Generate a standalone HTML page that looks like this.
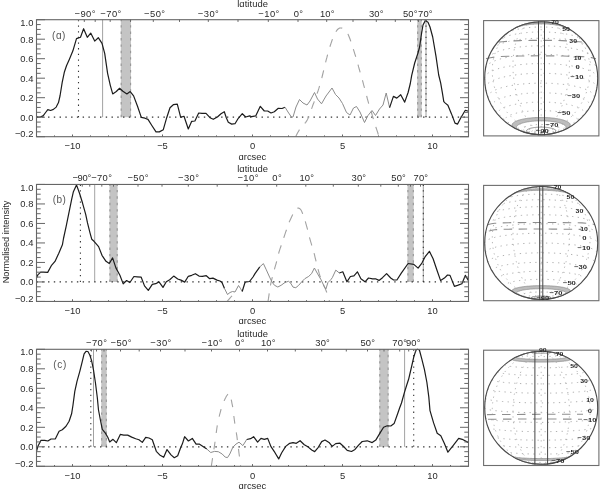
<!DOCTYPE html>
<html><head><meta charset="utf-8"><style>
html,body{margin:0;padding:0;background:#fff;width:600px;height:489px;overflow:hidden}
svg{display:block;will-change:transform}
text{font-family:"Liberation Sans", sans-serif}
</style></head><body>
<svg width="600" height="489" viewBox="0 0 600 489" font-family='"Liberation Sans", sans-serif'>
<rect width="600" height="489" fill="#fff"/>
<rect x="120.80" y="19.70" width="10.20" height="97.50" fill="#c4c4c4"/>
<line x1="121.20" y1="117.20" x2="121.20" y2="19.70" stroke="#959595" stroke-width="1.1" stroke-dasharray="2.4 4.0"/>
<line x1="130.60" y1="117.20" x2="130.60" y2="19.70" stroke="#959595" stroke-width="1.1" stroke-dasharray="2.4 4.0"/>
<rect x="417.30" y="19.70" width="4.40" height="97.50" fill="#c4c4c4"/>
<line x1="417.70" y1="117.20" x2="417.70" y2="19.70" stroke="#959595" stroke-width="1.1" stroke-dasharray="2.4 4.0"/>
<line x1="421.30" y1="117.20" x2="421.30" y2="19.70" stroke="#959595" stroke-width="1.1" stroke-dasharray="2.4 4.0"/>
<line x1="102.60" y1="19.70" x2="102.60" y2="117.20" stroke="#8a8a8a" stroke-width="0.8"/>
<line x1="426.00" y1="19.70" x2="426.00" y2="117.20" stroke="#8a8a8a" stroke-width="0.8"/>
<line x1="78.50" y1="117.20" x2="78.50" y2="20.20" stroke="#333" stroke-width="1.1" stroke-dasharray="1.3 4.35"/>
<line x1="426.00" y1="117.20" x2="426.00" y2="20.20" stroke="#333" stroke-width="1.1" stroke-dasharray="1.3 4.35"/>
<line x1="36.50" y1="117.20" x2="468.50" y2="117.20" stroke="#333" stroke-width="1.2" stroke-dasharray="1.4 4.37"/>
<polyline points="295.8,136.5 296.5,135.1 297.5,133.1 298.7,130.9 299.9,128.9 301.3,127.2 302.9,125.5 304.4,123.9 305.7,122.3 306.7,120.9 307.5,119.5 308.2,118.1 308.9,116.6 309.6,114.9 310.1,113.1 310.7,111.2 311.4,109.2 312.2,107.1 313.0,104.8 313.9,102.5 314.7,100.2 315.5,97.9 316.4,95.5 317.2,93.2 318.0,91.0 318.7,88.9 319.3,86.9 319.9,84.9 320.4,83.0 320.9,81.3 321.3,79.7 321.8,78.0 322.3,76.0 322.9,73.5 323.6,70.7 324.3,67.8 325.0,65.0 325.6,62.4 326.2,59.9 326.9,57.4 327.5,55.0 328.2,52.6 328.9,50.2 329.6,47.8 330.3,45.5 331.1,43.1 331.9,40.8 332.7,38.5 333.5,36.5 334.3,34.8 335.0,33.3 335.7,32.1 336.4,31.0 337.0,30.1 337.6,29.5 338.1,29.0 338.6,28.6 339.1,28.3 339.6,28.1 340.0,28.0 340.5,28.0 340.9,28.0 341.4,28.0 341.8,28.1 342.3,28.3 342.8,28.5 343.3,28.7 343.9,29.1 344.5,29.5 345.1,30.0 345.8,30.7 346.5,31.5 347.2,32.5 347.9,33.9 348.6,35.5 349.3,37.3 350.0,39.0 350.5,40.5 351.0,41.9 351.5,43.5 352.1,45.5 352.9,48.0 353.9,50.8 354.8,53.8 355.8,56.9 356.7,60.1 357.7,63.5 358.6,66.9 359.5,70.0 360.3,72.9 361.1,75.6 361.8,78.1 362.5,80.5 363.1,82.6 363.5,84.4 364.0,86.1 364.5,88.0 365.1,90.1 365.6,92.2 366.2,94.4 366.8,96.5 367.3,98.5 367.8,100.3 368.3,102.2 368.8,104.0 369.3,105.8 369.9,107.4 370.4,109.2 371.0,111.0 371.6,113.0 372.2,115.2 372.9,117.4 373.5,119.5 374.1,121.5 374.7,123.5 375.3,125.4 376.0,127.5 376.8,129.9 377.7,132.5 378.4,134.9 379.0,136.5" fill="none" stroke="#a2a2a2" stroke-width="1.1" stroke-dasharray="8.0 8.20" stroke-dashoffset="0.20"/>
<polyline points="36.5,117.2 40.5,117.0 43.3,115.6 45.6,112.5 47.8,109.6 50.6,110.5 53.4,109.4 56.2,107.1 58.5,102.6 60.1,95.5 62.2,82.3 64.3,72.3 66.5,65.8 69.3,59.4 72.9,50.8 76.5,38.6 78.6,37.9 80.5,37.2 83.6,28.7 87.3,37.3 90.7,33.1 94.7,41.1 98.3,37.7 102.0,43.3 104.7,53.3 107.6,73.3 110.3,85.3 112.7,93.9 116.3,91.5 119.6,88.3 122.9,91.3 126.9,93.9 130.2,91.6 133.6,95.9 137.6,106.5 141.3,117.4 145.0,118.2 148.0,119.4 152.0,125.7 156.0,131.9 159.3,131.9 163.3,129.7 166.7,117.7 170.0,107.7 173.3,104.7 177.3,104.1 180.7,117.3 184.0,116.3 188.3,129.0 191.7,121.3 194.9,121.0 198.7,113.0 202.0,113.4 206.0,113.3 210.0,117.7 213.3,119.3 217.4,117.0 221.0,113.7 224.3,111.7 226.3,117.7 228.3,122.3 231.7,124.1 235.0,123.7 238.3,118.3 242.3,113.7 245.7,117.0 249.7,115.9 251.7,116.7 255.7,115.9 260.3,106.3 264.3,111.0 267.7,111.0 271.0,113.0 274.3,111.7 278.3,108.3 282.0,108.5 285.0,107.2" fill="none" stroke="#1c1c1c" stroke-width="1.2" stroke-linejoin="round"/>
<polyline points="285.0,107.2 288.0,112.0 291.5,117.2 293.0,117.0 296.0,107.0 299.5,99.5 303.0,103.0 307.0,105.0 310.0,101.0 314.5,92.5 317.5,99.0 321.5,103.8 326.0,96.0 332.0,88.0 335.5,94.5 339.0,98.0 342.5,103.5 346.5,112.5 350.0,115.0 353.5,108.0 356.5,106.5 360.0,112.0 364.5,122.5 368.0,115.5 372.0,110.5 375.5,115.5 379.5,109.0 383.0,105.0 386.2,93.0 389.6,107.6" fill="none" stroke="#8c8c8c" stroke-width="1.0" stroke-linejoin="round"/>
<polyline points="389.6,107.6 393.4,96.4 396.8,98.1 400.7,94.7 404.7,102.1 408.1,92.5 410.3,83.5 411.7,75.3 414.7,63.0 418.0,53.0 419.6,47.0 421.3,35.0 423.0,25.0 425.3,20.6 428.0,22.3 430.0,27.0 432.7,37.0 436.0,56.3 438.7,75.0 440.7,83.2 442.3,92.4 443.8,101.6 445.3,103.1 447.9,105.2 451.5,113.9 455.0,123.1 457.6,124.1 460.7,118.0 465.3,110.3 468.5,111.3" fill="none" stroke="#1c1c1c" stroke-width="1.2" stroke-linejoin="round"/>
<rect x="36.50" y="19.70" width="432.00" height="117.00" fill="none" stroke="#666" stroke-width="1.1"/>
<line x1="36.50" y1="136.70" x2="45.00" y2="136.70" stroke="#666" stroke-width="1"/>
<line x1="460.00" y1="136.70" x2="468.50" y2="136.70" stroke="#666" stroke-width="1"/>
<line x1="36.50" y1="131.82" x2="40.70" y2="131.82" stroke="#666" stroke-width="1"/>
<line x1="464.30" y1="131.82" x2="468.50" y2="131.82" stroke="#666" stroke-width="1"/>
<line x1="36.50" y1="126.95" x2="40.70" y2="126.95" stroke="#666" stroke-width="1"/>
<line x1="464.30" y1="126.95" x2="468.50" y2="126.95" stroke="#666" stroke-width="1"/>
<line x1="36.50" y1="122.08" x2="40.70" y2="122.08" stroke="#666" stroke-width="1"/>
<line x1="464.30" y1="122.08" x2="468.50" y2="122.08" stroke="#666" stroke-width="1"/>
<line x1="36.50" y1="117.20" x2="45.00" y2="117.20" stroke="#666" stroke-width="1"/>
<line x1="460.00" y1="117.20" x2="468.50" y2="117.20" stroke="#666" stroke-width="1"/>
<line x1="36.50" y1="112.33" x2="40.70" y2="112.33" stroke="#666" stroke-width="1"/>
<line x1="464.30" y1="112.33" x2="468.50" y2="112.33" stroke="#666" stroke-width="1"/>
<line x1="36.50" y1="107.45" x2="40.70" y2="107.45" stroke="#666" stroke-width="1"/>
<line x1="464.30" y1="107.45" x2="468.50" y2="107.45" stroke="#666" stroke-width="1"/>
<line x1="36.50" y1="102.58" x2="40.70" y2="102.58" stroke="#666" stroke-width="1"/>
<line x1="464.30" y1="102.58" x2="468.50" y2="102.58" stroke="#666" stroke-width="1"/>
<line x1="36.50" y1="97.70" x2="45.00" y2="97.70" stroke="#666" stroke-width="1"/>
<line x1="460.00" y1="97.70" x2="468.50" y2="97.70" stroke="#666" stroke-width="1"/>
<line x1="36.50" y1="92.83" x2="40.70" y2="92.83" stroke="#666" stroke-width="1"/>
<line x1="464.30" y1="92.83" x2="468.50" y2="92.83" stroke="#666" stroke-width="1"/>
<line x1="36.50" y1="87.95" x2="40.70" y2="87.95" stroke="#666" stroke-width="1"/>
<line x1="464.30" y1="87.95" x2="468.50" y2="87.95" stroke="#666" stroke-width="1"/>
<line x1="36.50" y1="83.07" x2="40.70" y2="83.07" stroke="#666" stroke-width="1"/>
<line x1="464.30" y1="83.07" x2="468.50" y2="83.07" stroke="#666" stroke-width="1"/>
<line x1="36.50" y1="78.20" x2="45.00" y2="78.20" stroke="#666" stroke-width="1"/>
<line x1="460.00" y1="78.20" x2="468.50" y2="78.20" stroke="#666" stroke-width="1"/>
<line x1="36.50" y1="73.33" x2="40.70" y2="73.33" stroke="#666" stroke-width="1"/>
<line x1="464.30" y1="73.33" x2="468.50" y2="73.33" stroke="#666" stroke-width="1"/>
<line x1="36.50" y1="68.45" x2="40.70" y2="68.45" stroke="#666" stroke-width="1"/>
<line x1="464.30" y1="68.45" x2="468.50" y2="68.45" stroke="#666" stroke-width="1"/>
<line x1="36.50" y1="63.57" x2="40.70" y2="63.57" stroke="#666" stroke-width="1"/>
<line x1="464.30" y1="63.57" x2="468.50" y2="63.57" stroke="#666" stroke-width="1"/>
<line x1="36.50" y1="58.70" x2="45.00" y2="58.70" stroke="#666" stroke-width="1"/>
<line x1="460.00" y1="58.70" x2="468.50" y2="58.70" stroke="#666" stroke-width="1"/>
<line x1="36.50" y1="53.82" x2="40.70" y2="53.82" stroke="#666" stroke-width="1"/>
<line x1="464.30" y1="53.82" x2="468.50" y2="53.82" stroke="#666" stroke-width="1"/>
<line x1="36.50" y1="48.95" x2="40.70" y2="48.95" stroke="#666" stroke-width="1"/>
<line x1="464.30" y1="48.95" x2="468.50" y2="48.95" stroke="#666" stroke-width="1"/>
<line x1="36.50" y1="44.08" x2="40.70" y2="44.08" stroke="#666" stroke-width="1"/>
<line x1="464.30" y1="44.08" x2="468.50" y2="44.08" stroke="#666" stroke-width="1"/>
<line x1="36.50" y1="39.20" x2="45.00" y2="39.20" stroke="#666" stroke-width="1"/>
<line x1="460.00" y1="39.20" x2="468.50" y2="39.20" stroke="#666" stroke-width="1"/>
<line x1="36.50" y1="34.32" x2="40.70" y2="34.32" stroke="#666" stroke-width="1"/>
<line x1="464.30" y1="34.32" x2="468.50" y2="34.32" stroke="#666" stroke-width="1"/>
<line x1="36.50" y1="29.45" x2="40.70" y2="29.45" stroke="#666" stroke-width="1"/>
<line x1="464.30" y1="29.45" x2="468.50" y2="29.45" stroke="#666" stroke-width="1"/>
<line x1="36.50" y1="24.57" x2="40.70" y2="24.57" stroke="#666" stroke-width="1"/>
<line x1="464.30" y1="24.57" x2="468.50" y2="24.57" stroke="#666" stroke-width="1"/>
<line x1="36.50" y1="19.70" x2="45.00" y2="19.70" stroke="#666" stroke-width="1"/>
<line x1="460.00" y1="19.70" x2="468.50" y2="19.70" stroke="#666" stroke-width="1"/>
<text x="33.40" y="25.80" font-size="9.4" text-anchor="end" fill="#2a2a2a" >1.0</text>
<text x="33.40" y="42.60" font-size="9.4" text-anchor="end" fill="#2a2a2a" >0.8</text>
<text x="33.40" y="62.10" font-size="9.4" text-anchor="end" fill="#2a2a2a" >0.6</text>
<text x="33.40" y="81.60" font-size="9.4" text-anchor="end" fill="#2a2a2a" >0.4</text>
<text x="33.40" y="101.10" font-size="9.4" text-anchor="end" fill="#2a2a2a" >0.2</text>
<text x="33.40" y="120.60" font-size="9.4" text-anchor="end" fill="#2a2a2a" >0.0</text>
<text x="33.40" y="136.90" font-size="9.4" text-anchor="end" fill="#2a2a2a" >−0.2</text>
<line x1="36.50" y1="135.40" x2="36.50" y2="136.70" stroke="#666" stroke-width="1"/>
<line x1="54.50" y1="135.40" x2="54.50" y2="136.70" stroke="#666" stroke-width="1"/>
<line x1="72.50" y1="134.50" x2="72.50" y2="136.70" stroke="#666" stroke-width="1"/>
<line x1="90.50" y1="135.40" x2="90.50" y2="136.70" stroke="#666" stroke-width="1"/>
<line x1="108.50" y1="135.40" x2="108.50" y2="136.70" stroke="#666" stroke-width="1"/>
<line x1="126.50" y1="135.40" x2="126.50" y2="136.70" stroke="#666" stroke-width="1"/>
<line x1="144.50" y1="135.40" x2="144.50" y2="136.70" stroke="#666" stroke-width="1"/>
<line x1="162.50" y1="134.50" x2="162.50" y2="136.70" stroke="#666" stroke-width="1"/>
<line x1="180.50" y1="135.40" x2="180.50" y2="136.70" stroke="#666" stroke-width="1"/>
<line x1="198.50" y1="135.40" x2="198.50" y2="136.70" stroke="#666" stroke-width="1"/>
<line x1="216.50" y1="135.40" x2="216.50" y2="136.70" stroke="#666" stroke-width="1"/>
<line x1="234.50" y1="135.40" x2="234.50" y2="136.70" stroke="#666" stroke-width="1"/>
<line x1="252.50" y1="134.50" x2="252.50" y2="136.70" stroke="#666" stroke-width="1"/>
<line x1="270.50" y1="135.40" x2="270.50" y2="136.70" stroke="#666" stroke-width="1"/>
<line x1="288.50" y1="135.40" x2="288.50" y2="136.70" stroke="#666" stroke-width="1"/>
<line x1="306.50" y1="135.40" x2="306.50" y2="136.70" stroke="#666" stroke-width="1"/>
<line x1="324.50" y1="135.40" x2="324.50" y2="136.70" stroke="#666" stroke-width="1"/>
<line x1="342.50" y1="134.50" x2="342.50" y2="136.70" stroke="#666" stroke-width="1"/>
<line x1="360.50" y1="135.40" x2="360.50" y2="136.70" stroke="#666" stroke-width="1"/>
<line x1="378.50" y1="135.40" x2="378.50" y2="136.70" stroke="#666" stroke-width="1"/>
<line x1="396.50" y1="135.40" x2="396.50" y2="136.70" stroke="#666" stroke-width="1"/>
<line x1="414.50" y1="135.40" x2="414.50" y2="136.70" stroke="#666" stroke-width="1"/>
<line x1="432.50" y1="134.50" x2="432.50" y2="136.70" stroke="#666" stroke-width="1"/>
<line x1="450.50" y1="135.40" x2="450.50" y2="136.70" stroke="#666" stroke-width="1"/>
<line x1="468.50" y1="135.40" x2="468.50" y2="136.70" stroke="#666" stroke-width="1"/>
<text x="72.50" y="149.00" font-size="9.4" text-anchor="middle" fill="#2a2a2a" >−10</text>
<text x="162.50" y="149.00" font-size="9.4" text-anchor="middle" fill="#2a2a2a" >−5</text>
<text x="252.50" y="149.00" font-size="9.4" text-anchor="middle" fill="#2a2a2a" >0</text>
<text x="342.50" y="149.00" font-size="9.4" text-anchor="middle" fill="#2a2a2a" >5</text>
<text x="432.50" y="149.00" font-size="9.4" text-anchor="middle" fill="#2a2a2a" >10</text>
<text x="252.40" y="159.70" font-size="9.4" text-anchor="middle" fill="#2a2a2a" >ɑrcsec</text>
<line x1="84.30" y1="19.70" x2="84.30" y2="21.90" stroke="#666" stroke-width="1"/>
<line x1="95.20" y1="19.70" x2="95.20" y2="21.90" stroke="#666" stroke-width="1"/>
<line x1="110.20" y1="19.70" x2="110.20" y2="21.90" stroke="#666" stroke-width="1"/>
<line x1="130.50" y1="19.70" x2="130.50" y2="21.90" stroke="#666" stroke-width="1"/>
<line x1="153.30" y1="19.70" x2="153.30" y2="21.90" stroke="#666" stroke-width="1"/>
<line x1="179.50" y1="19.70" x2="179.50" y2="21.90" stroke="#666" stroke-width="1"/>
<line x1="208.30" y1="19.70" x2="208.30" y2="21.90" stroke="#666" stroke-width="1"/>
<line x1="238.00" y1="19.70" x2="238.00" y2="21.90" stroke="#666" stroke-width="1"/>
<line x1="268.30" y1="19.70" x2="268.30" y2="21.90" stroke="#666" stroke-width="1"/>
<line x1="298.00" y1="19.70" x2="298.00" y2="21.90" stroke="#666" stroke-width="1"/>
<line x1="326.70" y1="19.70" x2="326.70" y2="21.90" stroke="#666" stroke-width="1"/>
<line x1="353.00" y1="19.70" x2="353.00" y2="21.90" stroke="#666" stroke-width="1"/>
<line x1="376.30" y1="19.70" x2="376.30" y2="21.90" stroke="#666" stroke-width="1"/>
<line x1="395.30" y1="19.70" x2="395.30" y2="21.90" stroke="#666" stroke-width="1"/>
<line x1="410.50" y1="19.70" x2="410.50" y2="21.90" stroke="#666" stroke-width="1"/>
<line x1="418.50" y1="19.70" x2="418.50" y2="21.90" stroke="#666" stroke-width="1"/>
<line x1="425.30" y1="19.70" x2="425.30" y2="21.90" stroke="#666" stroke-width="1"/>
<text x="85.00" y="17.00" font-size="9.4" text-anchor="middle" fill="#2a2a2a"  textLength="21.00" lengthAdjust="spacing">−90°</text>
<text x="110.80" y="17.00" font-size="9.4" text-anchor="middle" fill="#2a2a2a"  textLength="21.00" lengthAdjust="spacing">−70°</text>
<text x="154.60" y="17.00" font-size="9.4" text-anchor="middle" fill="#2a2a2a"  textLength="21.00" lengthAdjust="spacing">−50°</text>
<text x="208.30" y="17.00" font-size="9.4" text-anchor="middle" fill="#2a2a2a"  textLength="21.00" lengthAdjust="spacing">−30°</text>
<text x="268.80" y="17.00" font-size="9.4" text-anchor="middle" fill="#2a2a2a"  textLength="21.00" lengthAdjust="spacing">−10°</text>
<text x="298.30" y="17.00" font-size="9.4" text-anchor="middle" fill="#2a2a2a"  textLength="9.30" lengthAdjust="spacing">0°</text>
<text x="327.20" y="17.00" font-size="9.4" text-anchor="middle" fill="#2a2a2a"  textLength="14.60" lengthAdjust="spacing">10°</text>
<text x="376.20" y="17.00" font-size="9.4" text-anchor="middle" fill="#2a2a2a"  textLength="14.60" lengthAdjust="spacing">30°</text>
<text x="410.20" y="17.00" font-size="9.4" text-anchor="middle" fill="#2a2a2a"  textLength="14.60" lengthAdjust="spacing">50°</text>
<text x="425.30" y="17.00" font-size="9.4" text-anchor="middle" fill="#2a2a2a"  textLength="14.60" lengthAdjust="spacing">70°</text>
<text x="252.60" y="7.10" font-size="9.4" text-anchor="middle" fill="#2a2a2a"  textLength="30.80" lengthAdjust="spacing">lɑtitude</text>
<text x="58.70" y="38.60" font-size="10" text-anchor="middle" fill="#555"  textLength="13.20" lengthAdjust="spacing">(ɑ)</text>
<rect x="109.50" y="184.45" width="8.10" height="97.50" fill="#c4c4c4"/>
<line x1="109.90" y1="281.95" x2="109.90" y2="184.45" stroke="#959595" stroke-width="1.1" stroke-dasharray="2.4 4.0"/>
<line x1="117.20" y1="281.95" x2="117.20" y2="184.45" stroke="#959595" stroke-width="1.1" stroke-dasharray="2.4 4.0"/>
<rect x="407.50" y="184.45" width="6.20" height="97.50" fill="#c4c4c4"/>
<line x1="407.90" y1="281.95" x2="407.90" y2="184.45" stroke="#959595" stroke-width="1.1" stroke-dasharray="2.4 4.0"/>
<line x1="413.30" y1="281.95" x2="413.30" y2="184.45" stroke="#959595" stroke-width="1.1" stroke-dasharray="2.4 4.0"/>
<line x1="94.70" y1="184.45" x2="94.70" y2="281.95" stroke="#8a8a8a" stroke-width="0.8"/>
<line x1="423.30" y1="184.45" x2="423.30" y2="281.95" stroke="#8a8a8a" stroke-width="0.8"/>
<line x1="80.40" y1="281.95" x2="80.40" y2="184.95" stroke="#333" stroke-width="1.1" stroke-dasharray="1.3 4.35"/>
<line x1="423.30" y1="281.95" x2="423.30" y2="184.95" stroke="#333" stroke-width="1.1" stroke-dasharray="1.3 4.35"/>
<line x1="36.50" y1="281.95" x2="468.50" y2="281.95" stroke="#333" stroke-width="1.2" stroke-dasharray="1.4 4.37"/>
<polyline points="268.0,301.3 268.5,298.4 269.1,294.1 269.8,289.6 270.4,286.0 270.8,283.6 271.2,281.8 271.6,280.2 272.0,278.5 272.5,276.6 273.0,274.6 273.5,272.6 274.1,270.5 274.7,268.3 275.3,266.1 276.0,263.8 276.6,261.5 277.2,259.1 277.8,256.7 278.4,254.3 279.0,252.0 279.7,249.8 280.4,247.7 281.1,245.8 281.7,244.0 282.2,242.6 282.6,241.4 283.0,240.1 283.5,238.6 284.2,236.5 285.0,234.1 285.8,231.7 286.6,229.5 287.2,227.6 287.8,225.8 288.4,224.1 289.0,222.5 289.7,220.9 290.4,219.4 291.1,217.9 291.8,216.5 292.5,215.1 293.2,213.8 293.9,212.6 294.5,211.5 295.1,210.5 295.7,209.7 296.2,209.0 296.8,208.5 297.4,208.2 297.9,208.1 298.5,208.1 299.0,208.2 299.5,208.5 300.0,208.9 300.5,209.4 301.0,210.0 301.4,210.7 301.7,211.4 302.1,212.3 302.5,213.4 303.0,214.9 303.7,216.6 304.3,218.5 305.0,220.5 305.7,222.8 306.4,225.3 307.1,227.8 307.7,230.0 308.2,231.8 308.5,233.5 308.9,235.0 309.3,236.8 309.9,238.9 310.5,241.1 311.2,243.4 311.8,245.4 312.3,247.1 312.7,248.5 313.2,249.9 313.6,251.5 314.1,253.3 314.6,255.2 315.0,257.1 315.5,259.0 315.9,260.7 316.3,262.3 316.7,264.1 317.2,266.0 317.8,268.3 318.5,270.9 319.2,273.5 320.0,276.0 320.8,278.2 321.7,280.4 322.5,282.5 323.4,284.5 324.2,286.4 325.1,288.3 325.9,290.2 326.7,292.2 327.5,294.6 328.3,297.2 329.0,299.6 329.5,301.3" fill="none" stroke="#a2a2a2" stroke-width="1.1" stroke-dasharray="8.5 8.00" stroke-dashoffset="0.50"/>
<polyline points="227.2,301.3 227.6,300.8 228.2,300.1 228.9,299.3 229.5,298.6 230.2,297.8 230.9,297.0 231.5,296.3 232.0,295.8" fill="none" stroke="#a2a2a2" stroke-width="1.1" stroke-dasharray="8 8.00" stroke-dashoffset="0.00"/>
<polyline points="36.5,277.9 37.8,274.9 40.7,272.1 43.4,272.1 47.7,272.4 51.3,265.7 55.0,261.4 58.7,253.4 62.4,244.8 63.5,238.5 66.1,226.6 69.1,211.9 71.6,199.6 73.4,191.7 76.5,184.9 79.6,193.5 82.6,203.3 85.7,214.4 87.5,222.9 90.0,232.8 91.8,239.3 94.0,241.3 96.0,243.6 98.6,246.6 102.0,255.3 106.0,261.3 109.3,263.5 112.6,257.9 115.9,267.9 119.9,275.2 123.2,283.9 126.6,280.5 129.9,282.5 133.9,276.5 137.2,276.8 141.2,277.2 144.5,285.9 148.3,290.3 152.3,284.3 155.7,283.7 159.0,281.9 163.0,287.4 166.3,281.7 169.7,279.7 173.7,276.1 177.7,279.0 181.0,280.1 184.7,282.1 188.3,276.3 191.7,275.3 195.4,273.7 199.0,276.1 202.3,276.3 206.3,275.7 209.7,278.7 213.0,278.1 217.0,280.1 220.0,281.0 222.0,282.5 224.5,288.5" fill="none" stroke="#1c1c1c" stroke-width="1.2" stroke-linejoin="round"/>
<polyline points="224.5,288.5 227.5,294.5 230.0,292.5 232.5,291.5 235.0,292.0 238.5,285.5 240.5,288.5 242.2,291.5" fill="none" stroke="#8c8c8c" stroke-width="1.0" stroke-linejoin="round"/>
<polyline points="242.2,291.5 245.0,282.5 246.5,281.8 249.5,281.5 253.0,277.0 255.0,273.6 259.8,266.9" fill="none" stroke="#1c1c1c" stroke-width="1.2" stroke-linejoin="round"/>
<polyline points="259.8,266.9 263.4,263.6 266.3,269.8 269.6,277.1 272.0,282.0 274.5,285.3 277.8,287.0 281.1,285.3 285.1,282.4 288.5,281.3 290.7,283.2 293.0,287.1 295.8,287.7 298.6,285.4 302.0,281.5 304.8,278.7 308.7,276.4 311.6,273.6 314.4,268.0 317.2,273.1 321.1,279.8 324.5,287.1 325.9,289.0 327.9,282.6 330.7,279.8 332.3,277.7 335.8,270.1 339.3,273.0" fill="none" stroke="#8c8c8c" stroke-width="1.0" stroke-linejoin="round"/>
<polyline points="339.3,273.0 342.8,271.8 346.9,281.8 350.4,276.5 353.9,275.9 357.4,271.8 360.9,278.8 365.0,281.8 368.5,278.0 372.6,278.8 375.5,278.8 379.0,280.4 382.5,277.7 386.6,273.6 390.7,278.0 393.6,280.0 396.9,280.0 401.3,273.1 408.1,263.5 413.8,264.4 418.1,268.1 421.9,263.1 425.0,256.9 429.4,251.3 433.1,258.8 436.9,270.0 440.6,280.6 444.4,278.1 447.5,275.0 450.0,275.4 454.4,286.3 457.5,285.4 461.9,283.8 465.3,275.4 468.5,280.6" fill="none" stroke="#1c1c1c" stroke-width="1.2" stroke-linejoin="round"/>
<rect x="36.50" y="184.45" width="432.00" height="117.00" fill="none" stroke="#666" stroke-width="1.1"/>
<line x1="36.50" y1="301.45" x2="45.00" y2="301.45" stroke="#666" stroke-width="1"/>
<line x1="460.00" y1="301.45" x2="468.50" y2="301.45" stroke="#666" stroke-width="1"/>
<line x1="36.50" y1="296.57" x2="40.70" y2="296.57" stroke="#666" stroke-width="1"/>
<line x1="464.30" y1="296.57" x2="468.50" y2="296.57" stroke="#666" stroke-width="1"/>
<line x1="36.50" y1="291.70" x2="40.70" y2="291.70" stroke="#666" stroke-width="1"/>
<line x1="464.30" y1="291.70" x2="468.50" y2="291.70" stroke="#666" stroke-width="1"/>
<line x1="36.50" y1="286.82" x2="40.70" y2="286.82" stroke="#666" stroke-width="1"/>
<line x1="464.30" y1="286.82" x2="468.50" y2="286.82" stroke="#666" stroke-width="1"/>
<line x1="36.50" y1="281.95" x2="45.00" y2="281.95" stroke="#666" stroke-width="1"/>
<line x1="460.00" y1="281.95" x2="468.50" y2="281.95" stroke="#666" stroke-width="1"/>
<line x1="36.50" y1="277.07" x2="40.70" y2="277.07" stroke="#666" stroke-width="1"/>
<line x1="464.30" y1="277.07" x2="468.50" y2="277.07" stroke="#666" stroke-width="1"/>
<line x1="36.50" y1="272.20" x2="40.70" y2="272.20" stroke="#666" stroke-width="1"/>
<line x1="464.30" y1="272.20" x2="468.50" y2="272.20" stroke="#666" stroke-width="1"/>
<line x1="36.50" y1="267.32" x2="40.70" y2="267.32" stroke="#666" stroke-width="1"/>
<line x1="464.30" y1="267.32" x2="468.50" y2="267.32" stroke="#666" stroke-width="1"/>
<line x1="36.50" y1="262.45" x2="45.00" y2="262.45" stroke="#666" stroke-width="1"/>
<line x1="460.00" y1="262.45" x2="468.50" y2="262.45" stroke="#666" stroke-width="1"/>
<line x1="36.50" y1="257.57" x2="40.70" y2="257.57" stroke="#666" stroke-width="1"/>
<line x1="464.30" y1="257.57" x2="468.50" y2="257.57" stroke="#666" stroke-width="1"/>
<line x1="36.50" y1="252.70" x2="40.70" y2="252.70" stroke="#666" stroke-width="1"/>
<line x1="464.30" y1="252.70" x2="468.50" y2="252.70" stroke="#666" stroke-width="1"/>
<line x1="36.50" y1="247.82" x2="40.70" y2="247.82" stroke="#666" stroke-width="1"/>
<line x1="464.30" y1="247.82" x2="468.50" y2="247.82" stroke="#666" stroke-width="1"/>
<line x1="36.50" y1="242.95" x2="45.00" y2="242.95" stroke="#666" stroke-width="1"/>
<line x1="460.00" y1="242.95" x2="468.50" y2="242.95" stroke="#666" stroke-width="1"/>
<line x1="36.50" y1="238.07" x2="40.70" y2="238.07" stroke="#666" stroke-width="1"/>
<line x1="464.30" y1="238.07" x2="468.50" y2="238.07" stroke="#666" stroke-width="1"/>
<line x1="36.50" y1="233.20" x2="40.70" y2="233.20" stroke="#666" stroke-width="1"/>
<line x1="464.30" y1="233.20" x2="468.50" y2="233.20" stroke="#666" stroke-width="1"/>
<line x1="36.50" y1="228.32" x2="40.70" y2="228.32" stroke="#666" stroke-width="1"/>
<line x1="464.30" y1="228.32" x2="468.50" y2="228.32" stroke="#666" stroke-width="1"/>
<line x1="36.50" y1="223.45" x2="45.00" y2="223.45" stroke="#666" stroke-width="1"/>
<line x1="460.00" y1="223.45" x2="468.50" y2="223.45" stroke="#666" stroke-width="1"/>
<line x1="36.50" y1="218.57" x2="40.70" y2="218.57" stroke="#666" stroke-width="1"/>
<line x1="464.30" y1="218.57" x2="468.50" y2="218.57" stroke="#666" stroke-width="1"/>
<line x1="36.50" y1="213.70" x2="40.70" y2="213.70" stroke="#666" stroke-width="1"/>
<line x1="464.30" y1="213.70" x2="468.50" y2="213.70" stroke="#666" stroke-width="1"/>
<line x1="36.50" y1="208.82" x2="40.70" y2="208.82" stroke="#666" stroke-width="1"/>
<line x1="464.30" y1="208.82" x2="468.50" y2="208.82" stroke="#666" stroke-width="1"/>
<line x1="36.50" y1="203.95" x2="45.00" y2="203.95" stroke="#666" stroke-width="1"/>
<line x1="460.00" y1="203.95" x2="468.50" y2="203.95" stroke="#666" stroke-width="1"/>
<line x1="36.50" y1="199.07" x2="40.70" y2="199.07" stroke="#666" stroke-width="1"/>
<line x1="464.30" y1="199.07" x2="468.50" y2="199.07" stroke="#666" stroke-width="1"/>
<line x1="36.50" y1="194.20" x2="40.70" y2="194.20" stroke="#666" stroke-width="1"/>
<line x1="464.30" y1="194.20" x2="468.50" y2="194.20" stroke="#666" stroke-width="1"/>
<line x1="36.50" y1="189.32" x2="40.70" y2="189.32" stroke="#666" stroke-width="1"/>
<line x1="464.30" y1="189.32" x2="468.50" y2="189.32" stroke="#666" stroke-width="1"/>
<line x1="36.50" y1="184.45" x2="45.00" y2="184.45" stroke="#666" stroke-width="1"/>
<line x1="460.00" y1="184.45" x2="468.50" y2="184.45" stroke="#666" stroke-width="1"/>
<text x="33.40" y="190.55" font-size="9.4" text-anchor="end" fill="#2a2a2a" >1.0</text>
<text x="33.40" y="207.35" font-size="9.4" text-anchor="end" fill="#2a2a2a" >0.8</text>
<text x="33.40" y="226.85" font-size="9.4" text-anchor="end" fill="#2a2a2a" >0.6</text>
<text x="33.40" y="246.35" font-size="9.4" text-anchor="end" fill="#2a2a2a" >0.4</text>
<text x="33.40" y="265.85" font-size="9.4" text-anchor="end" fill="#2a2a2a" >0.2</text>
<text x="33.40" y="285.35" font-size="9.4" text-anchor="end" fill="#2a2a2a" >0.0</text>
<text x="33.40" y="301.65" font-size="9.4" text-anchor="end" fill="#2a2a2a" >−0.2</text>
<line x1="36.50" y1="300.15" x2="36.50" y2="301.45" stroke="#666" stroke-width="1"/>
<line x1="54.50" y1="300.15" x2="54.50" y2="301.45" stroke="#666" stroke-width="1"/>
<line x1="72.50" y1="299.25" x2="72.50" y2="301.45" stroke="#666" stroke-width="1"/>
<line x1="90.50" y1="300.15" x2="90.50" y2="301.45" stroke="#666" stroke-width="1"/>
<line x1="108.50" y1="300.15" x2="108.50" y2="301.45" stroke="#666" stroke-width="1"/>
<line x1="126.50" y1="300.15" x2="126.50" y2="301.45" stroke="#666" stroke-width="1"/>
<line x1="144.50" y1="300.15" x2="144.50" y2="301.45" stroke="#666" stroke-width="1"/>
<line x1="162.50" y1="299.25" x2="162.50" y2="301.45" stroke="#666" stroke-width="1"/>
<line x1="180.50" y1="300.15" x2="180.50" y2="301.45" stroke="#666" stroke-width="1"/>
<line x1="198.50" y1="300.15" x2="198.50" y2="301.45" stroke="#666" stroke-width="1"/>
<line x1="216.50" y1="300.15" x2="216.50" y2="301.45" stroke="#666" stroke-width="1"/>
<line x1="234.50" y1="300.15" x2="234.50" y2="301.45" stroke="#666" stroke-width="1"/>
<line x1="252.50" y1="299.25" x2="252.50" y2="301.45" stroke="#666" stroke-width="1"/>
<line x1="270.50" y1="300.15" x2="270.50" y2="301.45" stroke="#666" stroke-width="1"/>
<line x1="288.50" y1="300.15" x2="288.50" y2="301.45" stroke="#666" stroke-width="1"/>
<line x1="306.50" y1="300.15" x2="306.50" y2="301.45" stroke="#666" stroke-width="1"/>
<line x1="324.50" y1="300.15" x2="324.50" y2="301.45" stroke="#666" stroke-width="1"/>
<line x1="342.50" y1="299.25" x2="342.50" y2="301.45" stroke="#666" stroke-width="1"/>
<line x1="360.50" y1="300.15" x2="360.50" y2="301.45" stroke="#666" stroke-width="1"/>
<line x1="378.50" y1="300.15" x2="378.50" y2="301.45" stroke="#666" stroke-width="1"/>
<line x1="396.50" y1="300.15" x2="396.50" y2="301.45" stroke="#666" stroke-width="1"/>
<line x1="414.50" y1="300.15" x2="414.50" y2="301.45" stroke="#666" stroke-width="1"/>
<line x1="432.50" y1="299.25" x2="432.50" y2="301.45" stroke="#666" stroke-width="1"/>
<line x1="450.50" y1="300.15" x2="450.50" y2="301.45" stroke="#666" stroke-width="1"/>
<line x1="468.50" y1="300.15" x2="468.50" y2="301.45" stroke="#666" stroke-width="1"/>
<text x="72.50" y="313.75" font-size="9.4" text-anchor="middle" fill="#2a2a2a" >−10</text>
<text x="162.50" y="313.75" font-size="9.4" text-anchor="middle" fill="#2a2a2a" >−5</text>
<text x="252.50" y="313.75" font-size="9.4" text-anchor="middle" fill="#2a2a2a" >0</text>
<text x="342.50" y="313.75" font-size="9.4" text-anchor="middle" fill="#2a2a2a" >5</text>
<text x="432.50" y="313.75" font-size="9.4" text-anchor="middle" fill="#2a2a2a" >10</text>
<text x="252.40" y="324.45" font-size="9.4" text-anchor="middle" fill="#2a2a2a" >ɑrcsec</text>
<line x1="82.25" y1="184.45" x2="82.25" y2="186.65" stroke="#666" stroke-width="1"/>
<line x1="89.75" y1="184.45" x2="89.75" y2="186.65" stroke="#666" stroke-width="1"/>
<line x1="101.80" y1="184.45" x2="101.80" y2="186.65" stroke="#666" stroke-width="1"/>
<line x1="113.50" y1="184.45" x2="113.50" y2="186.65" stroke="#666" stroke-width="1"/>
<line x1="138.00" y1="184.45" x2="138.00" y2="186.65" stroke="#666" stroke-width="1"/>
<line x1="162.00" y1="184.45" x2="162.00" y2="186.65" stroke="#666" stroke-width="1"/>
<line x1="188.30" y1="184.45" x2="188.30" y2="186.65" stroke="#666" stroke-width="1"/>
<line x1="217.20" y1="184.45" x2="217.20" y2="186.65" stroke="#666" stroke-width="1"/>
<line x1="247.20" y1="184.45" x2="247.20" y2="186.65" stroke="#666" stroke-width="1"/>
<line x1="276.70" y1="184.45" x2="276.70" y2="186.65" stroke="#666" stroke-width="1"/>
<line x1="305.80" y1="184.45" x2="305.80" y2="186.65" stroke="#666" stroke-width="1"/>
<line x1="333.30" y1="184.45" x2="333.30" y2="186.65" stroke="#666" stroke-width="1"/>
<line x1="358.30" y1="184.45" x2="358.30" y2="186.65" stroke="#666" stroke-width="1"/>
<line x1="380.80" y1="184.45" x2="380.80" y2="186.65" stroke="#666" stroke-width="1"/>
<line x1="398.30" y1="184.45" x2="398.30" y2="186.65" stroke="#666" stroke-width="1"/>
<line x1="410.50" y1="184.45" x2="410.50" y2="186.65" stroke="#666" stroke-width="1"/>
<line x1="420.50" y1="184.45" x2="420.50" y2="186.65" stroke="#666" stroke-width="1"/>
<text x="81.80" y="181.15" font-size="9.4" text-anchor="middle" fill="#2a2a2a"  textLength="18.80" lengthAdjust="spacing">−90°</text>
<text x="101.60" y="181.15" font-size="9.4" text-anchor="middle" fill="#2a2a2a"  textLength="20.60" lengthAdjust="spacing">−70°</text>
<text x="137.90" y="181.15" font-size="9.4" text-anchor="middle" fill="#2a2a2a"  textLength="21.00" lengthAdjust="spacing">−50°</text>
<text x="188.50" y="181.15" font-size="9.4" text-anchor="middle" fill="#2a2a2a"  textLength="21.00" lengthAdjust="spacing">−30°</text>
<text x="247.90" y="181.15" font-size="9.4" text-anchor="middle" fill="#2a2a2a"  textLength="21.00" lengthAdjust="spacing">−10°</text>
<text x="277.00" y="181.15" font-size="9.4" text-anchor="middle" fill="#2a2a2a"  textLength="9.30" lengthAdjust="spacing">0°</text>
<text x="306.70" y="181.15" font-size="9.4" text-anchor="middle" fill="#2a2a2a"  textLength="14.60" lengthAdjust="spacing">10°</text>
<text x="358.80" y="181.15" font-size="9.4" text-anchor="middle" fill="#2a2a2a"  textLength="14.60" lengthAdjust="spacing">30°</text>
<text x="398.50" y="181.15" font-size="9.4" text-anchor="middle" fill="#2a2a2a"  textLength="14.60" lengthAdjust="spacing">50°</text>
<text x="420.80" y="181.15" font-size="9.4" text-anchor="middle" fill="#2a2a2a"  textLength="14.60" lengthAdjust="spacing">70°</text>
<text x="252.60" y="171.85" font-size="9.4" text-anchor="middle" fill="#2a2a2a"  textLength="30.80" lengthAdjust="spacing">lɑtitude</text>
<text x="59.30" y="203.00" font-size="10" text-anchor="middle" fill="#555"  textLength="13.20" lengthAdjust="spacing">(b)</text>
<rect x="101.30" y="349.30" width="5.40" height="97.50" fill="#c4c4c4"/>
<line x1="101.70" y1="446.80" x2="101.70" y2="349.30" stroke="#959595" stroke-width="1.1" stroke-dasharray="2.4 4.0"/>
<line x1="106.30" y1="446.80" x2="106.30" y2="349.30" stroke="#959595" stroke-width="1.1" stroke-dasharray="2.4 4.0"/>
<rect x="379.40" y="349.30" width="9.10" height="97.50" fill="#c4c4c4"/>
<line x1="379.80" y1="446.80" x2="379.80" y2="349.30" stroke="#959595" stroke-width="1.1" stroke-dasharray="2.4 4.0"/>
<line x1="388.10" y1="446.80" x2="388.10" y2="349.30" stroke="#959595" stroke-width="1.1" stroke-dasharray="2.4 4.0"/>
<line x1="93.50" y1="349.30" x2="93.50" y2="446.80" stroke="#8a8a8a" stroke-width="0.8"/>
<line x1="404.60" y1="349.30" x2="404.60" y2="446.80" stroke="#8a8a8a" stroke-width="0.8"/>
<line x1="90.80" y1="446.80" x2="90.80" y2="349.80" stroke="#333" stroke-width="1.1" stroke-dasharray="1.3 4.35"/>
<line x1="413.70" y1="446.80" x2="413.70" y2="349.80" stroke="#333" stroke-width="1.1" stroke-dasharray="1.3 4.35"/>
<line x1="36.50" y1="446.80" x2="468.50" y2="446.80" stroke="#333" stroke-width="1.2" stroke-dasharray="1.4 4.37"/>
<polyline points="211.3,466.1 211.9,462.5 212.7,457.2 213.6,451.3 214.5,445.6 215.3,439.8 216.1,433.7 216.9,428.0 217.6,423.5 218.1,420.6 218.5,418.8 218.9,417.5 219.3,416.0 219.7,414.3 220.2,412.6 220.6,411.0 221.0,409.5 221.4,408.1 221.9,406.8 222.3,405.6 222.7,404.5 223.1,403.4 223.5,402.4 223.9,401.4 224.3,400.5 224.7,399.6 225.1,398.7 225.6,397.8 226.0,397.0 226.4,396.2 226.9,395.5 227.4,394.9 227.8,394.3 228.2,393.8 228.6,393.4 229.0,393.1 229.3,393.0 229.6,393.2 229.8,393.6 230.1,394.2 230.3,395.0 230.5,395.8 230.7,396.8 230.9,398.0 231.2,399.5 231.6,401.4 232.0,403.6 232.5,405.9 232.9,408.3 233.2,410.7 233.6,413.3 233.8,415.8 234.1,418.0 234.3,419.8 234.5,421.2 234.7,422.6 234.9,424.1 235.2,425.8 235.4,427.5 235.7,429.3 236.0,431.0 236.3,432.5 236.5,433.9 236.8,435.6 237.1,437.9 237.5,441.4 238.1,445.6 238.6,449.9 239.0,453.3 239.3,455.5 239.5,456.9 239.6,458.1 239.8,459.4 240.0,461.2 240.3,463.1 240.5,464.9 240.6,466.1" fill="none" stroke="#a2a2a2" stroke-width="1.1" stroke-dasharray="7.75 8.85" stroke-dashoffset="16.35"/>
<polyline points="36.5,451.3 37.9,446.3 41.0,440.3 44.8,440.3 47.9,441.0 51.0,439.0 55.4,438.8 59.1,431.3 62.3,429.8 66.0,426.3 69.1,421.3 71.6,413.8 73.0,405.0 74.8,391.3 77.0,381.3 79.8,371.3 82.3,361.3 84.1,353.8 86.0,351.3 87.9,351.5 89.8,355.0 91.6,360.6 93.5,370.0 95.4,382.5 97.3,397.5 98.5,410.0 100.4,420.0 102.3,429.4 105.4,433.1 107.9,437.5 109.7,442.0 113.0,439.3 116.3,442.7 120.3,434.4 123.7,435.1 127.7,435.1 131.7,437.1 135.7,438.7 139.0,439.7 142.3,442.4 145.7,437.3 149.0,438.0 152.3,439.7 156.3,451.3 159.7,454.9 163.7,457.3 167.0,449.6 171.0,454.9 174.3,457.7 177.7,455.7 181.0,446.7 182.3,444.1 184.6,436.7 188.4,441.0 192.3,438.4 196.1,444.1 199.2,444.1 203.0,446.4 206.8,449.0" fill="none" stroke="#1c1c1c" stroke-width="1.2" stroke-linejoin="round"/>
<polyline points="206.8,449.0 210.7,452.5 214.5,451.4 218.3,451.7 222.2,454.0 225.2,457.1 227.5,457.6 229.8,454.0 232.9,447.1 236.0,444.1 239.0,442.2 242.9,445.6 246.7,439.5" fill="none" stroke="#8c8c8c" stroke-width="1.0" stroke-linejoin="round"/>
<polyline points="246.7,439.5 250.6,438.7 253.6,436.7 257.6,442.1 261.0,438.4 264.3,439.3 267.7,438.4 271.0,446.7 275.0,452.7 278.7,458.9 281.7,452.7 285.7,446.4 289.7,443.3 293.0,442.7 296.3,443.3 300.1,440.7 304.3,444.7 308.3,447.1 311.7,450.0 314.7,451.6 318.3,447.3 321.7,441.6 325.0,440.0 329.0,442.4 332.2,446.4 335.7,443.6 340.0,443.2 343.6,446.5 347.2,450.4 351.5,451.5 355.0,449.4 358.6,445.1 362.2,441.5 367.2,440.8 372.2,442.6 375.8,440.1 380.1,432.9 383.6,427.2 387.2,425.8 390.8,426.0 394.1,423.6 397.9,413.0 399.7,407.8 401.5,403.0 404.3,392.9 406.5,385.8 408.6,379.3 410.8,370.0 413.8,356.9 416.0,350.0 417.5,349.3 419.4,350.0 421.9,359.4 424.4,369.4 426.9,382.5 428.8,396.9 430.0,410.7 433.6,422.9 437.2,433.2 440.8,435.8 444.4,443.6 447.9,452.2 452.9,445.8 458.7,438.3 462.2,439.3 468.5,442.6" fill="none" stroke="#1c1c1c" stroke-width="1.2" stroke-linejoin="round"/>
<rect x="36.50" y="349.30" width="432.00" height="117.00" fill="none" stroke="#666" stroke-width="1.1"/>
<line x1="36.50" y1="466.30" x2="45.00" y2="466.30" stroke="#666" stroke-width="1"/>
<line x1="460.00" y1="466.30" x2="468.50" y2="466.30" stroke="#666" stroke-width="1"/>
<line x1="36.50" y1="461.43" x2="40.70" y2="461.43" stroke="#666" stroke-width="1"/>
<line x1="464.30" y1="461.43" x2="468.50" y2="461.43" stroke="#666" stroke-width="1"/>
<line x1="36.50" y1="456.55" x2="40.70" y2="456.55" stroke="#666" stroke-width="1"/>
<line x1="464.30" y1="456.55" x2="468.50" y2="456.55" stroke="#666" stroke-width="1"/>
<line x1="36.50" y1="451.68" x2="40.70" y2="451.68" stroke="#666" stroke-width="1"/>
<line x1="464.30" y1="451.68" x2="468.50" y2="451.68" stroke="#666" stroke-width="1"/>
<line x1="36.50" y1="446.80" x2="45.00" y2="446.80" stroke="#666" stroke-width="1"/>
<line x1="460.00" y1="446.80" x2="468.50" y2="446.80" stroke="#666" stroke-width="1"/>
<line x1="36.50" y1="441.93" x2="40.70" y2="441.93" stroke="#666" stroke-width="1"/>
<line x1="464.30" y1="441.93" x2="468.50" y2="441.93" stroke="#666" stroke-width="1"/>
<line x1="36.50" y1="437.05" x2="40.70" y2="437.05" stroke="#666" stroke-width="1"/>
<line x1="464.30" y1="437.05" x2="468.50" y2="437.05" stroke="#666" stroke-width="1"/>
<line x1="36.50" y1="432.18" x2="40.70" y2="432.18" stroke="#666" stroke-width="1"/>
<line x1="464.30" y1="432.18" x2="468.50" y2="432.18" stroke="#666" stroke-width="1"/>
<line x1="36.50" y1="427.30" x2="45.00" y2="427.30" stroke="#666" stroke-width="1"/>
<line x1="460.00" y1="427.30" x2="468.50" y2="427.30" stroke="#666" stroke-width="1"/>
<line x1="36.50" y1="422.43" x2="40.70" y2="422.43" stroke="#666" stroke-width="1"/>
<line x1="464.30" y1="422.43" x2="468.50" y2="422.43" stroke="#666" stroke-width="1"/>
<line x1="36.50" y1="417.55" x2="40.70" y2="417.55" stroke="#666" stroke-width="1"/>
<line x1="464.30" y1="417.55" x2="468.50" y2="417.55" stroke="#666" stroke-width="1"/>
<line x1="36.50" y1="412.68" x2="40.70" y2="412.68" stroke="#666" stroke-width="1"/>
<line x1="464.30" y1="412.68" x2="468.50" y2="412.68" stroke="#666" stroke-width="1"/>
<line x1="36.50" y1="407.80" x2="45.00" y2="407.80" stroke="#666" stroke-width="1"/>
<line x1="460.00" y1="407.80" x2="468.50" y2="407.80" stroke="#666" stroke-width="1"/>
<line x1="36.50" y1="402.93" x2="40.70" y2="402.93" stroke="#666" stroke-width="1"/>
<line x1="464.30" y1="402.93" x2="468.50" y2="402.93" stroke="#666" stroke-width="1"/>
<line x1="36.50" y1="398.05" x2="40.70" y2="398.05" stroke="#666" stroke-width="1"/>
<line x1="464.30" y1="398.05" x2="468.50" y2="398.05" stroke="#666" stroke-width="1"/>
<line x1="36.50" y1="393.18" x2="40.70" y2="393.18" stroke="#666" stroke-width="1"/>
<line x1="464.30" y1="393.18" x2="468.50" y2="393.18" stroke="#666" stroke-width="1"/>
<line x1="36.50" y1="388.30" x2="45.00" y2="388.30" stroke="#666" stroke-width="1"/>
<line x1="460.00" y1="388.30" x2="468.50" y2="388.30" stroke="#666" stroke-width="1"/>
<line x1="36.50" y1="383.43" x2="40.70" y2="383.43" stroke="#666" stroke-width="1"/>
<line x1="464.30" y1="383.43" x2="468.50" y2="383.43" stroke="#666" stroke-width="1"/>
<line x1="36.50" y1="378.55" x2="40.70" y2="378.55" stroke="#666" stroke-width="1"/>
<line x1="464.30" y1="378.55" x2="468.50" y2="378.55" stroke="#666" stroke-width="1"/>
<line x1="36.50" y1="373.68" x2="40.70" y2="373.68" stroke="#666" stroke-width="1"/>
<line x1="464.30" y1="373.68" x2="468.50" y2="373.68" stroke="#666" stroke-width="1"/>
<line x1="36.50" y1="368.80" x2="45.00" y2="368.80" stroke="#666" stroke-width="1"/>
<line x1="460.00" y1="368.80" x2="468.50" y2="368.80" stroke="#666" stroke-width="1"/>
<line x1="36.50" y1="363.93" x2="40.70" y2="363.93" stroke="#666" stroke-width="1"/>
<line x1="464.30" y1="363.93" x2="468.50" y2="363.93" stroke="#666" stroke-width="1"/>
<line x1="36.50" y1="359.05" x2="40.70" y2="359.05" stroke="#666" stroke-width="1"/>
<line x1="464.30" y1="359.05" x2="468.50" y2="359.05" stroke="#666" stroke-width="1"/>
<line x1="36.50" y1="354.18" x2="40.70" y2="354.18" stroke="#666" stroke-width="1"/>
<line x1="464.30" y1="354.18" x2="468.50" y2="354.18" stroke="#666" stroke-width="1"/>
<line x1="36.50" y1="349.30" x2="45.00" y2="349.30" stroke="#666" stroke-width="1"/>
<line x1="460.00" y1="349.30" x2="468.50" y2="349.30" stroke="#666" stroke-width="1"/>
<text x="33.40" y="355.40" font-size="9.4" text-anchor="end" fill="#2a2a2a" >1.0</text>
<text x="33.40" y="372.20" font-size="9.4" text-anchor="end" fill="#2a2a2a" >0.8</text>
<text x="33.40" y="391.70" font-size="9.4" text-anchor="end" fill="#2a2a2a" >0.6</text>
<text x="33.40" y="411.20" font-size="9.4" text-anchor="end" fill="#2a2a2a" >0.4</text>
<text x="33.40" y="430.70" font-size="9.4" text-anchor="end" fill="#2a2a2a" >0.2</text>
<text x="33.40" y="450.20" font-size="9.4" text-anchor="end" fill="#2a2a2a" >0.0</text>
<text x="33.40" y="466.50" font-size="9.4" text-anchor="end" fill="#2a2a2a" >−0.2</text>
<line x1="36.50" y1="465.00" x2="36.50" y2="466.30" stroke="#666" stroke-width="1"/>
<line x1="54.50" y1="465.00" x2="54.50" y2="466.30" stroke="#666" stroke-width="1"/>
<line x1="72.50" y1="464.10" x2="72.50" y2="466.30" stroke="#666" stroke-width="1"/>
<line x1="90.50" y1="465.00" x2="90.50" y2="466.30" stroke="#666" stroke-width="1"/>
<line x1="108.50" y1="465.00" x2="108.50" y2="466.30" stroke="#666" stroke-width="1"/>
<line x1="126.50" y1="465.00" x2="126.50" y2="466.30" stroke="#666" stroke-width="1"/>
<line x1="144.50" y1="465.00" x2="144.50" y2="466.30" stroke="#666" stroke-width="1"/>
<line x1="162.50" y1="464.10" x2="162.50" y2="466.30" stroke="#666" stroke-width="1"/>
<line x1="180.50" y1="465.00" x2="180.50" y2="466.30" stroke="#666" stroke-width="1"/>
<line x1="198.50" y1="465.00" x2="198.50" y2="466.30" stroke="#666" stroke-width="1"/>
<line x1="216.50" y1="465.00" x2="216.50" y2="466.30" stroke="#666" stroke-width="1"/>
<line x1="234.50" y1="465.00" x2="234.50" y2="466.30" stroke="#666" stroke-width="1"/>
<line x1="252.50" y1="464.10" x2="252.50" y2="466.30" stroke="#666" stroke-width="1"/>
<line x1="270.50" y1="465.00" x2="270.50" y2="466.30" stroke="#666" stroke-width="1"/>
<line x1="288.50" y1="465.00" x2="288.50" y2="466.30" stroke="#666" stroke-width="1"/>
<line x1="306.50" y1="465.00" x2="306.50" y2="466.30" stroke="#666" stroke-width="1"/>
<line x1="324.50" y1="465.00" x2="324.50" y2="466.30" stroke="#666" stroke-width="1"/>
<line x1="342.50" y1="464.10" x2="342.50" y2="466.30" stroke="#666" stroke-width="1"/>
<line x1="360.50" y1="465.00" x2="360.50" y2="466.30" stroke="#666" stroke-width="1"/>
<line x1="378.50" y1="465.00" x2="378.50" y2="466.30" stroke="#666" stroke-width="1"/>
<line x1="396.50" y1="465.00" x2="396.50" y2="466.30" stroke="#666" stroke-width="1"/>
<line x1="414.50" y1="465.00" x2="414.50" y2="466.30" stroke="#666" stroke-width="1"/>
<line x1="432.50" y1="464.10" x2="432.50" y2="466.30" stroke="#666" stroke-width="1"/>
<line x1="450.50" y1="465.00" x2="450.50" y2="466.30" stroke="#666" stroke-width="1"/>
<line x1="468.50" y1="465.00" x2="468.50" y2="466.30" stroke="#666" stroke-width="1"/>
<text x="72.50" y="478.60" font-size="9.4" text-anchor="middle" fill="#2a2a2a" >−10</text>
<text x="162.50" y="478.60" font-size="9.4" text-anchor="middle" fill="#2a2a2a" >−5</text>
<text x="252.50" y="478.60" font-size="9.4" text-anchor="middle" fill="#2a2a2a" >0</text>
<text x="342.50" y="478.60" font-size="9.4" text-anchor="middle" fill="#2a2a2a" >5</text>
<text x="432.50" y="478.60" font-size="9.4" text-anchor="middle" fill="#2a2a2a" >10</text>
<text x="252.40" y="489.30" font-size="9.4" text-anchor="middle" fill="#2a2a2a" >ɑrcsec</text>
<line x1="91.50" y1="349.30" x2="91.50" y2="351.50" stroke="#666" stroke-width="1"/>
<line x1="96.50" y1="349.30" x2="96.50" y2="351.50" stroke="#666" stroke-width="1"/>
<line x1="104.00" y1="349.30" x2="104.00" y2="351.50" stroke="#666" stroke-width="1"/>
<line x1="120.50" y1="349.30" x2="120.50" y2="351.50" stroke="#666" stroke-width="1"/>
<line x1="139.20" y1="349.30" x2="139.20" y2="351.50" stroke="#666" stroke-width="1"/>
<line x1="160.50" y1="349.30" x2="160.50" y2="351.50" stroke="#666" stroke-width="1"/>
<line x1="185.00" y1="349.30" x2="185.00" y2="351.50" stroke="#666" stroke-width="1"/>
<line x1="211.50" y1="349.30" x2="211.50" y2="351.50" stroke="#666" stroke-width="1"/>
<line x1="239.50" y1="349.30" x2="239.50" y2="351.50" stroke="#666" stroke-width="1"/>
<line x1="267.50" y1="349.30" x2="267.50" y2="351.50" stroke="#666" stroke-width="1"/>
<line x1="295.30" y1="349.30" x2="295.30" y2="351.50" stroke="#666" stroke-width="1"/>
<line x1="321.70" y1="349.30" x2="321.70" y2="351.50" stroke="#666" stroke-width="1"/>
<line x1="346.30" y1="349.30" x2="346.30" y2="351.50" stroke="#666" stroke-width="1"/>
<line x1="367.50" y1="349.30" x2="367.50" y2="351.50" stroke="#666" stroke-width="1"/>
<line x1="384.00" y1="349.30" x2="384.00" y2="351.50" stroke="#666" stroke-width="1"/>
<line x1="399.70" y1="349.30" x2="399.70" y2="351.50" stroke="#666" stroke-width="1"/>
<line x1="408.70" y1="349.30" x2="408.70" y2="351.50" stroke="#666" stroke-width="1"/>
<line x1="415.80" y1="349.30" x2="415.80" y2="351.50" stroke="#666" stroke-width="1"/>
<text x="96.50" y="346.00" font-size="9.4" text-anchor="middle" fill="#2a2a2a"  textLength="21.00" lengthAdjust="spacing">−70°</text>
<text x="121.00" y="346.00" font-size="9.4" text-anchor="middle" fill="#2a2a2a"  textLength="21.00" lengthAdjust="spacing">−50°</text>
<text x="160.80" y="346.00" font-size="9.4" text-anchor="middle" fill="#2a2a2a"  textLength="21.00" lengthAdjust="spacing">−30°</text>
<text x="212.00" y="346.00" font-size="9.4" text-anchor="middle" fill="#2a2a2a"  textLength="21.00" lengthAdjust="spacing">−10°</text>
<text x="239.75" y="346.00" font-size="9.4" text-anchor="middle" fill="#2a2a2a"  textLength="9.30" lengthAdjust="spacing">0°</text>
<text x="268.20" y="346.00" font-size="9.4" text-anchor="middle" fill="#2a2a2a"  textLength="14.60" lengthAdjust="spacing">10°</text>
<text x="322.50" y="346.00" font-size="9.4" text-anchor="middle" fill="#2a2a2a"  textLength="14.60" lengthAdjust="spacing">30°</text>
<text x="367.70" y="346.00" font-size="9.4" text-anchor="middle" fill="#2a2a2a"  textLength="14.60" lengthAdjust="spacing">50°</text>
<text x="399.60" y="346.00" font-size="9.4" text-anchor="middle" fill="#2a2a2a"  textLength="14.60" lengthAdjust="spacing">70°</text>
<text x="413.20" y="346.00" font-size="9.4" text-anchor="middle" fill="#2a2a2a"  textLength="14.60" lengthAdjust="spacing">90°</text>
<text x="252.60" y="336.70" font-size="9.4" text-anchor="middle" fill="#2a2a2a"  textLength="30.80" lengthAdjust="spacing">lɑtitude</text>
<text x="59.80" y="367.80" font-size="10" text-anchor="middle" fill="#555"  textLength="13.20" lengthAdjust="spacing">(c)</text>
<rect x="483.60" y="20.60" width="115.30" height="115.30" fill="none" stroke="#6e6e6e" stroke-width="1.1"/>
<polyline points="541.2,134.5 540.9,134.5 540.5,134.5 540.2,134.5 539.8,134.5 539.5,134.4 539.2,134.4 538.8,134.4 538.5,134.4 538.2,134.4 537.8,134.3 537.5,134.3 537.2,134.3 536.9,134.2 536.6,134.2 536.3,134.1 536.0,134.1 535.7,134.1 535.4,134.0 535.2,133.9 534.9,133.9 534.6,133.8 534.4,133.8 534.1,133.7 533.9,133.6 533.7,133.6 533.5,133.5 533.3,133.4 533.1,133.4 532.9,133.3 532.7,133.2 532.5,133.1 532.4,133.1 532.2,133.0 532.1,132.9 532.0,132.8 531.9,132.7 531.8,132.6 531.7,132.6 531.6,132.5 531.5,132.4 531.5,132.3 531.4,132.2 531.4,132.1 531.4,132.0 531.4,131.9 531.4,131.9 531.4,131.8 531.4,131.7 531.5,131.6 531.5,131.5 531.6,131.4 531.7,131.3 531.8,131.2 531.9,131.2 532.0,131.1 532.1,131.0 532.2,130.9 532.4,130.8 532.5,130.8 532.7,130.7 532.9,130.6 533.1,130.5 533.3,130.5 533.5,130.4 533.7,130.3 533.9,130.2 534.1,130.2 534.4,130.1 534.6,130.1 534.9,130.0 535.2,129.9 535.4,129.9 535.7,129.8 536.0,129.8 536.3,129.7 536.6,129.7 536.9,129.7 537.2,129.6 537.5,129.6 537.8,129.6 538.2,129.5 538.5,129.5 538.8,129.5 539.2,129.5 539.5,129.4 539.8,129.4 540.2,129.4 540.5,129.4 540.9,129.4 541.2,129.4 541.5,129.4 541.9,129.4 542.2,129.4 542.6,129.4 542.9,129.4 543.2,129.5 543.6,129.5 543.9,129.5 544.2,129.5 544.6,129.6 544.9,129.6 545.2,129.6 545.5,129.7 545.8,129.7 546.1,129.7 546.4,129.8 546.7,129.8 547.0,129.9 547.2,129.9 547.5,130.0 547.8,130.1 548.0,130.1 548.3,130.2 548.5,130.2 548.7,130.3 548.9,130.4 549.1,130.5 549.3,130.5 549.5,130.6 549.7,130.7 549.9,130.8 550.0,130.8 550.2,130.9 550.3,131.0 550.4,131.1 550.5,131.2 550.6,131.2 550.7,131.3 550.8,131.4 550.9,131.5 550.9,131.6 551.0,131.7 551.0,131.8 551.0,131.9 551.0,131.9 551.0,132.0 551.0,132.1 551.0,132.2 550.9,132.3 550.9,132.4 550.8,132.5 550.7,132.6 550.6,132.6 550.5,132.7 550.4,132.8 550.3,132.9 550.2,133.0 550.0,133.1 549.9,133.1 549.7,133.2 549.5,133.3 549.3,133.4 549.1,133.4 548.9,133.5 548.7,133.6 548.5,133.6 548.3,133.7 548.0,133.8 547.8,133.8 547.5,133.9 547.2,133.9 547.0,134.0 546.7,134.1 546.4,134.1 546.1,134.1 545.8,134.2 545.5,134.2 545.2,134.3 544.9,134.3 544.6,134.3 544.2,134.4 543.9,134.4 543.6,134.4 543.2,134.4 542.9,134.4 542.6,134.5 542.2,134.5 541.9,134.5 541.5,134.5 541.2,134.5" fill="none" stroke="#a8a8a8" stroke-width="0.9" stroke-dasharray="1.3 4.4"/>
<polyline points="527.8,133.1 527.3,133.0 526.8,132.8 526.4,132.7 526.0,132.6 525.6,132.4 525.2,132.3 524.8,132.1 524.5,132.0 524.1,131.8 523.8,131.7 523.5,131.5 523.3,131.4 523.0,131.2 522.8,131.0 522.6,130.9 522.4,130.7 522.3,130.5 522.2,130.4 522.1,130.2 522.0,130.0 521.9,129.8 521.9,129.7 521.9,129.5 521.9,129.3 521.9,129.1 522.0,129.0 522.1,128.8 522.2,128.6 522.3,128.4 522.4,128.3 522.6,128.1 522.8,127.9 523.0,127.8 523.3,127.6 523.5,127.4 523.8,127.3 524.1,127.1 524.5,127.0 524.8,126.8 525.2,126.7 525.6,126.5 526.0,126.4 526.4,126.3 526.8,126.1 527.3,126.0 527.8,125.9 528.3,125.8 528.8,125.7 529.3,125.5 529.8,125.4 530.4,125.3 531.0,125.2 531.5,125.2 532.1,125.1 532.7,125.0 533.3,124.9 534.0,124.8 534.6,124.8 535.2,124.7 535.9,124.7 536.5,124.6 537.2,124.6 537.8,124.6 538.5,124.5 539.2,124.5 539.9,124.5 540.5,124.5 541.2,124.5 541.9,124.5 542.5,124.5 543.2,124.5 543.9,124.5 544.6,124.6 545.2,124.6 545.9,124.6 546.5,124.7 547.2,124.7 547.8,124.8 548.4,124.8 549.1,124.9 549.7,125.0 550.3,125.1 550.9,125.2 551.4,125.2 552.0,125.3 552.6,125.4 553.1,125.5 553.6,125.7 554.1,125.8 554.6,125.9 555.1,126.0 555.6,126.1 556.0,126.3 556.4,126.4 556.8,126.5 557.2,126.7 557.6,126.8 557.9,127.0 558.3,127.1 558.6,127.3 558.9,127.4 559.1,127.6 559.4,127.8 559.6,127.9 559.8,128.1 560.0,128.3 560.1,128.4 560.2,128.6 560.3,128.8 560.4,129.0 560.5,129.1 560.5,129.3 560.5,129.5 560.5,129.7 560.5,129.8 560.4,130.0 560.3,130.2 560.2,130.4 560.1,130.5 560.0,130.7 559.8,130.9 559.6,131.0 559.4,131.2 559.1,131.4 558.9,131.5 558.6,131.7 558.3,131.8 557.9,132.0 557.6,132.1 557.2,132.3 556.8,132.4 556.4,132.6 556.0,132.7 555.6,132.8 555.1,133.0 554.6,133.1" fill="none" stroke="#a8a8a8" stroke-width="0.9" stroke-dasharray="1.3 4.4"/>
<polyline points="515.8,128.7 515.4,128.4 515.0,128.2 514.7,128.0 514.3,127.7 514.0,127.5 513.8,127.2 513.6,127.0 513.4,126.7 513.2,126.5 513.1,126.2 513.0,126.0 513.0,125.7 513.0,125.5 513.0,125.2 513.0,125.0 513.1,124.7 513.2,124.4 513.4,124.2 513.6,123.9 513.8,123.7 514.0,123.4 514.3,123.2 514.7,123.0 515.0,122.7 515.4,122.5 515.8,122.3 516.3,122.0 516.7,121.8 517.2,121.6 517.8,121.4 518.3,121.2 518.9,121.0 519.6,120.8 520.2,120.6 520.9,120.4 521.6,120.2 522.3,120.0 523.0,119.9 523.8,119.7 524.6,119.5 525.4,119.4 526.2,119.3 527.1,119.1 527.9,119.0 528.8,118.9 529.7,118.8 530.6,118.7 531.5,118.6 532.5,118.5 533.4,118.4 534.4,118.4 535.3,118.3 536.3,118.3 537.3,118.2 538.2,118.2 539.2,118.2 540.2,118.2 541.2,118.2 542.2,118.2 543.2,118.2 544.2,118.2 545.1,118.2 546.1,118.3 547.1,118.3 548.0,118.4 549.0,118.4 549.9,118.5 550.9,118.6 551.8,118.7 552.7,118.8 553.6,118.9 554.5,119.0 555.3,119.1 556.2,119.3 557.0,119.4 557.8,119.5 558.6,119.7 559.4,119.9 560.1,120.0 560.8,120.2 561.5,120.4 562.2,120.6 562.8,120.8 563.5,121.0 564.1,121.2 564.6,121.4 565.2,121.6 565.7,121.8 566.1,122.0 566.6,122.3 567.0,122.5 567.4,122.7 567.7,123.0 568.1,123.2 568.4,123.4 568.6,123.7 568.8,123.9 569.0,124.2 569.2,124.4 569.3,124.7 569.4,125.0 569.4,125.2 569.5,125.5 569.4,125.7 569.4,126.0 569.3,126.2 569.2,126.5 569.0,126.7 568.8,127.0 568.6,127.2 568.4,127.5 568.1,127.7 567.7,128.0 567.4,128.2 567.0,128.4 566.6,128.7" fill="none" stroke="#a8a8a8" stroke-width="0.9" stroke-dasharray="1.3 4.4"/>
<polyline points="506.7,122.9 506.3,122.6 506.0,122.3 505.7,122.0 505.4,121.6 505.2,121.3 505.1,121.0 505.0,120.7 504.9,120.3 504.9,120.0 504.9,119.7 505.0,119.4 505.1,119.0 505.2,118.7 505.4,118.4 505.7,118.1 506.0,117.7 506.3,117.4 506.7,117.1 507.1,116.8 507.5,116.5 508.0,116.2 508.6,115.9 509.1,115.6 509.7,115.3 510.4,115.0 511.1,114.8 511.8,114.5 512.6,114.2 513.4,114.0 514.2,113.7 515.1,113.5 516.0,113.2 516.9,113.0 517.9,112.8 518.8,112.6 519.9,112.4 520.9,112.2 522.0,112.0 523.0,111.9 524.1,111.7 525.3,111.6 526.4,111.4 527.6,111.3 528.8,111.2 530.0,111.1 531.2,111.0 532.4,110.9 533.6,110.8 534.9,110.7 536.1,110.7 537.4,110.7 538.7,110.6 539.9,110.6 541.2,110.6 542.5,110.6 543.7,110.6 545.0,110.7 546.3,110.7 547.5,110.7 548.8,110.8 550.0,110.9 551.2,111.0 552.4,111.1 553.6,111.2 554.8,111.3 556.0,111.4 557.1,111.6 558.3,111.7 559.4,111.9 560.4,112.0 561.5,112.2 562.5,112.4 563.6,112.6 564.5,112.8 565.5,113.0 566.4,113.2 567.3,113.5 568.2,113.7 569.0,114.0 569.8,114.2 570.6,114.5 571.3,114.8 572.0,115.0 572.7,115.3 573.3,115.6 573.8,115.9 574.4,116.2 574.9,116.5 575.3,116.8 575.7,117.1 576.1,117.4 576.4,117.7 576.7,118.1 577.0,118.4 577.2,118.7 577.3,119.0 577.4,119.4 577.5,119.7 577.5,120.0 577.5,120.3 577.4,120.7 577.3,121.0 577.2,121.3 577.0,121.6 576.7,122.0 576.4,122.3 576.1,122.6 575.7,122.9" fill="none" stroke="#a8a8a8" stroke-width="0.9" stroke-dasharray="1.3 4.4"/>
<polyline points="498.9,115.6 498.6,115.2 498.3,114.8 498.2,114.5 498.0,114.1 497.9,113.7 497.9,113.3 497.9,112.9 498.0,112.5 498.2,112.1 498.3,111.7 498.6,111.3 498.9,111.0 499.2,110.6 499.6,110.2 500.0,109.8 500.5,109.4 501.1,109.1 501.7,108.7 502.3,108.4 503.0,108.0 503.7,107.7 504.5,107.3 505.3,107.0 506.2,106.7 507.1,106.4 508.0,106.1 509.0,105.8 510.1,105.5 511.1,105.2 512.2,105.0 513.4,104.7 514.6,104.5 515.8,104.2 517.0,104.0 518.3,103.8 519.6,103.6 520.9,103.4 522.2,103.2 523.6,103.0 525.0,102.9 526.4,102.8 527.8,102.6 529.3,102.5 530.7,102.4 532.2,102.3 533.7,102.2 535.2,102.2 536.7,102.1 538.2,102.1 539.7,102.1 541.2,102.1 542.7,102.1 544.2,102.1 545.7,102.1 547.2,102.2 548.7,102.2 550.2,102.3 551.7,102.4 553.1,102.5 554.6,102.6 556.0,102.8 557.4,102.9 558.8,103.0 560.2,103.2 561.5,103.4 562.8,103.6 564.1,103.8 565.4,104.0 566.6,104.2 567.8,104.5 569.0,104.7 570.2,105.0 571.3,105.2 572.3,105.5 573.4,105.8 574.4,106.1 575.3,106.4 576.2,106.7 577.1,107.0 577.9,107.3 578.7,107.7 579.4,108.0 580.1,108.4 580.7,108.7 581.3,109.1 581.9,109.4 582.4,109.8 582.8,110.2 583.2,110.6 583.5,111.0 583.8,111.3 584.1,111.7 584.2,112.1 584.4,112.5 584.5,112.9 584.5,113.3 584.5,113.7 584.4,114.1 584.2,114.5 584.1,114.8 583.8,115.2 583.5,115.6" fill="none" stroke="#a8a8a8" stroke-width="0.9" stroke-dasharray="1.3 4.4"/>
<polyline points="492.7,107.2 492.5,106.8 492.4,106.4 492.3,105.9 492.3,105.5 492.3,105.0 492.4,104.6 492.5,104.2 492.7,103.7 493.0,103.3 493.3,102.9 493.7,102.4 494.2,102.0 494.7,101.6 495.2,101.2 495.8,100.7 496.5,100.3 497.2,99.9 498.0,99.5 498.8,99.2 499.7,98.8 500.6,98.4 501.6,98.0 502.6,97.7 503.7,97.3 504.8,97.0 506.0,96.7 507.2,96.4 508.5,96.1 509.7,95.8 511.1,95.5 512.4,95.2 513.8,95.0 515.3,94.7 516.7,94.5 518.2,94.3 519.8,94.1 521.3,93.9 522.9,93.7 524.5,93.6 526.1,93.4 527.7,93.3 529.4,93.2 531.0,93.1 532.7,93.0 534.4,92.9 536.1,92.9 537.8,92.9 539.5,92.8 541.2,92.8 542.9,92.8 544.6,92.9 546.3,92.9 548.0,92.9 549.7,93.0 551.4,93.1 553.0,93.2 554.7,93.3 556.3,93.4 557.9,93.6 559.5,93.7 561.1,93.9 562.6,94.1 564.2,94.3 565.7,94.5 567.1,94.7 568.6,95.0 570.0,95.2 571.3,95.5 572.7,95.8 573.9,96.1 575.2,96.4 576.4,96.7 577.6,97.0 578.7,97.3 579.8,97.7 580.8,98.0 581.8,98.4 582.7,98.8 583.6,99.2 584.4,99.5 585.2,99.9 585.9,100.3 586.6,100.7 587.2,101.2 587.7,101.6 588.2,102.0 588.7,102.4 589.1,102.9 589.4,103.3 589.7,103.7 589.9,104.2 590.0,104.6 590.1,105.0 590.1,105.5 590.1,105.9 590.0,106.4 589.9,106.8 589.7,107.2" fill="none" stroke="#a8a8a8" stroke-width="0.9" stroke-dasharray="1.3 4.4"/>
<polyline points="488.2,97.8 488.1,97.3 488.1,96.9 488.1,96.4 488.2,95.9 488.4,95.4 488.6,95.0 488.9,94.5 489.3,94.0 489.7,93.5 490.2,93.1 490.7,92.6 491.3,92.2 492.0,91.7 492.7,91.3 493.5,90.8 494.3,90.4 495.2,90.0 496.2,89.6 497.2,89.2 498.2,88.8 499.4,88.4 500.5,88.0 501.7,87.7 503.0,87.3 504.3,87.0 505.7,86.7 507.1,86.3 508.5,86.0 510.0,85.7 511.5,85.5 513.1,85.2 514.7,85.0 516.3,84.7 517.9,84.5 519.6,84.3 521.3,84.1 523.0,84.0 524.8,83.8 526.6,83.7 528.4,83.5 530.2,83.4 532.0,83.3 533.8,83.3 535.7,83.2 537.5,83.2 539.3,83.1 541.2,83.1 543.1,83.1 544.9,83.2 546.7,83.2 548.6,83.3 550.4,83.3 552.2,83.4 554.0,83.5 555.8,83.7 557.6,83.8 559.4,84.0 561.1,84.1 562.8,84.3 564.5,84.5 566.1,84.7 567.7,85.0 569.3,85.2 570.9,85.5 572.4,85.7 573.9,86.0 575.3,86.3 576.7,86.7 578.1,87.0 579.4,87.3 580.7,87.7 581.9,88.0 583.0,88.4 584.2,88.8 585.2,89.2 586.2,89.6 587.2,90.0 588.1,90.4 588.9,90.8 589.7,91.3 590.4,91.7 591.1,92.2 591.7,92.6 592.2,93.1 592.7,93.5 593.1,94.0 593.5,94.5 593.8,95.0 594.0,95.4 594.2,95.9 594.3,96.4 594.3,96.9 594.3,97.3 594.2,97.8" fill="none" stroke="#a8a8a8" stroke-width="0.9" stroke-dasharray="1.3 4.4"/>
<polyline points="485.6,88.2 485.6,87.7 485.6,87.2 485.7,86.7 485.9,86.2 486.1,85.7 486.4,85.2 486.8,84.7 487.2,84.2 487.7,83.7 488.3,83.2 488.9,82.8 489.6,82.3 490.4,81.8 491.2,81.4 492.1,80.9 493.0,80.5 494.0,80.0 495.1,79.6 496.2,79.2 497.4,78.8 498.6,78.4 499.9,78.0 501.2,77.7 502.5,77.3 504.0,77.0 505.4,76.6 506.9,76.3 508.5,76.0 510.1,75.7 511.7,75.5 513.4,75.2 515.1,75.0 516.8,74.7 518.6,74.5 520.4,74.3 522.2,74.1 524.0,74.0 525.9,73.8 527.7,73.7 529.6,73.6 531.5,73.5 533.5,73.4 535.4,73.4 537.3,73.3 539.3,73.3 541.2,73.3 543.1,73.3 545.1,73.3 547.0,73.4 548.9,73.4 550.9,73.5 552.8,73.6 554.7,73.7 556.5,73.8 558.4,74.0 560.2,74.1 562.0,74.3 563.8,74.5 565.6,74.7 567.3,75.0 569.0,75.2 570.7,75.5 572.3,75.7 573.9,76.0 575.5,76.3 577.0,76.6 578.4,77.0 579.9,77.3 581.2,77.7 582.5,78.0 583.8,78.4 585.0,78.8 586.2,79.2 587.3,79.6 588.4,80.0 589.4,80.5 590.3,80.9 591.2,81.4 592.0,81.8 592.8,82.3 593.5,82.8 594.1,83.2 594.7,83.7 595.2,84.2 595.6,84.7 596.0,85.2 596.3,85.7 596.5,86.2 596.7,86.7 596.8,87.2 596.8,87.7 596.8,88.2" fill="none" stroke="#a8a8a8" stroke-width="0.9" stroke-dasharray="1.3 4.4"/>
<polyline points="484.7,78.2 484.7,77.7 484.8,77.2 485.0,76.7 485.2,76.2 485.6,75.7 485.9,75.2 486.4,74.7 486.9,74.2 487.5,73.7 488.1,73.2 488.8,72.7 489.6,72.3 490.4,71.8 491.3,71.3 492.3,70.9 493.3,70.5 494.4,70.0 495.5,69.6 496.7,69.2 497.9,68.8 499.2,68.4 500.6,68.0 502.0,67.7 503.4,67.3 504.9,67.0 506.4,66.7 508.0,66.4 509.6,66.1 511.3,65.8 513.0,65.5 514.7,65.3 516.4,65.1 518.2,64.8 520.0,64.6 521.9,64.5 523.7,64.3 525.6,64.1 527.5,64.0 529.5,63.9 531.4,63.8 533.3,63.7 535.3,63.7 537.3,63.6 539.2,63.6 541.2,63.6 543.2,63.6 545.1,63.6 547.1,63.7 549.1,63.7 551.0,63.8 552.9,63.9 554.9,64.0 556.8,64.1 558.7,64.3 560.5,64.5 562.4,64.6 564.2,64.8 566.0,65.1 567.7,65.3 569.5,65.5 571.1,65.8 572.8,66.1 574.4,66.4 576.0,66.7 577.5,67.0 579.0,67.3 580.4,67.7 581.8,68.0 583.2,68.4 584.5,68.8 585.7,69.2 586.9,69.6 588.0,70.0 589.1,70.5 590.1,70.9 591.1,71.3 592.0,71.8 592.8,72.3 593.6,72.7 594.3,73.2 594.9,73.7 595.5,74.2 596.0,74.7 596.5,75.2 596.8,75.7 597.2,76.2 597.4,76.7 597.6,77.2 597.7,77.7 597.7,78.2" fill="none" stroke="#a8a8a8" stroke-width="0.9" stroke-dasharray="1.3 4.4"/>
<polyline points="485.7,67.7 485.9,67.2 486.1,66.7 486.4,66.2 486.8,65.7 487.2,65.2 487.7,64.8 488.3,64.3 488.9,63.8 489.6,63.3 490.4,62.9 491.2,62.4 492.1,62.0 493.0,61.5 494.0,61.1 495.1,60.7 496.2,60.3 497.4,59.9 498.6,59.5 499.9,59.1 501.2,58.7 502.5,58.4 504.0,58.0 505.4,57.7 506.9,57.4 508.5,57.1 510.1,56.8 511.7,56.5 513.4,56.3 515.1,56.0 516.8,55.8 518.6,55.6 520.4,55.4 522.2,55.2 524.0,55.0 525.9,54.9 527.7,54.7 529.6,54.6 531.5,54.5 533.5,54.5 535.4,54.4 537.3,54.4 539.3,54.3 541.2,54.3 543.1,54.3 545.1,54.4 547.0,54.4 548.9,54.5 550.9,54.5 552.8,54.6 554.7,54.7 556.5,54.9 558.4,55.0 560.2,55.2 562.0,55.4 563.8,55.6 565.6,55.8 567.3,56.0 569.0,56.3 570.7,56.5 572.3,56.8 573.9,57.1 575.5,57.4 577.0,57.7 578.4,58.0 579.9,58.4 581.2,58.7 582.5,59.1 583.8,59.5 585.0,59.9 586.2,60.3 587.3,60.7 588.4,61.1 589.4,61.5 590.3,62.0 591.2,62.4 592.0,62.9 592.8,63.3 593.5,63.8 594.1,64.3 594.7,64.8 595.2,65.2 595.6,65.7 596.0,66.2 596.3,66.7 596.5,67.2 596.7,67.7" fill="none" stroke="#a8a8a8" stroke-width="0.9" stroke-dasharray="1.3 4.4"/>
<polyline points="488.4,58.1 488.6,57.6 488.9,57.1 489.3,56.7 489.7,56.2 490.2,55.7 490.7,55.3 491.3,54.8 492.0,54.4 492.7,53.9 493.5,53.5 494.3,53.1 495.2,52.7 496.2,52.3 497.2,51.9 498.2,51.5 499.4,51.1 500.5,50.7 501.7,50.3 503.0,50.0 504.3,49.6 505.7,49.3 507.1,49.0 508.5,48.7 510.0,48.4 511.5,48.1 513.1,47.9 514.7,47.6 516.3,47.4 517.9,47.2 519.6,47.0 521.3,46.8 523.0,46.6 524.8,46.5 526.6,46.3 528.4,46.2 530.2,46.1 532.0,46.0 533.8,45.9 535.7,45.9 537.5,45.8 539.3,45.8 541.2,45.8 543.1,45.8 544.9,45.8 546.7,45.9 548.6,45.9 550.4,46.0 552.2,46.1 554.0,46.2 555.8,46.3 557.6,46.5 559.4,46.6 561.1,46.8 562.8,47.0 564.5,47.2 566.1,47.4 567.7,47.6 569.3,47.9 570.9,48.1 572.4,48.4 573.9,48.7 575.3,49.0 576.7,49.3 578.1,49.6 579.4,50.0 580.7,50.3 581.9,50.7 583.0,51.1 584.2,51.5 585.2,51.9 586.2,52.3 587.2,52.7 588.1,53.1 588.9,53.5 589.7,53.9 590.4,54.4 591.1,54.8 591.7,55.3 592.2,55.7 592.7,56.2 593.1,56.7 593.5,57.1 593.8,57.6 594.0,58.1" fill="none" stroke="#a8a8a8" stroke-width="0.9" stroke-dasharray="1.3 4.4"/>
<polyline points="493.0,48.7 493.3,48.3 493.7,47.8 494.2,47.4 494.7,47.0 495.2,46.6 495.8,46.2 496.5,45.8 497.2,45.4 498.0,45.0 498.8,44.6 499.7,44.2 500.6,43.8 501.6,43.5 502.6,43.1 503.7,42.8 504.8,42.4 506.0,42.1 507.2,41.8 508.5,41.5 509.7,41.2 511.1,40.9 512.4,40.7 513.8,40.4 515.3,40.2 516.7,39.9 518.2,39.7 519.8,39.5 521.3,39.3 522.9,39.2 524.5,39.0 526.1,38.9 527.7,38.7 529.4,38.6 531.0,38.5 532.7,38.4 534.4,38.4 536.1,38.3 537.8,38.3 539.5,38.3 541.2,38.2 542.9,38.3 544.6,38.3 546.3,38.3 548.0,38.4 549.7,38.4 551.4,38.5 553.0,38.6 554.7,38.7 556.3,38.9 557.9,39.0 559.5,39.2 561.1,39.3 562.6,39.5 564.2,39.7 565.7,39.9 567.1,40.2 568.6,40.4 570.0,40.7 571.3,40.9 572.7,41.2 573.9,41.5 575.2,41.8 576.4,42.1 577.6,42.4 578.7,42.8 579.8,43.1 580.8,43.5 581.8,43.8 582.7,44.2 583.6,44.6 584.4,45.0 585.2,45.4 585.9,45.8 586.6,46.2 587.2,46.6 587.7,47.0 588.2,47.4 588.7,47.8 589.1,48.3 589.4,48.7" fill="none" stroke="#a8a8a8" stroke-width="0.9" stroke-dasharray="1.3 4.4"/>
<polyline points="499.2,40.4 499.6,40.0 500.0,39.7 500.5,39.3 501.1,38.9 501.7,38.6 502.3,38.2 503.0,37.9 503.7,37.5 504.5,37.2 505.3,36.9 506.2,36.5 507.1,36.2 508.0,35.9 509.0,35.6 510.1,35.3 511.1,35.1 512.2,34.8 513.4,34.5 514.6,34.3 515.8,34.1 517.0,33.8 518.3,33.6 519.6,33.4 520.9,33.2 522.2,33.1 523.6,32.9 525.0,32.7 526.4,32.6 527.8,32.5 529.3,32.4 530.7,32.3 532.2,32.2 533.7,32.1 535.2,32.0 536.7,32.0 538.2,31.9 539.7,31.9 541.2,31.9 542.7,31.9 544.2,31.9 545.7,32.0 547.2,32.0 548.7,32.1 550.2,32.2 551.7,32.3 553.1,32.4 554.6,32.5 556.0,32.6 557.4,32.7 558.8,32.9 560.2,33.1 561.5,33.2 562.8,33.4 564.1,33.6 565.4,33.8 566.6,34.1 567.8,34.3 569.0,34.5 570.2,34.8 571.3,35.1 572.3,35.3 573.4,35.6 574.4,35.9 575.3,36.2 576.2,36.5 577.1,36.9 577.9,37.2 578.7,37.5 579.4,37.9 580.1,38.2 580.7,38.6 581.3,38.9 581.9,39.3 582.4,39.7 582.8,40.0 583.2,40.4" fill="none" stroke="#a8a8a8" stroke-width="0.9" stroke-dasharray="1.3 4.4"/>
<polyline points="507.1,33.2 507.5,32.9 508.0,32.6 508.6,32.3 509.1,32.0 509.7,31.7 510.4,31.4 511.1,31.1 511.8,30.9 512.6,30.6 513.4,30.4 514.2,30.1 515.1,29.9 516.0,29.6 516.9,29.4 517.9,29.2 518.8,29.0 519.9,28.8 520.9,28.6 522.0,28.4 523.0,28.3 524.1,28.1 525.3,27.9 526.4,27.8 527.6,27.7 528.8,27.6 530.0,27.5 531.2,27.4 532.4,27.3 533.6,27.2 534.9,27.1 536.1,27.1 537.4,27.0 538.7,27.0 539.9,27.0 541.2,27.0 542.5,27.0 543.7,27.0 545.0,27.0 546.3,27.1 547.5,27.1 548.8,27.2 550.0,27.3 551.2,27.4 552.4,27.5 553.6,27.6 554.8,27.7 556.0,27.8 557.1,27.9 558.3,28.1 559.4,28.3 560.4,28.4 561.5,28.6 562.5,28.8 563.6,29.0 564.5,29.2 565.5,29.4 566.4,29.6 567.3,29.9 568.2,30.1 569.0,30.4 569.8,30.6 570.6,30.9 571.3,31.1 572.0,31.4 572.7,31.7 573.3,32.0 573.8,32.3 574.4,32.6 574.9,32.9 575.3,33.2" fill="none" stroke="#a8a8a8" stroke-width="0.9" stroke-dasharray="1.3 4.4"/>
<polyline points="516.3,27.5 516.7,27.3 517.2,27.1 517.8,26.8 518.3,26.6 518.9,26.4 519.6,26.2 520.2,26.0 520.9,25.9 521.6,25.7 522.3,25.5 523.0,25.3 523.8,25.2 524.6,25.0 525.4,24.9 526.2,24.7 527.1,24.6 527.9,24.5 528.8,24.4 529.7,24.3 530.6,24.2 531.5,24.1 532.5,24.0 533.4,23.9 534.4,23.8 535.3,23.8 536.3,23.7 537.3,23.7 538.2,23.7 539.2,23.6 540.2,23.6 541.2,23.6 542.2,23.6 543.2,23.6 544.2,23.7 545.1,23.7 546.1,23.7 547.1,23.8 548.0,23.8 549.0,23.9 549.9,24.0 550.9,24.1 551.8,24.2 552.7,24.3 553.6,24.4 554.5,24.5 555.3,24.6 556.2,24.7 557.0,24.9 557.8,25.0 558.6,25.2 559.4,25.3 560.1,25.5 560.8,25.7 561.5,25.9 562.2,26.0 562.8,26.2 563.5,26.4 564.1,26.6 564.6,26.8 565.2,27.1 565.7,27.3 566.1,27.5" fill="none" stroke="#a8a8a8" stroke-width="0.9" stroke-dasharray="1.3 4.4"/>
<polyline points="528.3,23.2 528.8,23.1 529.3,23.0 529.8,22.9 530.4,22.8 531.0,22.7 531.5,22.6 532.1,22.5 532.7,22.4 533.3,22.3 534.0,22.3 534.6,22.2 535.2,22.2 535.9,22.1 536.5,22.1 537.2,22.0 537.8,22.0 538.5,22.0 539.2,21.9 539.9,21.9 540.5,21.9 541.2,21.9 541.9,21.9 542.5,21.9 543.2,21.9 543.9,22.0 544.6,22.0 545.2,22.0 545.9,22.1 546.5,22.1 547.2,22.2 547.8,22.2 548.4,22.3 549.1,22.3 549.7,22.4 550.3,22.5 550.9,22.6 551.4,22.7 552.0,22.8 552.6,22.9 553.1,23.0 553.6,23.1 554.1,23.2" fill="none" stroke="#a8a8a8" stroke-width="0.9" stroke-dasharray="1.3 4.4"/>
<polyline points="541.2,132.8 541.2,133.3 541.2,133.7 541.2,134.0 541.2,134.3 541.2,134.5 541.2,134.6 541.2,134.7" fill="none" stroke="#b0b0b0" stroke-width="0.9" stroke-dasharray="1.3 4.4"/>
<polyline points="541.2,132.8 540.2,133.2 539.2,133.5 538.2,133.8 537.3,134.0 536.3,134.1 535.3,134.2 534.4,134.2 533.4,134.2" fill="none" stroke="#b0b0b0" stroke-width="0.9" stroke-dasharray="1.3 4.4"/>
<polyline points="541.2,132.8 539.5,133.0 537.8,133.2 536.1,133.2 534.4,133.3 532.7,133.2 531.0,133.1 529.4,132.9 527.7,132.7 526.1,132.4 524.5,132.0 522.9,131.5 521.3,131.0 519.8,130.5 518.2,129.8" fill="none" stroke="#b0b0b0" stroke-width="0.9" stroke-dasharray="1.3 4.4"/>
<polyline points="541.2,132.8 539.2,132.7 537.3,132.6 535.3,132.5 533.3,132.2 531.4,131.9 529.5,131.6 527.5,131.2 525.6,130.7 523.7,130.1 521.9,129.5 520.0,128.8 518.2,128.1 516.4,127.3 514.7,126.4 513.0,125.5 511.3,124.5 509.6,123.4 508.0,122.4 506.4,121.2 504.9,120.0 503.4,118.8 502.0,117.5 500.6,116.1 499.2,114.7 497.9,113.3 496.7,111.8 495.5,110.3 494.4,108.7 493.3,107.1 492.3,105.5 491.3,103.8 490.4,102.1 489.6,100.4 488.8,98.6 488.1,96.9 487.5,95.1 486.9,93.2 486.4,91.4 485.9,89.5 485.6,87.7 485.2,85.8 485.0,83.9 484.8,82.0 484.7,80.1 484.7,78.2" fill="none" stroke="#b0b0b0" stroke-width="0.9" stroke-dasharray="1.3 4.4"/>
<polyline points="541.2,132.8 539.5,132.5 537.8,132.1 536.1,131.7 534.4,131.2 532.7,130.7 531.0,130.1 529.4,129.4 527.7,128.6 526.1,127.8 524.5,127.0 522.9,126.1 521.3,125.1 519.8,124.0 518.2,123.0 516.7,121.8 515.3,120.6 513.8,119.4 512.4,118.1 511.1,116.7 509.7,115.3 508.5,113.9 507.2,112.4 506.0,110.9 504.8,109.3 503.7,107.7 502.6,106.0 501.6,104.4 500.6,102.7 499.7,100.9 498.8,99.2 498.0,97.4 497.2,95.6 496.5,93.7 495.8,91.9 495.2,90.0 494.7,88.1 494.2,86.2 493.7,84.3 493.3,82.4 493.0,80.5 492.7,78.6 492.5,76.6 492.4,74.7 492.3,72.8 492.3,70.9 492.3,69.0 492.4,67.1 492.5,65.2 492.7,63.4 493.0,61.5 493.3,59.7 493.7,57.9 494.2,56.1 494.7,54.4 495.2,52.7 495.8,51.0 496.5,49.3 497.2,47.7 498.0,46.1 498.8,44.6 499.7,43.1 500.6,41.6 501.6,40.2 502.6,38.8 503.7,37.5 504.8,36.2 506.0,35.0 507.2,33.9 508.5,32.8 509.7,31.7 511.1,30.7 512.4,29.8 513.8,28.9 515.3,28.0 516.7,27.3" fill="none" stroke="#b0b0b0" stroke-width="0.9" stroke-dasharray="1.3 4.4"/>
<polyline points="541.2,132.8 540.2,132.3 539.2,131.8 538.2,131.2 537.3,130.5 536.3,129.7 535.3,128.9 534.4,128.1 533.4,127.2 532.5,126.2 531.5,125.2 530.6,124.1 529.7,122.9 528.8,121.7 527.9,120.4 527.1,119.1 526.2,117.8 525.4,116.4 524.6,114.9 523.8,113.4 523.0,111.9 522.3,110.3 521.6,108.7 520.9,107.0 520.2,105.3 519.6,103.6 518.9,101.8 518.3,100.0 517.8,98.2 517.2,96.4 516.7,94.5 516.3,92.6 515.8,90.7 515.4,88.8 515.0,86.9 514.7,85.0 514.3,83.0 514.0,81.1 513.8,79.1 513.6,77.2 513.4,75.2 513.2,73.3 513.1,71.3 513.0,69.4 513.0,67.4 513.0,65.5 513.0,63.6 513.0,61.8 513.1,59.9 513.2,58.1 513.4,56.3 513.6,54.5 513.8,52.7 514.0,51.0 514.3,49.3 514.7,47.6 515.0,46.0 515.4,44.4 515.8,42.9 516.3,41.4 516.7,39.9 517.2,38.5 517.8,37.2 518.3,35.9 518.9,34.6 519.6,33.4 520.2,32.3 520.9,31.2 521.6,30.1 522.3,29.2 523.0,28.3 523.8,27.4 524.6,26.6 525.4,25.9 526.2,25.2 527.1,24.6 527.9,24.1 528.8,23.6 529.7,23.2 530.6,22.9 531.5,22.6 532.5,22.4" fill="none" stroke="#b0b0b0" stroke-width="0.9" stroke-dasharray="1.3 4.4"/>
<polyline points="541.2,132.8 541.2,132.2 541.2,131.6 541.2,130.9 541.2,130.2 541.2,129.4 541.2,128.5 541.2,127.6 541.2,126.6 541.2,125.6 541.2,124.5 541.2,123.3 541.2,122.1 541.2,120.8 541.2,119.5 541.2,118.2 541.2,116.7 541.2,115.3 541.2,113.8 541.2,112.2 541.2,110.6 541.2,109.0 541.2,107.3 541.2,105.6 541.2,103.9 541.2,102.1 541.2,100.3 541.2,98.4 541.2,96.6 541.2,94.7 541.2,92.8 541.2,90.9 541.2,89.0 541.2,87.0 541.2,85.1 541.2,83.1 541.2,81.2 541.2,79.2 541.2,77.2 541.2,75.2 541.2,73.3 541.2,71.3 541.2,69.4 541.2,67.4 541.2,65.5 541.2,63.6 541.2,61.7 541.2,59.8 541.2,58.0 541.2,56.1 541.2,54.3 541.2,52.5 541.2,50.8 541.2,49.1 541.2,47.4 541.2,45.8 541.2,44.2 541.2,42.6 541.2,41.1 541.2,39.7 541.2,38.2 541.2,36.9 541.2,35.6 541.2,34.3 541.2,33.1 541.2,31.9 541.2,30.8 541.2,29.8 541.2,28.8 541.2,27.9 541.2,27.0 541.2,26.2 541.2,25.5 541.2,24.8 541.2,24.2 541.2,23.6 541.2,23.1 541.2,22.7 541.2,22.4 541.2,22.1 541.2,21.9 541.2,21.8 541.2,21.7" fill="none" stroke="#b0b0b0" stroke-width="0.9" stroke-dasharray="1.3 4.4"/>
<polyline points="541.2,132.8 542.2,132.3 543.2,131.8 544.2,131.2 545.1,130.5 546.1,129.7 547.1,128.9 548.0,128.1 549.0,127.2 549.9,126.2 550.9,125.2 551.8,124.1 552.7,122.9 553.6,121.7 554.5,120.4 555.3,119.1 556.2,117.8 557.0,116.4 557.8,114.9 558.6,113.4 559.4,111.9 560.1,110.3 560.8,108.7 561.5,107.0 562.2,105.3 562.8,103.6 563.5,101.8 564.1,100.0 564.6,98.2 565.2,96.4 565.7,94.5 566.1,92.6 566.6,90.7 567.0,88.8 567.4,86.9 567.7,85.0 568.1,83.0 568.4,81.1 568.6,79.1 568.8,77.2 569.0,75.2 569.2,73.3 569.3,71.3 569.4,69.4 569.4,67.4 569.5,65.5 569.4,63.6 569.4,61.8 569.3,59.9 569.2,58.1 569.0,56.3 568.8,54.5 568.6,52.7 568.4,51.0 568.1,49.3 567.7,47.6 567.4,46.0 567.0,44.4 566.6,42.9 566.1,41.4 565.7,39.9 565.2,38.5 564.6,37.2 564.1,35.9 563.5,34.6 562.8,33.4 562.2,32.3 561.5,31.2 560.8,30.1 560.1,29.2 559.4,28.3 558.6,27.4 557.8,26.6 557.0,25.9 556.2,25.2 555.3,24.6 554.5,24.1 553.6,23.6 552.7,23.2 551.8,22.9 550.9,22.6 549.9,22.4" fill="none" stroke="#b0b0b0" stroke-width="0.9" stroke-dasharray="1.3 4.4"/>
<polyline points="541.2,132.8 542.9,132.5 544.6,132.1 546.3,131.7 548.0,131.2 549.7,130.7 551.4,130.1 553.0,129.4 554.7,128.6 556.3,127.8 557.9,127.0 559.5,126.1 561.1,125.1 562.6,124.0 564.2,123.0 565.7,121.8 567.1,120.6 568.6,119.4 570.0,118.1 571.3,116.7 572.7,115.3 573.9,113.9 575.2,112.4 576.4,110.9 577.6,109.3 578.7,107.7 579.8,106.0 580.8,104.4 581.8,102.7 582.7,100.9 583.6,99.2 584.4,97.4 585.2,95.6 585.9,93.7 586.6,91.9 587.2,90.0 587.7,88.1 588.2,86.2 588.7,84.3 589.1,82.4 589.4,80.5 589.7,78.6 589.9,76.6 590.0,74.7 590.1,72.8 590.1,70.9 590.1,69.0 590.0,67.1 589.9,65.2 589.7,63.4 589.4,61.5 589.1,59.7 588.7,57.9 588.2,56.1 587.7,54.4 587.2,52.7 586.6,51.0 585.9,49.3 585.2,47.7 584.4,46.1 583.6,44.6 582.7,43.1 581.8,41.6 580.8,40.2 579.8,38.8 578.7,37.5 577.6,36.2 576.4,35.0 575.2,33.9 573.9,32.8 572.7,31.7 571.3,30.7 570.0,29.8 568.6,28.9 567.1,28.0 565.7,27.3" fill="none" stroke="#b0b0b0" stroke-width="0.9" stroke-dasharray="1.3 4.4"/>
<polyline points="541.2,132.8 543.2,132.7 545.1,132.6 547.1,132.5 549.1,132.2 551.0,131.9 552.9,131.6 554.9,131.2 556.8,130.7 558.7,130.1 560.5,129.5 562.4,128.8 564.2,128.1 566.0,127.3 567.7,126.4 569.5,125.5 571.1,124.5 572.8,123.4 574.4,122.4 576.0,121.2 577.5,120.0 579.0,118.8 580.4,117.5 581.8,116.1 583.2,114.7 584.5,113.3 585.7,111.8 586.9,110.3 588.0,108.7 589.1,107.1 590.1,105.5 591.1,103.8 592.0,102.1 592.8,100.4 593.6,98.6 594.3,96.9 594.9,95.1 595.5,93.2 596.0,91.4 596.5,89.5 596.8,87.7 597.2,85.8 597.4,83.9 597.6,82.0 597.7,80.1 597.7,78.2" fill="none" stroke="#b0b0b0" stroke-width="0.9" stroke-dasharray="1.3 4.4"/>
<polyline points="541.2,132.8 542.9,133.0 544.6,133.2 546.3,133.2 548.0,133.3 549.7,133.2 551.4,133.1 553.0,132.9 554.7,132.7 556.3,132.4 557.9,132.0 559.5,131.5 561.1,131.0 562.6,130.5 564.2,129.8" fill="none" stroke="#b0b0b0" stroke-width="0.9" stroke-dasharray="1.3 4.4"/>
<polyline points="541.2,132.8 542.2,133.2 543.2,133.5 544.2,133.8 545.1,134.0 546.1,134.1 547.1,134.2 548.0,134.2 549.0,134.2" fill="none" stroke="#b0b0b0" stroke-width="0.9" stroke-dasharray="1.3 4.4"/>
<polyline points="498.5,42.0 502.4,41.7 507.9,41.3 514.2,40.9 520.0,40.6 525.3,40.5 530.5,40.4 535.8,40.4 541.0,40.4 546.3,40.4 551.5,40.4 556.8,40.5 562.0,40.6 567.7,40.9 573.6,41.3 578.9,41.7 582.6,42.0" fill="none" stroke="#8f8f8f" stroke-width="1.1" stroke-dasharray="8.5 6.5"/>
<polyline points="486.0,58.6 487.9,58.2 490.4,57.7 494.3,57.1 500.0,56.6 508.4,56.3 518.8,56.0 530.1,55.9 541.0,55.8 551.9,55.9 563.2,56.0 573.6,56.3 582.0,56.6 587.7,57.1 591.6,57.6 594.1,58.2 596.0,58.6" fill="none" stroke="#8f8f8f" stroke-width="1.1" stroke-dasharray="8.5 6.5"/>
<polygon points="541.2,21.7 539.7,21.7 538.3,21.8 536.8,21.9 535.4,22.0 534.0,22.2 532.6,22.4 531.3,22.6 530.0,22.8 528.7,23.1 527.5,23.4 526.3,23.7 525.1,24.0 524.0,24.4 523.0,24.7 522.0,25.1 521.0,25.4 520.2,25.8 519.3,26.1 518.5,26.5 517.8,26.8 517.0,27.1 516.4,27.4 515.8,27.7 515.2,28.0 514.7,28.3 514.2,28.6 513.7,28.8 513.3,29.0 513.0,29.3 512.6,29.5 512.3,29.6 512.1,29.8 511.8,29.9 511.6,30.0 511.5,30.2 511.3,30.2 511.2,30.3 511.2,30.4 511.1,30.4 511.1,30.4 511.1,30.4 511.1,30.4 511.2,30.3 511.2,30.3 511.4,30.2 511.5,30.1 511.6,30.0 511.8,29.9 512.0,29.8 512.3,29.7 512.5,29.5 512.8,29.3 513.1,29.2 513.5,29.0 513.8,28.8 514.2,28.6 514.6,28.3 515.0,28.1 515.5,27.9 516.0,27.7 516.5,27.4 517.1,27.2 517.7,27.0 518.3,26.8 518.9,26.6 519.6,26.4 520.3,26.2 521.0,26.0 521.7,25.8 522.5,25.7 523.3,25.5 524.1,25.3 524.9,25.2 525.8,25.0 526.7,24.9 527.5,24.8 528.4,24.7 529.4,24.5 530.3,24.4 531.2,24.3 532.2,24.3 533.2,24.2 534.2,24.1 535.1,24.1 536.1,24.0 537.2,24.0 538.2,23.9 539.2,23.9 540.2,23.9 541.2,23.9 542.2,23.9 543.2,23.9 544.2,23.9 545.2,24.0 546.3,24.0 547.3,24.1 548.2,24.1 549.2,24.2 550.2,24.3 551.2,24.3 552.1,24.4 553.0,24.5 554.0,24.7 554.9,24.8 555.7,24.9 556.6,25.0 557.5,25.2 558.3,25.3 559.1,25.5 559.9,25.7 560.7,25.8 561.4,26.0 562.1,26.2 562.8,26.4 563.5,26.6 564.1,26.8 564.7,27.0 565.3,27.2 565.9,27.4 566.4,27.7 566.9,27.9 567.4,28.1 567.8,28.3 568.2,28.6 568.6,28.8 568.9,29.0 569.3,29.2 569.6,29.3 569.9,29.5 570.1,29.7 570.4,29.8 570.6,29.9 570.8,30.0 570.9,30.1 571.0,30.2 571.2,30.3 571.2,30.3 571.3,30.4 571.3,30.4 571.3,30.4 571.3,30.4 571.2,30.4 571.2,30.3 571.1,30.2 570.9,30.2 570.8,30.0 570.6,29.9 570.3,29.8 570.1,29.6 569.8,29.5 569.4,29.3 569.1,29.0 568.7,28.8 568.2,28.6 567.7,28.3 567.2,28.0 566.6,27.7 566.0,27.4 565.4,27.1 564.6,26.8 563.9,26.5 563.1,26.1 562.2,25.8 561.4,25.4 560.4,25.1 559.4,24.7 558.4,24.4 557.3,24.0 556.1,23.7 554.9,23.4 553.7,23.1 552.4,22.8 551.1,22.6 549.8,22.4 548.4,22.2 547.0,22.0 545.6,21.9 544.1,21.8 542.7,21.7 541.2,21.7 541.2,21.7 542.3,21.7 543.5,21.7 544.6,21.8 545.7,21.9 546.9,22.0 548.0,22.1 549.0,22.2 550.1,22.4 551.1,22.6 552.1,22.8 553.1,23.0 554.0,23.2 554.9,23.4 555.8,23.6 556.7,23.9 557.5,24.1 558.3,24.3 559.0,24.6 559.7,24.8 560.4,25.1 561.0,25.3 561.6,25.5 562.2,25.7 562.7,25.9 563.2,26.2 563.6,26.3 564.1,26.5 564.5,26.7 564.8,26.9 565.1,27.0 565.4,27.2 565.7,27.3 565.9,27.4 566.2,27.5 566.3,27.6 566.5,27.7 566.6,27.7 566.7,27.8 566.8,27.8 566.8,27.8 566.8,27.9 566.8,27.9 566.8,27.8 566.7,27.8 566.7,27.8 566.6,27.7 566.4,27.6 566.3,27.6 566.1,27.5 565.9,27.4 565.7,27.3 565.4,27.2 565.2,27.0 564.9,26.9 564.6,26.8 564.2,26.6 563.9,26.4 563.5,26.3 563.1,26.1 562.7,25.9 562.2,25.7 561.7,25.6 561.2,25.4 560.7,25.2 560.2,25.0 559.6,24.9 559.0,24.7 558.4,24.5 557.8,24.4 557.1,24.2 556.4,24.1 555.8,24.0 555.1,23.8 554.3,23.7 553.6,23.6 552.8,23.5 552.1,23.4 551.3,23.3 550.5,23.2 549.7,23.1 548.9,23.1 548.0,23.0 547.2,22.9 546.3,22.9 545.5,22.8 544.6,22.8 543.8,22.8 542.9,22.8 542.1,22.7 541.2,22.7 540.3,22.7 539.5,22.8 538.6,22.8 537.8,22.8 536.9,22.8 536.1,22.9 535.2,22.9 534.4,23.0 533.5,23.1 532.7,23.1 531.9,23.2 531.1,23.3 530.3,23.4 529.6,23.5 528.8,23.6 528.1,23.7 527.3,23.8 526.6,24.0 526.0,24.1 525.3,24.2 524.6,24.4 524.0,24.5 523.4,24.7 522.8,24.9 522.2,25.0 521.7,25.2 521.2,25.4 520.7,25.6 520.2,25.7 519.7,25.9 519.3,26.1 518.9,26.3 518.5,26.4 518.2,26.6 517.8,26.8 517.5,26.9 517.2,27.0 517.0,27.2 516.7,27.3 516.5,27.4 516.3,27.5 516.1,27.6 516.0,27.6 515.8,27.7 515.7,27.8 515.7,27.8 515.6,27.8 515.6,27.9 515.6,27.9 515.6,27.8 515.6,27.8 515.7,27.8 515.8,27.7 515.9,27.7 516.1,27.6 516.2,27.5 516.5,27.4 516.7,27.3 517.0,27.2 517.3,27.0 517.6,26.9 517.9,26.7 518.3,26.5 518.8,26.3 519.2,26.2 519.7,25.9 520.2,25.7 520.8,25.5 521.4,25.3 522.0,25.1 522.7,24.8 523.4,24.6 524.1,24.3 524.9,24.1 525.7,23.9 526.6,23.6 527.5,23.4 528.4,23.2 529.3,23.0 530.3,22.8 531.3,22.6 532.3,22.4 533.4,22.2 534.4,22.1 535.5,22.0 536.7,21.9 537.8,21.8 538.9,21.7 540.1,21.7 541.2,21.7" fill="#bdbdbd" stroke="#888" stroke-width="0.7"/>
<polygon points="541.2,134.7 540.3,134.7 539.4,134.7 538.6,134.6 537.7,134.6 536.8,134.5 536.0,134.5 535.1,134.4 534.3,134.3 533.4,134.2 532.6,134.0 531.8,133.9 531.0,133.8 530.2,133.6 529.5,133.5 528.7,133.3 528.0,133.1 527.3,133.0 526.6,132.8 525.9,132.6 525.2,132.4 524.6,132.2 523.9,132.0 523.3,131.8 522.8,131.6 522.2,131.4 521.7,131.2 521.2,131.0 520.7,130.8 520.2,130.6 519.8,130.5 519.3,130.3 518.9,130.1 518.6,129.9 518.2,129.7 517.9,129.4 517.6,129.2 517.4,129.0 517.2,128.8 517.0,128.6 516.8,128.4 516.7,128.1 516.6,127.9 516.5,127.7 516.4,127.5 516.4,127.3 516.4,127.0 516.5,126.8 516.6,126.6 516.7,126.4 516.8,126.1 517.0,125.9 517.2,125.7 517.4,125.5 517.6,125.3 517.9,125.1 518.2,124.9 518.6,124.6 518.9,124.4 519.3,124.2 519.8,124.0 520.2,123.9 520.7,123.7 521.2,123.5 521.7,123.3 522.2,123.1 522.8,123.0 523.4,122.8 524.0,122.6 524.6,122.5 525.3,122.3 526.0,122.2 526.6,122.1 527.3,121.9 528.1,121.8 528.8,121.7 529.6,121.6 530.3,121.5 531.1,121.4 531.9,121.3 532.7,121.2 533.5,121.2 534.4,121.1 535.2,121.0 536.1,121.0 536.9,120.9 537.8,120.9 538.6,120.9 539.5,120.9 540.3,120.8 541.2,120.8 542.1,120.8 542.9,120.9 543.8,120.9 544.6,120.9 545.5,120.9 546.3,121.0 547.2,121.0 548.0,121.1 548.9,121.2 549.7,121.2 550.5,121.3 551.3,121.4 552.1,121.5 552.8,121.6 553.6,121.7 554.3,121.8 555.1,121.9 555.8,122.1 556.4,122.2 557.1,122.3 557.8,122.5 558.4,122.6 559.0,122.8 559.6,123.0 560.2,123.1 560.7,123.3 561.2,123.5 561.7,123.7 562.2,123.9 562.6,124.0 563.1,124.2 563.5,124.4 563.8,124.6 564.2,124.9 564.5,125.1 564.8,125.3 565.0,125.5 565.2,125.7 565.4,125.9 565.6,126.1 565.7,126.4 565.8,126.6 565.9,126.8 566.0,127.0 566.0,127.3 566.0,127.5 565.9,127.7 565.8,127.9 565.7,128.1 565.6,128.4 565.4,128.6 565.2,128.8 565.0,129.0 564.8,129.2 564.5,129.4 564.2,129.7 563.8,129.9 563.5,130.1 563.1,130.3 562.6,130.5 562.2,130.6 561.7,130.8 561.2,131.0 560.7,131.2 560.2,131.4 559.6,131.6 559.1,131.8 558.5,132.0 557.8,132.2 557.2,132.4 556.5,132.6 555.8,132.8 555.1,133.0 554.4,133.1 553.7,133.3 552.9,133.5 552.2,133.6 551.4,133.8 550.6,133.9 549.8,134.0 549.0,134.2 548.1,134.3 547.3,134.4 546.4,134.5 545.6,134.5 544.7,134.6 543.8,134.6 543.0,134.7 542.1,134.7 541.2,134.7 541.2,134.7 542.3,134.7 543.3,134.7 544.4,134.6 545.4,134.5 546.4,134.5 547.5,134.4 548.5,134.2 549.5,134.1 550.5,133.9 551.5,133.8 552.4,133.6 553.4,133.4 554.3,133.2 555.2,132.9 556.1,132.7 556.9,132.5 557.8,132.2 558.6,132.0 559.4,131.7 560.1,131.4 560.9,131.2 561.6,130.9 562.3,130.6 563.0,130.3 563.6,130.1 564.2,129.8 564.8,129.5 565.4,129.3 565.9,129.0 566.4,128.8 566.9,128.5 567.4,128.3 567.8,128.0 568.2,127.8 568.5,127.6 568.9,127.3 569.2,127.1 569.4,126.8 569.7,126.5 569.9,126.3 570.0,126.0 570.1,125.8 570.2,125.5 570.3,125.2 570.3,125.0 570.3,124.7 570.2,124.5 570.1,124.2 570.0,123.9 569.9,123.7 569.7,123.4 569.4,123.2 569.2,122.9 568.9,122.7 568.5,122.4 568.2,122.2 567.8,121.9 567.4,121.7 566.9,121.4 566.4,121.2 565.9,121.0 565.3,120.8 564.7,120.6 564.1,120.3 563.5,120.1 562.8,119.9 562.1,119.7 561.4,119.6 560.7,119.4 559.9,119.2 559.1,119.0 558.3,118.9 557.5,118.7 556.6,118.6 555.7,118.5 554.9,118.3 554.0,118.2 553.0,118.1 552.1,118.0 551.2,117.9 550.2,117.8 549.2,117.7 548.2,117.7 547.3,117.6 546.3,117.6 545.2,117.5 544.2,117.5 543.2,117.5 542.2,117.5 541.2,117.4 540.2,117.5 539.2,117.5 538.2,117.5 537.2,117.5 536.1,117.6 535.1,117.6 534.2,117.7 533.2,117.7 532.2,117.8 531.2,117.9 530.3,118.0 529.4,118.1 528.4,118.2 527.5,118.3 526.7,118.5 525.8,118.6 524.9,118.7 524.1,118.9 523.3,119.0 522.5,119.2 521.7,119.4 521.0,119.6 520.3,119.7 519.6,119.9 518.9,120.1 518.3,120.3 517.7,120.6 517.1,120.8 516.5,121.0 516.0,121.2 515.5,121.4 515.0,121.7 514.6,121.9 514.2,122.2 513.9,122.4 513.5,122.7 513.2,122.9 513.0,123.2 512.7,123.4 512.5,123.7 512.4,123.9 512.3,124.2 512.2,124.5 512.1,124.7 512.1,125.0 512.1,125.2 512.2,125.5 512.3,125.8 512.4,126.0 512.5,126.3 512.7,126.5 513.0,126.8 513.2,127.1 513.5,127.3 513.9,127.6 514.2,127.8 514.6,128.0 515.0,128.3 515.5,128.5 516.0,128.8 516.5,129.0 517.0,129.3 517.6,129.5 518.2,129.8 518.8,130.1 519.4,130.3 520.1,130.6 520.8,130.9 521.5,131.2 522.3,131.4 523.0,131.7 523.8,132.0 524.6,132.2 525.5,132.5 526.3,132.7 527.2,132.9 528.1,133.2 529.0,133.4 530.0,133.6 530.9,133.8 531.9,133.9 532.9,134.1 533.9,134.2 534.9,134.4 536.0,134.5 537.0,134.5 538.0,134.6 539.1,134.7 540.1,134.7 541.2,134.7" fill="#bdbdbd" stroke="#888" stroke-width="0.7"/>
<polyline points="540.9,134.7 540.7,134.7 540.4,134.7 540.2,134.7 539.9,134.7 539.7,134.7 539.4,134.7 539.2,134.7 538.9,134.7 538.7,134.6 538.4,134.6 538.2,134.6 537.9,134.6 537.7,134.6 537.4,134.6 537.2,134.6 536.9,134.5 536.7,134.5 536.4,134.5 536.2,134.5 536.0,134.4 535.7,134.4 535.5,134.4 535.3,134.4 535.0,134.3 534.8,134.3 534.6,134.3 534.3,134.3 534.1,134.2 533.9,134.2 533.7,134.2 533.5,134.1 533.2,134.1 533.0,134.1 532.8,134.0 532.6,134.0 532.4,133.9 532.2,133.9 532.0,133.9 531.8,133.8 531.6,133.8 531.4,133.7 531.2,133.7 531.0,133.6 530.9,133.6 530.7,133.5 530.5,133.5 530.3,133.4 530.2,133.4 530.0,133.3 529.8,133.3 529.7,133.2 529.5,133.2 529.4,133.1 529.2,133.1 529.1,133.0 528.9,133.0 528.8,132.9 528.7,132.9 528.5,132.8 528.4,132.8 528.3,132.7 528.2,132.6 528.1,132.6 527.9,132.5 527.8,132.5 527.7,132.4 527.6,132.3 527.5,132.3 527.5,132.2 527.4,132.1 527.3,132.1 527.2,132.0 527.1,132.0 527.1,131.9 527.0,131.8 527.0,131.8 526.9,131.7 526.8,131.6 526.8,131.6 526.8,131.5 526.7,131.4 526.7,131.4 526.7,131.3 526.6,131.2 526.6,131.2 526.6,131.1 526.6,131.0 526.6,131.0 526.6,130.9 526.6,130.8 526.6,130.8 526.6,130.7 526.6,130.7 526.6,130.6 526.7,130.5 526.7,130.5 526.7,130.4 526.8,130.3 526.8,130.3 526.8,130.2 526.9,130.1 527.0,130.1 527.0,130.0 527.1,129.9 527.1,129.9 527.2,129.8 527.3,129.7 527.4,129.7 527.5,129.6 527.5,129.6 527.6,129.5 527.7,129.4 527.8,129.4 527.9,129.3 528.1,129.3 528.2,129.2 528.3,129.1 528.4,129.1 528.5,129.0 528.7,129.0 528.8,128.9 528.9,128.9 529.1,128.8 529.2,128.7 529.4,128.7 529.5,128.6 529.7,128.6 529.8,128.5 530.0,128.5 530.2,128.4 530.3,128.4 530.5,128.3 530.7,128.3 530.9,128.2 531.0,128.2 531.2,128.1 531.4,128.1 531.6,128.1 531.8,128.0 532.0,128.0 532.2,127.9 532.4,127.9 532.6,127.9 532.8,127.8 533.0,127.8 533.2,127.7 533.5,127.7 533.7,127.7 533.9,127.6 534.1,127.6 534.3,127.6 534.6,127.5 534.8,127.5 535.0,127.5 535.3,127.5 535.5,127.4 535.7,127.4 536.0,127.4 536.2,127.4 536.4,127.3 536.7,127.3 536.9,127.3 537.2,127.3 537.4,127.3 537.7,127.2 537.9,127.2 538.2,127.2 538.4,127.2 538.7,127.2 538.9,127.2 539.2,127.2 539.4,127.2 539.7,127.2 539.9,127.1 540.2,127.1 540.4,127.1 540.7,127.1 540.9,127.1 541.2,127.1 541.5,127.1 541.7,127.1 542.0,127.1 542.2,127.1 542.5,127.1 542.7,127.2 543.0,127.2 543.2,127.2 543.5,127.2 543.7,127.2 544.0,127.2 544.2,127.2 544.5,127.2 544.7,127.2 545.0,127.3 545.2,127.3 545.5,127.3 545.7,127.3 546.0,127.3 546.2,127.4 546.4,127.4 546.7,127.4 546.9,127.4 547.1,127.5 547.4,127.5 547.6,127.5 547.8,127.5 548.1,127.6 548.3,127.6 548.5,127.6 548.7,127.7 548.9,127.7 549.2,127.7 549.4,127.8 549.6,127.8 549.8,127.9 550.0,127.9 550.2,127.9 550.4,128.0 550.6,128.0 550.8,128.1 551.0,128.1 551.2,128.1 551.4,128.2 551.5,128.2 551.7,128.3 551.9,128.3 552.1,128.4 552.2,128.4 552.4,128.5 552.6,128.5 552.7,128.6 552.9,128.6 553.0,128.7 553.2,128.7 553.3,128.8 553.5,128.9 553.6,128.9 553.7,129.0 553.9,129.0 554.0,129.1 554.1,129.1 554.2,129.2 554.3,129.3 554.5,129.3 554.6,129.4 554.7,129.4 554.8,129.5 554.9,129.6 554.9,129.6 555.0,129.7 555.1,129.7 555.2,129.8 555.3,129.9 555.3,129.9 555.4,130.0 555.4,130.1 555.5,130.1 555.6,130.2 555.6,130.3 555.6,130.3 555.7,130.4 555.7,130.5 555.7,130.5 555.8,130.6 555.8,130.7 555.8,130.7 555.8,130.8 555.8,130.8 555.8,130.9 555.8,131.0 555.8,131.0 555.8,131.1 555.8,131.2 555.8,131.2 555.7,131.3 555.7,131.4 555.7,131.4 555.6,131.5 555.6,131.6 555.6,131.6 555.5,131.7 555.4,131.8 555.4,131.8 555.3,131.9 555.3,132.0 555.2,132.0 555.1,132.1 555.0,132.1 554.9,132.2 554.9,132.3 554.8,132.3 554.7,132.4 554.6,132.5 554.5,132.5 554.3,132.6 554.2,132.6 554.1,132.7 554.0,132.8 553.9,132.8 553.7,132.9 553.6,132.9 553.5,133.0 553.3,133.0 553.2,133.1 553.0,133.1 552.9,133.2 552.7,133.2 552.6,133.3 552.4,133.3 552.2,133.4 552.1,133.4 551.9,133.5 551.7,133.5 551.5,133.6 551.4,133.6 551.2,133.7 551.0,133.7 550.8,133.8 550.6,133.8 550.4,133.9 550.2,133.9 550.0,133.9 549.8,134.0 549.6,134.0 549.4,134.1 549.2,134.1 548.9,134.1 548.7,134.2 548.5,134.2 548.3,134.2 548.1,134.3 547.8,134.3 547.6,134.3 547.4,134.3 547.1,134.4 546.9,134.4 546.7,134.4 546.4,134.4 546.2,134.5 546.0,134.5 545.7,134.5 545.5,134.5 545.2,134.6 545.0,134.6 544.7,134.6 544.5,134.6 544.2,134.6 544.0,134.6 543.7,134.6 543.5,134.7 543.2,134.7 543.0,134.7 542.7,134.7 542.5,134.7 542.2,134.7 542.0,134.7 541.7,134.7 541.5,134.7" fill="none" stroke="#707070" stroke-width="0.8"/>
<circle cx="541.20" cy="78.20" r="56.50" fill="none" stroke="#4a4a4a" stroke-width="1.1"/>
<line x1="538.50" y1="21.16" x2="538.50" y2="135.24" stroke="#444" stroke-width="1"/>
<line x1="544.50" y1="21.20" x2="544.50" y2="135.20" stroke="#444" stroke-width="1"/>
<text x="555.00" y="23.70" font-size="6.2" font-weight="bold" text-anchor="middle" fill="#2a2a2a" textLength="7.7" lengthAdjust="spacingAndGlyphs">70</text>
<text x="566.00" y="30.50" font-size="6.2" font-weight="bold" text-anchor="middle" fill="#2a2a2a" textLength="7.7" lengthAdjust="spacingAndGlyphs">50</text>
<text x="573.20" y="42.80" font-size="6.2" font-weight="bold" text-anchor="middle" fill="#2a2a2a" textLength="7.7" lengthAdjust="spacingAndGlyphs">30</text>
<text x="577.50" y="59.75" font-size="6.2" font-weight="bold" text-anchor="middle" fill="#2a2a2a" textLength="7.7" lengthAdjust="spacingAndGlyphs">10</text>
<text x="577.70" y="68.95" font-size="6.2" font-weight="bold" text-anchor="middle" fill="#2a2a2a" textLength="4.3" lengthAdjust="spacingAndGlyphs">0</text>
<text x="577.00" y="78.75" font-size="6.2" font-weight="bold" text-anchor="middle" fill="#2a2a2a" textLength="12.8" lengthAdjust="spacingAndGlyphs">−10</text>
<text x="573.80" y="97.70" font-size="6.2" font-weight="bold" text-anchor="middle" fill="#2a2a2a" textLength="12.8" lengthAdjust="spacingAndGlyphs">−30</text>
<text x="564.00" y="114.60" font-size="6.2" font-weight="bold" text-anchor="middle" fill="#2a2a2a" textLength="12.8" lengthAdjust="spacingAndGlyphs">−50</text>
<text x="552.00" y="126.80" font-size="6.2" font-weight="bold" text-anchor="middle" fill="#2a2a2a" textLength="12.8" lengthAdjust="spacingAndGlyphs">−70</text>
<text x="542.20" y="133.20" font-size="6.2" font-weight="bold" text-anchor="middle" fill="#2a2a2a" textLength="12.8" lengthAdjust="spacingAndGlyphs">−90</text>
<rect x="483.60" y="185.40" width="115.30" height="115.30" fill="none" stroke="#6e6e6e" stroke-width="1.1"/>
<polyline points="540.9,299.5 540.5,299.5 540.2,299.5 539.8,299.5 539.5,299.5 539.2,299.5 538.8,299.4 538.5,299.4 538.2,299.4 537.8,299.4 537.5,299.4 537.2,299.4 536.9,299.3 536.6,299.3 536.3,299.3 536.0,299.2 535.7,299.2 535.4,299.2 535.2,299.1 534.9,299.1 534.6,299.1 534.4,299.0 534.1,299.0 533.9,298.9 533.7,298.9 533.5,298.8 533.3,298.8 533.1,298.7 532.9,298.7 532.7,298.6 532.5,298.6 532.4,298.5 532.2,298.5 532.1,298.4 532.0,298.4 531.9,298.3 531.8,298.3 531.7,298.2 531.6,298.2 531.5,298.1 531.5,298.0 531.4,298.0 531.4,297.9 531.4,297.9 531.4,297.8 531.4,297.7 531.4,297.7 531.4,297.6 531.5,297.6 531.5,297.5 531.6,297.4 531.7,297.4 531.8,297.3 531.9,297.3 532.0,297.2 532.1,297.2 532.2,297.1 532.4,297.0 532.5,297.0 532.7,296.9 532.9,296.9 533.1,296.8 533.3,296.8 533.5,296.7 533.7,296.7 533.9,296.7 534.1,296.6 534.4,296.6 534.6,296.5 534.9,296.5 535.2,296.5 535.4,296.4 535.7,296.4 536.0,296.4 536.3,296.3 536.6,296.3 536.9,296.3 537.2,296.2 537.5,296.2 537.8,296.2 538.2,296.2 538.5,296.2 538.8,296.1 539.2,296.1 539.5,296.1 539.8,296.1 540.2,296.1 540.5,296.1 540.9,296.1 541.2,296.1 541.5,296.1 541.9,296.1 542.2,296.1 542.6,296.1 542.9,296.1 543.2,296.1 543.6,296.1 543.9,296.2 544.2,296.2 544.6,296.2 544.9,296.2 545.2,296.2 545.5,296.3 545.8,296.3 546.1,296.3 546.4,296.4 546.7,296.4 547.0,296.4 547.2,296.5 547.5,296.5 547.8,296.5 548.0,296.6 548.3,296.6 548.5,296.7 548.7,296.7 548.9,296.7 549.1,296.8 549.3,296.8 549.5,296.9 549.7,296.9 549.9,297.0 550.0,297.0 550.2,297.1 550.3,297.2 550.4,297.2 550.5,297.3 550.6,297.3 550.7,297.4 550.8,297.4 550.9,297.5 550.9,297.6 551.0,297.6 551.0,297.7 551.0,297.7 551.0,297.8 551.0,297.9 551.0,297.9 551.0,298.0 550.9,298.0 550.9,298.1 550.8,298.2 550.7,298.2 550.6,298.3 550.5,298.3 550.4,298.4 550.3,298.4 550.2,298.5 550.0,298.5 549.9,298.6 549.7,298.6 549.5,298.7 549.3,298.7 549.1,298.8 548.9,298.8 548.7,298.9 548.5,298.9 548.3,299.0 548.0,299.0 547.8,299.1 547.5,299.1 547.2,299.1 547.0,299.2 546.7,299.2 546.4,299.2 546.1,299.3 545.8,299.3 545.5,299.3 545.2,299.4 544.9,299.4 544.6,299.4 544.2,299.4 543.9,299.4 543.6,299.4 543.2,299.5 542.9,299.5 542.6,299.5 542.2,299.5 541.9,299.5 541.5,299.5" fill="none" stroke="#a8a8a8" stroke-width="0.9" stroke-dasharray="1.3 4.4"/>
<polyline points="524.1,296.9 523.8,296.8 523.5,296.7 523.3,296.5 523.0,296.4 522.8,296.3 522.6,296.2 522.4,296.1 522.3,296.0 522.2,295.9 522.1,295.8 522.0,295.6 521.9,295.5 521.9,295.4 521.9,295.3 521.9,295.2 521.9,295.1 522.0,294.9 522.1,294.8 522.2,294.7 522.3,294.6 522.4,294.5 522.6,294.4 522.8,294.2 523.0,294.1 523.3,294.0 523.5,293.9 523.8,293.8 524.1,293.7 524.5,293.6 524.8,293.5 525.2,293.4 525.6,293.3 526.0,293.2 526.4,293.1 526.8,293.0 527.3,293.0 527.8,292.9 528.3,292.8 528.8,292.7 529.3,292.6 529.8,292.6 530.4,292.5 531.0,292.4 531.5,292.4 532.1,292.3 532.7,292.3 533.3,292.2 534.0,292.2 534.6,292.1 535.2,292.1 535.9,292.1 536.5,292.0 537.2,292.0 537.8,292.0 538.5,292.0 539.2,291.9 539.9,291.9 540.5,291.9 541.2,291.9 541.9,291.9 542.5,291.9 543.2,291.9 543.9,292.0 544.6,292.0 545.2,292.0 545.9,292.0 546.5,292.1 547.2,292.1 547.8,292.1 548.4,292.2 549.1,292.2 549.7,292.3 550.3,292.3 550.9,292.4 551.4,292.4 552.0,292.5 552.6,292.6 553.1,292.6 553.6,292.7 554.1,292.8 554.6,292.9 555.1,293.0 555.6,293.0 556.0,293.1 556.4,293.2 556.8,293.3 557.2,293.4 557.6,293.5 557.9,293.6 558.3,293.7 558.6,293.8 558.9,293.9 559.1,294.0 559.4,294.1 559.6,294.2 559.8,294.4 560.0,294.5 560.1,294.6 560.2,294.7 560.3,294.8 560.4,294.9 560.5,295.1 560.5,295.2 560.5,295.3 560.5,295.4 560.5,295.5 560.4,295.6 560.3,295.8 560.2,295.9 560.1,296.0 560.0,296.1 559.8,296.2 559.6,296.3 559.4,296.4 559.1,296.5 558.9,296.7 558.6,296.8 558.3,296.9" fill="none" stroke="#a8a8a8" stroke-width="0.9" stroke-dasharray="1.3 4.4"/>
<polyline points="514.0,292.5 513.8,292.4 513.6,292.2 513.4,292.0 513.2,291.9 513.1,291.7 513.0,291.5 513.0,291.4 513.0,291.2 513.0,291.0 513.0,290.8 513.1,290.7 513.2,290.5 513.4,290.3 513.6,290.2 513.8,290.0 514.0,289.8 514.3,289.7 514.7,289.5 515.0,289.3 515.4,289.2 515.8,289.0 516.3,288.9 516.7,288.7 517.2,288.6 517.8,288.4 518.3,288.3 518.9,288.2 519.6,288.0 520.2,287.9 520.9,287.8 521.6,287.7 522.3,287.5 523.0,287.4 523.8,287.3 524.6,287.2 525.4,287.1 526.2,287.0 527.1,286.9 527.9,286.9 528.8,286.8 529.7,286.7 530.6,286.6 531.5,286.6 532.5,286.5 533.4,286.5 534.4,286.4 535.3,286.4 536.3,286.4 537.3,286.3 538.2,286.3 539.2,286.3 540.2,286.3 541.2,286.3 542.2,286.3 543.2,286.3 544.2,286.3 545.1,286.3 546.1,286.4 547.1,286.4 548.0,286.4 549.0,286.5 549.9,286.5 550.9,286.6 551.8,286.6 552.7,286.7 553.6,286.8 554.5,286.9 555.3,286.9 556.2,287.0 557.0,287.1 557.8,287.2 558.6,287.3 559.4,287.4 560.1,287.5 560.8,287.7 561.5,287.8 562.2,287.9 562.8,288.0 563.5,288.2 564.1,288.3 564.6,288.4 565.2,288.6 565.7,288.7 566.1,288.9 566.6,289.0 567.0,289.2 567.4,289.3 567.7,289.5 568.1,289.7 568.4,289.8 568.6,290.0 568.8,290.2 569.0,290.3 569.2,290.5 569.3,290.7 569.4,290.8 569.4,291.0 569.5,291.2 569.4,291.4 569.4,291.5 569.3,291.7 569.2,291.9 569.0,292.0 568.8,292.2 568.6,292.4 568.4,292.5" fill="none" stroke="#a8a8a8" stroke-width="0.9" stroke-dasharray="1.3 4.4"/>
<polyline points="505.7,286.9 505.4,286.7 505.2,286.5 505.1,286.3 505.0,286.1 504.9,285.8 504.9,285.6 504.9,285.4 505.0,285.2 505.1,285.0 505.2,284.7 505.4,284.5 505.7,284.3 506.0,284.1 506.3,283.9 506.7,283.7 507.1,283.5 507.5,283.3 508.0,283.1 508.6,282.9 509.1,282.7 509.7,282.5 510.4,282.3 511.1,282.1 511.8,281.9 512.6,281.7 513.4,281.6 514.2,281.4 515.1,281.2 516.0,281.1 516.9,280.9 517.9,280.8 518.8,280.7 519.9,280.5 520.9,280.4 522.0,280.3 523.0,280.2 524.1,280.1 525.3,280.0 526.4,279.9 527.6,279.8 528.8,279.7 530.0,279.6 531.2,279.6 532.4,279.5 533.6,279.5 534.9,279.4 536.1,279.4 537.4,279.4 538.7,279.3 539.9,279.3 541.2,279.3 542.5,279.3 543.7,279.3 545.0,279.4 546.3,279.4 547.5,279.4 548.8,279.5 550.0,279.5 551.2,279.6 552.4,279.6 553.6,279.7 554.8,279.8 556.0,279.9 557.1,280.0 558.3,280.1 559.4,280.2 560.4,280.3 561.5,280.4 562.5,280.5 563.6,280.7 564.5,280.8 565.5,280.9 566.4,281.1 567.3,281.2 568.2,281.4 569.0,281.6 569.8,281.7 570.6,281.9 571.3,282.1 572.0,282.3 572.7,282.5 573.3,282.7 573.8,282.9 574.4,283.1 574.9,283.3 575.3,283.5 575.7,283.7 576.1,283.9 576.4,284.1 576.7,284.3 577.0,284.5 577.2,284.7 577.3,285.0 577.4,285.2 577.5,285.4 577.5,285.6 577.5,285.8 577.4,286.1 577.3,286.3 577.2,286.5 577.0,286.7 576.7,286.9" fill="none" stroke="#a8a8a8" stroke-width="0.9" stroke-dasharray="1.3 4.4"/>
<polyline points="498.3,279.8 498.2,279.6 498.0,279.3 497.9,279.0 497.9,278.8 497.9,278.5 498.0,278.2 498.2,278.0 498.3,277.7 498.6,277.5 498.9,277.2 499.2,276.9 499.6,276.7 500.0,276.4 500.5,276.2 501.1,276.0 501.7,275.7 502.3,275.5 503.0,275.2 503.7,275.0 504.5,274.8 505.3,274.6 506.2,274.3 507.1,274.1 508.0,273.9 509.0,273.7 510.1,273.5 511.1,273.4 512.2,273.2 513.4,273.0 514.6,272.8 515.8,272.7 517.0,272.5 518.3,272.4 519.6,272.3 520.9,272.1 522.2,272.0 523.6,271.9 525.0,271.8 526.4,271.7 527.8,271.6 529.3,271.5 530.7,271.5 532.2,271.4 533.7,271.4 535.2,271.3 536.7,271.3 538.2,271.3 539.7,271.3 541.2,271.2 542.7,271.3 544.2,271.3 545.7,271.3 547.2,271.3 548.7,271.4 550.2,271.4 551.7,271.5 553.1,271.5 554.6,271.6 556.0,271.7 557.4,271.8 558.8,271.9 560.2,272.0 561.5,272.1 562.8,272.3 564.1,272.4 565.4,272.5 566.6,272.7 567.8,272.8 569.0,273.0 570.2,273.2 571.3,273.4 572.3,273.5 573.4,273.7 574.4,273.9 575.3,274.1 576.2,274.3 577.1,274.6 577.9,274.8 578.7,275.0 579.4,275.2 580.1,275.5 580.7,275.7 581.3,276.0 581.9,276.2 582.4,276.4 582.8,276.7 583.2,276.9 583.5,277.2 583.8,277.5 584.1,277.7 584.2,278.0 584.4,278.2 584.5,278.5 584.5,278.8 584.5,279.0 584.4,279.3 584.2,279.6 584.1,279.8" fill="none" stroke="#a8a8a8" stroke-width="0.9" stroke-dasharray="1.3 4.4"/>
<polyline points="492.4,271.4 492.3,271.1 492.3,270.8 492.3,270.5 492.4,270.2 492.5,269.9 492.7,269.6 493.0,269.3 493.3,269.1 493.7,268.8 494.2,268.5 494.7,268.2 495.2,267.9 495.8,267.6 496.5,267.4 497.2,267.1 498.0,266.8 498.8,266.6 499.7,266.3 500.6,266.1 501.6,265.8 502.6,265.6 503.7,265.4 504.8,265.1 506.0,264.9 507.2,264.7 508.5,264.5 509.7,264.3 511.1,264.1 512.4,263.9 513.8,263.8 515.3,263.6 516.7,263.5 518.2,263.3 519.8,263.2 521.3,263.1 522.9,262.9 524.5,262.8 526.1,262.7 527.7,262.7 529.4,262.6 531.0,262.5 532.7,262.5 534.4,262.4 536.1,262.4 537.8,262.3 539.5,262.3 541.2,262.3 542.9,262.3 544.6,262.3 546.3,262.4 548.0,262.4 549.7,262.5 551.4,262.5 553.0,262.6 554.7,262.7 556.3,262.7 557.9,262.8 559.5,262.9 561.1,263.1 562.6,263.2 564.2,263.3 565.7,263.5 567.1,263.6 568.6,263.8 570.0,263.9 571.3,264.1 572.7,264.3 573.9,264.5 575.2,264.7 576.4,264.9 577.6,265.1 578.7,265.4 579.8,265.6 580.8,265.8 581.8,266.1 582.7,266.3 583.6,266.6 584.4,266.8 585.2,267.1 585.9,267.4 586.6,267.6 587.2,267.9 587.7,268.2 588.2,268.5 588.7,268.8 589.1,269.1 589.4,269.3 589.7,269.6 589.9,269.9 590.0,270.2 590.1,270.5 590.1,270.8 590.1,271.1 590.0,271.4" fill="none" stroke="#a8a8a8" stroke-width="0.9" stroke-dasharray="1.3 4.4"/>
<polyline points="488.1,262.4 488.1,262.0 488.1,261.7 488.2,261.4 488.4,261.1 488.6,260.7 488.9,260.4 489.3,260.1 489.7,259.8 490.2,259.5 490.7,259.2 491.3,258.9 492.0,258.6 492.7,258.3 493.5,258.0 494.3,257.7 495.2,257.4 496.2,257.1 497.2,256.9 498.2,256.6 499.4,256.4 500.5,256.1 501.7,255.9 503.0,255.6 504.3,255.4 505.7,255.2 507.1,255.0 508.5,254.8 510.0,254.6 511.5,254.4 513.1,254.2 514.7,254.0 516.3,253.9 517.9,253.7 519.6,253.6 521.3,253.5 523.0,253.4 524.8,253.3 526.6,253.2 528.4,253.1 530.2,253.0 532.0,253.0 533.8,252.9 535.7,252.9 537.5,252.8 539.3,252.8 541.2,252.8 543.1,252.8 544.9,252.8 546.7,252.9 548.6,252.9 550.4,253.0 552.2,253.0 554.0,253.1 555.8,253.2 557.6,253.3 559.4,253.4 561.1,253.5 562.8,253.6 564.5,253.7 566.1,253.9 567.7,254.0 569.3,254.2 570.9,254.4 572.4,254.6 573.9,254.8 575.3,255.0 576.7,255.2 578.1,255.4 579.4,255.6 580.7,255.9 581.9,256.1 583.0,256.4 584.2,256.6 585.2,256.9 586.2,257.1 587.2,257.4 588.1,257.7 588.9,258.0 589.7,258.3 590.4,258.6 591.1,258.9 591.7,259.2 592.2,259.5 592.7,259.8 593.1,260.1 593.5,260.4 593.8,260.7 594.0,261.1 594.2,261.4 594.3,261.7 594.3,262.0 594.3,262.4" fill="none" stroke="#a8a8a8" stroke-width="0.9" stroke-dasharray="1.3 4.4"/>
<polyline points="485.6,252.7 485.6,252.3 485.7,252.0 485.9,251.7 486.1,251.3 486.4,251.0 486.8,250.7 487.2,250.3 487.7,250.0 488.3,249.7 488.9,249.4 489.6,249.0 490.4,248.7 491.2,248.4 492.1,248.1 493.0,247.8 494.0,247.5 495.1,247.3 496.2,247.0 497.4,246.7 498.6,246.5 499.9,246.2 501.2,246.0 502.5,245.7 504.0,245.5 505.4,245.3 506.9,245.0 508.5,244.8 510.1,244.7 511.7,244.5 513.4,244.3 515.1,244.1 516.8,244.0 518.6,243.8 520.4,243.7 522.2,243.6 524.0,243.5 525.9,243.4 527.7,243.3 529.6,243.2 531.5,243.1 533.5,243.1 535.4,243.1 537.3,243.0 539.3,243.0 541.2,243.0 543.1,243.0 545.1,243.0 547.0,243.1 548.9,243.1 550.9,243.1 552.8,243.2 554.7,243.3 556.5,243.4 558.4,243.5 560.2,243.6 562.0,243.7 563.8,243.8 565.6,244.0 567.3,244.1 569.0,244.3 570.7,244.5 572.3,244.7 573.9,244.8 575.5,245.0 577.0,245.3 578.4,245.5 579.9,245.7 581.2,246.0 582.5,246.2 583.8,246.5 585.0,246.7 586.2,247.0 587.3,247.3 588.4,247.5 589.4,247.8 590.3,248.1 591.2,248.4 592.0,248.7 592.8,249.0 593.5,249.4 594.1,249.7 594.7,250.0 595.2,250.3 595.6,250.7 596.0,251.0 596.3,251.3 596.5,251.7 596.7,252.0 596.8,252.3 596.8,252.7" fill="none" stroke="#a8a8a8" stroke-width="0.9" stroke-dasharray="1.3 4.4"/>
<polyline points="484.7,243.0 484.7,242.7 484.8,242.3 485.0,242.0 485.2,241.6 485.6,241.3 485.9,241.0 486.4,240.6 486.9,240.3 487.5,240.0 488.1,239.6 488.8,239.3 489.6,239.0 490.4,238.7 491.3,238.4 492.3,238.1 493.3,237.8 494.4,237.5 495.5,237.2 496.7,237.0 497.9,236.7 499.2,236.4 500.6,236.2 502.0,235.9 503.4,235.7 504.9,235.5 506.4,235.3 508.0,235.1 509.6,234.9 511.3,234.7 513.0,234.5 514.7,234.3 516.4,234.2 518.2,234.0 520.0,233.9 521.9,233.8 523.7,233.7 525.6,233.6 527.5,233.5 529.5,233.4 531.4,233.3 533.3,233.3 535.3,233.2 537.3,233.2 539.2,233.2 541.2,233.2 543.2,233.2 545.1,233.2 547.1,233.2 549.1,233.3 551.0,233.3 552.9,233.4 554.9,233.5 556.8,233.6 558.7,233.7 560.5,233.8 562.4,233.9 564.2,234.0 566.0,234.2 567.7,234.3 569.5,234.5 571.1,234.7 572.8,234.9 574.4,235.1 576.0,235.3 577.5,235.5 579.0,235.7 580.4,235.9 581.8,236.2 583.2,236.4 584.5,236.7 585.7,237.0 586.9,237.2 588.0,237.5 589.1,237.8 590.1,238.1 591.1,238.4 592.0,238.7 592.8,239.0 593.6,239.3 594.3,239.6 594.9,240.0 595.5,240.3 596.0,240.6 596.5,241.0 596.8,241.3 597.2,241.6 597.4,242.0 597.6,242.3 597.7,242.7 597.7,243.0" fill="none" stroke="#a8a8a8" stroke-width="0.9" stroke-dasharray="1.3 4.4"/>
<polyline points="485.6,233.0 485.7,232.7 485.9,232.3 486.1,232.0 486.4,231.7 486.8,231.3 487.2,231.0 487.7,230.7 488.3,230.4 488.9,230.0 489.6,229.7 490.4,229.4 491.2,229.1 492.1,228.8 493.0,228.5 494.0,228.2 495.1,227.9 496.2,227.7 497.4,227.4 498.6,227.1 499.9,226.9 501.2,226.6 502.5,226.4 504.0,226.2 505.4,225.9 506.9,225.7 508.5,225.5 510.1,225.3 511.7,225.1 513.4,225.0 515.1,224.8 516.8,224.7 518.6,224.5 520.4,224.4 522.2,224.3 524.0,224.1 525.9,224.1 527.7,224.0 529.6,223.9 531.5,223.8 533.5,223.8 535.4,223.7 537.3,223.7 539.3,223.7 541.2,223.7 543.1,223.7 545.1,223.7 547.0,223.7 548.9,223.8 550.9,223.8 552.8,223.9 554.7,224.0 556.5,224.1 558.4,224.1 560.2,224.3 562.0,224.4 563.8,224.5 565.6,224.7 567.3,224.8 569.0,225.0 570.7,225.1 572.3,225.3 573.9,225.5 575.5,225.7 577.0,225.9 578.4,226.2 579.9,226.4 581.2,226.6 582.5,226.9 583.8,227.1 585.0,227.4 586.2,227.7 587.3,227.9 588.4,228.2 589.4,228.5 590.3,228.8 591.2,229.1 592.0,229.4 592.8,229.7 593.5,230.0 594.1,230.4 594.7,230.7 595.2,231.0 595.6,231.3 596.0,231.7 596.3,232.0 596.5,232.3 596.7,232.7 596.8,233.0" fill="none" stroke="#a8a8a8" stroke-width="0.9" stroke-dasharray="1.3 4.4"/>
<polyline points="488.2,223.3 488.4,223.0 488.6,222.7 488.9,222.4 489.3,222.1 489.7,221.7 490.2,221.4 490.7,221.1 491.3,220.8 492.0,220.5 492.7,220.2 493.5,219.9 494.3,219.6 495.2,219.4 496.2,219.1 497.2,218.8 498.2,218.6 499.4,218.3 500.5,218.0 501.7,217.8 503.0,217.6 504.3,217.3 505.7,217.1 507.1,216.9 508.5,216.7 510.0,216.5 511.5,216.3 513.1,216.2 514.7,216.0 516.3,215.8 517.9,215.7 519.6,215.5 521.3,215.4 523.0,215.3 524.8,215.2 526.6,215.1 528.4,215.0 530.2,215.0 532.0,214.9 533.8,214.8 535.7,214.8 537.5,214.8 539.3,214.8 541.2,214.8 543.1,214.8 544.9,214.8 546.7,214.8 548.6,214.8 550.4,214.9 552.2,215.0 554.0,215.0 555.8,215.1 557.6,215.2 559.4,215.3 561.1,215.4 562.8,215.5 564.5,215.7 566.1,215.8 567.7,216.0 569.3,216.2 570.9,216.3 572.4,216.5 573.9,216.7 575.3,216.9 576.7,217.1 578.1,217.3 579.4,217.6 580.7,217.8 581.9,218.0 583.0,218.3 584.2,218.6 585.2,218.8 586.2,219.1 587.2,219.4 588.1,219.6 588.9,219.9 589.7,220.2 590.4,220.5 591.1,220.8 591.7,221.1 592.2,221.4 592.7,221.7 593.1,222.1 593.5,222.4 593.8,222.7 594.0,223.0 594.2,223.3" fill="none" stroke="#a8a8a8" stroke-width="0.9" stroke-dasharray="1.3 4.4"/>
<polyline points="492.5,214.3 492.7,214.0 493.0,213.7 493.3,213.4 493.7,213.1 494.2,212.8 494.7,212.6 495.2,212.3 495.8,212.0 496.5,211.7 497.2,211.5 498.0,211.2 498.8,210.9 499.7,210.7 500.6,210.4 501.6,210.2 502.6,209.9 503.7,209.7 504.8,209.5 506.0,209.3 507.2,209.1 508.5,208.9 509.7,208.7 511.1,208.5 512.4,208.3 513.8,208.1 515.3,208.0 516.7,207.8 518.2,207.7 519.8,207.5 521.3,207.4 522.9,207.3 524.5,207.2 526.1,207.1 527.7,207.0 529.4,206.9 531.0,206.9 532.7,206.8 534.4,206.8 536.1,206.7 537.8,206.7 539.5,206.7 541.2,206.7 542.9,206.7 544.6,206.7 546.3,206.7 548.0,206.8 549.7,206.8 551.4,206.9 553.0,206.9 554.7,207.0 556.3,207.1 557.9,207.2 559.5,207.3 561.1,207.4 562.6,207.5 564.2,207.7 565.7,207.8 567.1,208.0 568.6,208.1 570.0,208.3 571.3,208.5 572.7,208.7 573.9,208.9 575.2,209.1 576.4,209.3 577.6,209.5 578.7,209.7 579.8,209.9 580.8,210.2 581.8,210.4 582.7,210.7 583.6,210.9 584.4,211.2 585.2,211.5 585.9,211.7 586.6,212.0 587.2,212.3 587.7,212.6 588.2,212.8 588.7,213.1 589.1,213.4 589.4,213.7 589.7,214.0 589.9,214.3" fill="none" stroke="#a8a8a8" stroke-width="0.9" stroke-dasharray="1.3 4.4"/>
<polyline points="498.6,205.9 498.9,205.7 499.2,205.4 499.6,205.2 500.0,204.9 500.5,204.7 501.1,204.4 501.7,204.2 502.3,203.9 503.0,203.7 503.7,203.5 504.5,203.3 505.3,203.0 506.2,202.8 507.1,202.6 508.0,202.4 509.0,202.2 510.1,202.0 511.1,201.8 512.2,201.6 513.4,201.5 514.6,201.3 515.8,201.2 517.0,201.0 518.3,200.9 519.6,200.7 520.9,200.6 522.2,200.5 523.6,200.4 525.0,200.3 526.4,200.2 527.8,200.1 529.3,200.0 530.7,199.9 532.2,199.9 533.7,199.8 535.2,199.8 536.7,199.8 538.2,199.7 539.7,199.7 541.2,199.7 542.7,199.7 544.2,199.7 545.7,199.8 547.2,199.8 548.7,199.8 550.2,199.9 551.7,199.9 553.1,200.0 554.6,200.1 556.0,200.2 557.4,200.3 558.8,200.4 560.2,200.5 561.5,200.6 562.8,200.7 564.1,200.9 565.4,201.0 566.6,201.2 567.8,201.3 569.0,201.5 570.2,201.6 571.3,201.8 572.3,202.0 573.4,202.2 574.4,202.4 575.3,202.6 576.2,202.8 577.1,203.0 577.9,203.3 578.7,203.5 579.4,203.7 580.1,203.9 580.7,204.2 581.3,204.4 581.9,204.7 582.4,204.9 582.8,205.2 583.2,205.4 583.5,205.7 583.8,205.9" fill="none" stroke="#a8a8a8" stroke-width="0.9" stroke-dasharray="1.3 4.4"/>
<polyline points="506.0,198.9 506.3,198.6 506.7,198.4 507.1,198.2 507.5,198.0 508.0,197.8 508.6,197.6 509.1,197.4 509.7,197.2 510.4,197.0 511.1,196.8 511.8,196.7 512.6,196.5 513.4,196.3 514.2,196.2 515.1,196.0 516.0,195.8 516.9,195.7 517.9,195.5 518.8,195.4 519.9,195.3 520.9,195.1 522.0,195.0 523.0,194.9 524.1,194.8 525.3,194.7 526.4,194.6 527.6,194.5 528.8,194.4 530.0,194.4 531.2,194.3 532.4,194.3 533.6,194.2 534.9,194.2 536.1,194.1 537.4,194.1 538.7,194.1 539.9,194.1 541.2,194.1 542.5,194.1 543.7,194.1 545.0,194.1 546.3,194.1 547.5,194.2 548.8,194.2 550.0,194.3 551.2,194.3 552.4,194.4 553.6,194.4 554.8,194.5 556.0,194.6 557.1,194.7 558.3,194.8 559.4,194.9 560.4,195.0 561.5,195.1 562.5,195.3 563.6,195.4 564.5,195.5 565.5,195.7 566.4,195.8 567.3,196.0 568.2,196.2 569.0,196.3 569.8,196.5 570.6,196.7 571.3,196.8 572.0,197.0 572.7,197.2 573.3,197.4 573.8,197.6 574.4,197.8 574.9,198.0 575.3,198.2 575.7,198.4 576.1,198.6 576.4,198.9" fill="none" stroke="#a8a8a8" stroke-width="0.9" stroke-dasharray="1.3 4.4"/>
<polyline points="514.3,193.3 514.7,193.1 515.0,193.0 515.4,192.8 515.8,192.7 516.3,192.5 516.7,192.4 517.2,192.2 517.8,192.1 518.3,191.9 518.9,191.8 519.6,191.7 520.2,191.5 520.9,191.4 521.6,191.3 522.3,191.2 523.0,191.1 523.8,190.9 524.6,190.8 525.4,190.7 526.2,190.7 527.1,190.6 527.9,190.5 528.8,190.4 529.7,190.3 530.6,190.3 531.5,190.2 532.5,190.1 533.4,190.1 534.4,190.1 535.3,190.0 536.3,190.0 537.3,190.0 538.2,189.9 539.2,189.9 540.2,189.9 541.2,189.9 542.2,189.9 543.2,189.9 544.2,189.9 545.1,190.0 546.1,190.0 547.1,190.0 548.0,190.1 549.0,190.1 549.9,190.1 550.9,190.2 551.8,190.3 552.7,190.3 553.6,190.4 554.5,190.5 555.3,190.6 556.2,190.7 557.0,190.7 557.8,190.8 558.6,190.9 559.4,191.1 560.1,191.2 560.8,191.3 561.5,191.4 562.2,191.5 562.8,191.7 563.5,191.8 564.1,191.9 564.6,192.1 565.2,192.2 565.7,192.4 566.1,192.5 566.6,192.7 567.0,192.8 567.4,193.0 567.7,193.1 568.1,193.3" fill="none" stroke="#a8a8a8" stroke-width="0.9" stroke-dasharray="1.3 4.4"/>
<polyline points="524.5,189.0 524.8,188.9 525.2,188.8 525.6,188.7 526.0,188.6 526.4,188.6 526.8,188.5 527.3,188.4 527.8,188.3 528.3,188.2 528.8,188.1 529.3,188.1 529.8,188.0 530.4,187.9 531.0,187.9 531.5,187.8 532.1,187.8 532.7,187.7 533.3,187.6 534.0,187.6 534.6,187.6 535.2,187.5 535.9,187.5 536.5,187.5 537.2,187.4 537.8,187.4 538.5,187.4 539.2,187.4 539.9,187.4 540.5,187.4 541.2,187.4 541.9,187.4 542.5,187.4 543.2,187.4 543.9,187.4 544.6,187.4 545.2,187.4 545.9,187.5 546.5,187.5 547.2,187.5 547.8,187.6 548.4,187.6 549.1,187.6 549.7,187.7 550.3,187.8 550.9,187.8 551.4,187.9 552.0,187.9 552.6,188.0 553.1,188.1 553.6,188.1 554.1,188.2 554.6,188.3 555.1,188.4 555.6,188.5 556.0,188.6 556.4,188.6 556.8,188.7 557.2,188.8 557.6,188.9 557.9,189.0" fill="none" stroke="#a8a8a8" stroke-width="0.9" stroke-dasharray="1.3 4.4"/>
<polyline points="541.2,298.6 541.2,299.0 541.2,299.2 541.2,299.4 541.2,299.5" fill="none" stroke="#b0b0b0" stroke-width="0.9" stroke-dasharray="1.3 4.4"/>
<polyline points="541.2,298.6 540.2,298.9 539.2,299.1 538.2,299.2 537.3,299.3 536.3,299.3" fill="none" stroke="#b0b0b0" stroke-width="0.9" stroke-dasharray="1.3 4.4"/>
<polyline points="541.2,298.6 539.5,298.8 537.8,298.8 536.1,298.8 534.4,298.8 532.7,298.6 531.0,298.4 529.4,298.2 527.7,297.8 526.1,297.4" fill="none" stroke="#b0b0b0" stroke-width="0.9" stroke-dasharray="1.3 4.4"/>
<polyline points="541.2,298.6 539.2,298.6 537.3,298.5 535.3,298.3 533.3,298.1 531.4,297.8 529.5,297.4 527.5,297.0 525.6,296.5 523.7,295.9 521.9,295.3 520.0,294.6 518.2,293.8 516.4,293.0 514.7,292.1 513.0,291.2 511.3,290.2 509.6,289.1 508.0,288.0 506.4,286.8 504.9,285.6 503.4,284.3 502.0,283.0 500.6,281.7 499.2,280.2 497.9,278.8 496.7,277.3 495.5,275.7 494.4,274.1 493.3,272.5 492.3,270.8 491.3,269.1 490.4,267.4 489.6,265.6 488.8,263.8 488.1,262.0 487.5,260.2 486.9,258.3 486.4,256.5 485.9,254.6 485.6,252.7 485.2,250.7 485.0,248.8 484.8,246.9 484.7,244.9 484.7,243.0" fill="none" stroke="#b0b0b0" stroke-width="0.9" stroke-dasharray="1.3 4.4"/>
<polyline points="541.2,298.6 539.5,298.4 537.8,298.2 536.1,297.8 534.4,297.4 532.7,296.9 531.0,296.4 529.4,295.8 527.7,295.1 526.1,294.4 524.5,293.6 522.9,292.8 521.3,291.8 519.8,290.9 518.2,289.8 516.7,288.7 515.3,287.6 513.8,286.4 512.4,285.1 511.1,283.8 509.7,282.5 508.5,281.1 507.2,279.6 506.0,278.1 504.8,276.6 503.7,275.0 502.6,273.4 501.6,271.7 500.6,270.0 499.7,268.3 498.8,266.6 498.0,264.8 497.2,263.0 496.5,261.2 495.8,259.3 495.2,257.4 494.7,255.5 494.2,253.6 493.7,251.7 493.3,249.8 493.0,247.8 492.7,245.9 492.5,243.9 492.4,242.0 492.3,240.0 492.3,238.1 492.3,236.2 492.4,234.2 492.5,232.3 492.7,230.4 493.0,228.5 493.3,226.6 493.7,224.8 494.2,222.9 494.7,221.1 495.2,219.4 495.8,217.6 496.5,215.9 497.2,214.2 498.0,212.5 498.8,210.9 499.7,209.4 500.6,207.8 501.6,206.3 502.6,204.9 503.7,203.5 504.8,202.1 506.0,200.8 507.2,199.6 508.5,198.4 509.7,197.2 511.1,196.1 512.4,195.1 513.8,194.1 515.3,193.2 516.7,192.4 518.2,191.6 519.8,190.8 521.3,190.2 522.9,189.6 524.5,189.0" fill="none" stroke="#b0b0b0" stroke-width="0.9" stroke-dasharray="1.3 4.4"/>
<polyline points="541.2,298.6 540.2,298.3 539.2,297.9 538.2,297.4 537.3,296.9 536.3,296.3 535.3,295.7 534.4,294.9 533.4,294.1 532.5,293.3 531.5,292.4 530.6,291.4 529.7,290.4 528.8,289.3 527.9,288.1 527.1,286.9 526.2,285.7 525.4,284.4 524.6,283.0 523.8,281.6 523.0,280.2 522.3,278.7 521.6,277.1 520.9,275.5 520.2,273.9 519.6,272.3 518.9,270.6 518.3,268.8 517.8,267.1 517.2,265.3 516.7,263.5 516.3,261.6 515.8,259.8 515.4,257.9 515.0,256.0 514.7,254.0 514.3,252.1 514.0,250.2 513.8,248.2 513.6,246.3 513.4,244.3 513.2,242.3 513.1,240.4 513.0,238.4 513.0,236.5 513.0,234.5 513.0,232.6 513.0,230.6 513.1,228.7 513.2,226.8 513.4,225.0 513.6,223.1 513.8,221.3 514.0,219.5 514.3,217.7 514.7,216.0 515.0,214.3 515.4,212.6 515.8,211.0 516.3,209.4 516.7,207.8 517.2,206.3 517.8,204.8 518.3,203.4 518.9,202.0 519.6,200.7 520.2,199.5 520.9,198.2 521.6,197.1 522.3,196.0 523.0,194.9 523.8,193.9 524.6,193.0 525.4,192.1 526.2,191.3 527.1,190.6 527.9,189.9 528.8,189.3 529.7,188.7 530.6,188.2 531.5,187.8 532.5,187.5 533.4,187.2 534.4,187.0 535.3,186.8" fill="none" stroke="#b0b0b0" stroke-width="0.9" stroke-dasharray="1.3 4.4"/>
<polyline points="541.2,298.6 541.2,298.3 541.2,297.8 541.2,297.3 541.2,296.7 541.2,296.1 541.2,295.4 541.2,294.6 541.2,293.8 541.2,292.9 541.2,291.9 541.2,290.9 541.2,289.8 541.2,288.7 541.2,287.5 541.2,286.3 541.2,285.0 541.2,283.6 541.2,282.2 541.2,280.8 541.2,279.3 541.2,277.8 541.2,276.2 541.2,274.6 541.2,272.9 541.2,271.2 541.2,269.5 541.2,267.8 541.2,266.0 541.2,264.2 541.2,262.3 541.2,260.5 541.2,258.6 541.2,256.7 541.2,254.7 541.2,252.8 541.2,250.9 541.2,248.9 541.2,246.9 541.2,245.0 541.2,243.0 541.2,241.0 541.2,239.1 541.2,237.1 541.2,235.1 541.2,233.2 541.2,231.3 541.2,229.3 541.2,227.4 541.2,225.5 541.2,223.7 541.2,221.8 541.2,220.0 541.2,218.2 541.2,216.5 541.2,214.8 541.2,213.1 541.2,211.4 541.2,209.8 541.2,208.2 541.2,206.7 541.2,205.2 541.2,203.8 541.2,202.4 541.2,201.0 541.2,199.7 541.2,198.5 541.2,197.3 541.2,196.2 541.2,195.1 541.2,194.1 541.2,193.1 541.2,192.2 541.2,191.4 541.2,190.6 541.2,189.9 541.2,189.3 541.2,188.7 541.2,188.2 541.2,187.7 541.2,187.4 541.2,187.0 541.2,186.8 541.2,186.6 541.2,186.5 541.2,186.5" fill="none" stroke="#b0b0b0" stroke-width="0.9" stroke-dasharray="1.3 4.4"/>
<polyline points="541.2,298.6 542.2,298.3 543.2,297.9 544.2,297.4 545.1,296.9 546.1,296.3 547.1,295.7 548.0,294.9 549.0,294.1 549.9,293.3 550.9,292.4 551.8,291.4 552.7,290.4 553.6,289.3 554.5,288.1 555.3,286.9 556.2,285.7 557.0,284.4 557.8,283.0 558.6,281.6 559.4,280.2 560.1,278.7 560.8,277.1 561.5,275.5 562.2,273.9 562.8,272.3 563.5,270.6 564.1,268.8 564.6,267.1 565.2,265.3 565.7,263.5 566.1,261.6 566.6,259.8 567.0,257.9 567.4,256.0 567.7,254.0 568.1,252.1 568.4,250.2 568.6,248.2 568.8,246.3 569.0,244.3 569.2,242.3 569.3,240.4 569.4,238.4 569.4,236.5 569.5,234.5 569.4,232.6 569.4,230.6 569.3,228.7 569.2,226.8 569.0,225.0 568.8,223.1 568.6,221.3 568.4,219.5 568.1,217.7 567.7,216.0 567.4,214.3 567.0,212.6 566.6,211.0 566.1,209.4 565.7,207.8 565.2,206.3 564.6,204.8 564.1,203.4 563.5,202.0 562.8,200.7 562.2,199.5 561.5,198.2 560.8,197.1 560.1,196.0 559.4,194.9 558.6,193.9 557.8,193.0 557.0,192.1 556.2,191.3 555.3,190.6 554.5,189.9 553.6,189.3 552.7,188.7 551.8,188.2 550.9,187.8 549.9,187.5 549.0,187.2 548.0,187.0 547.1,186.8" fill="none" stroke="#b0b0b0" stroke-width="0.9" stroke-dasharray="1.3 4.4"/>
<polyline points="541.2,298.6 542.9,298.4 544.6,298.2 546.3,297.8 548.0,297.4 549.7,296.9 551.4,296.4 553.0,295.8 554.7,295.1 556.3,294.4 557.9,293.6 559.5,292.8 561.1,291.8 562.6,290.9 564.2,289.8 565.7,288.7 567.1,287.6 568.6,286.4 570.0,285.1 571.3,283.8 572.7,282.5 573.9,281.1 575.2,279.6 576.4,278.1 577.6,276.6 578.7,275.0 579.8,273.4 580.8,271.7 581.8,270.0 582.7,268.3 583.6,266.6 584.4,264.8 585.2,263.0 585.9,261.2 586.6,259.3 587.2,257.4 587.7,255.5 588.2,253.6 588.7,251.7 589.1,249.8 589.4,247.8 589.7,245.9 589.9,243.9 590.0,242.0 590.1,240.0 590.1,238.1 590.1,236.2 590.0,234.2 589.9,232.3 589.7,230.4 589.4,228.5 589.1,226.6 588.7,224.8 588.2,222.9 587.7,221.1 587.2,219.4 586.6,217.6 585.9,215.9 585.2,214.2 584.4,212.5 583.6,210.9 582.7,209.4 581.8,207.8 580.8,206.3 579.8,204.9 578.7,203.5 577.6,202.1 576.4,200.8 575.2,199.6 573.9,198.4 572.7,197.2 571.3,196.1 570.0,195.1 568.6,194.1 567.1,193.2 565.7,192.4 564.2,191.6 562.6,190.8 561.1,190.2 559.5,189.6 557.9,189.0" fill="none" stroke="#b0b0b0" stroke-width="0.9" stroke-dasharray="1.3 4.4"/>
<polyline points="541.2,298.6 543.2,298.6 545.1,298.5 547.1,298.3 549.1,298.1 551.0,297.8 552.9,297.4 554.9,297.0 556.8,296.5 558.7,295.9 560.5,295.3 562.4,294.6 564.2,293.8 566.0,293.0 567.7,292.1 569.5,291.2 571.1,290.2 572.8,289.1 574.4,288.0 576.0,286.8 577.5,285.6 579.0,284.3 580.4,283.0 581.8,281.7 583.2,280.2 584.5,278.8 585.7,277.3 586.9,275.7 588.0,274.1 589.1,272.5 590.1,270.8 591.1,269.1 592.0,267.4 592.8,265.6 593.6,263.8 594.3,262.0 594.9,260.2 595.5,258.3 596.0,256.5 596.5,254.6 596.8,252.7 597.2,250.7 597.4,248.8 597.6,246.9 597.7,244.9 597.7,243.0" fill="none" stroke="#b0b0b0" stroke-width="0.9" stroke-dasharray="1.3 4.4"/>
<polyline points="541.2,298.6 542.9,298.8 544.6,298.8 546.3,298.8 548.0,298.8 549.7,298.6 551.4,298.4 553.0,298.2 554.7,297.8 556.3,297.4" fill="none" stroke="#b0b0b0" stroke-width="0.9" stroke-dasharray="1.3 4.4"/>
<polyline points="541.2,298.6 542.2,298.9 543.2,299.1 544.2,299.2 545.1,299.3 546.1,299.3" fill="none" stroke="#b0b0b0" stroke-width="0.9" stroke-dasharray="1.3 4.4"/>
<polyline points="487.9,224.7 489.4,224.3 491.4,223.8 494.7,223.3 500.0,222.9 508.2,222.7 518.7,222.6 530.1,222.5 541.0,222.5 551.9,222.5 563.2,222.6 573.7,222.7 582.0,222.9 587.5,223.3 591.1,223.7 593.3,224.2 595.0,224.5" fill="none" stroke="#8f8f8f" stroke-width="1.1" stroke-dasharray="8.5 6.5"/>
<polyline points="488.8,231.0 490.1,230.7 491.8,230.2 494.8,229.8 500.0,229.4 508.2,229.2 518.7,229.1 530.1,229.0 541.0,229.0 552.1,229.1 563.8,229.2 574.2,229.3 581.4,229.4" fill="none" stroke="#8f8f8f" stroke-width="1.1" stroke-dasharray="8.5 6.5"/>
<polygon points="541.2,186.5 539.9,186.5 538.5,186.6 537.2,186.6 535.9,186.8 534.6,186.9 533.3,187.1 532.0,187.2 530.8,187.5 529.6,187.7 528.4,188.0 527.3,188.2 526.2,188.5 525.2,188.8 524.2,189.1 523.2,189.4 522.3,189.8 521.4,190.1 520.6,190.4 519.8,190.7 519.0,191.0 518.3,191.3 517.6,191.6 517.0,191.9 516.4,192.2 515.9,192.5 515.4,192.8 514.9,193.0 514.4,193.2 514.0,193.5 513.7,193.7 513.3,193.8 513.0,194.0 512.8,194.2 512.5,194.3 512.3,194.4 512.1,194.5 512.0,194.6 511.9,194.7 511.8,194.8 511.7,194.8 511.7,194.8 511.7,194.8 511.7,194.8 511.7,194.8 511.8,194.8 511.9,194.7 512.0,194.6 512.1,194.6 512.3,194.5 512.5,194.3 512.7,194.2 513.0,194.1 513.2,193.9 513.5,193.7 513.9,193.6 514.2,193.4 514.6,193.3 515.0,193.1 515.5,192.9 516.0,192.8 516.5,192.6 517.1,192.5 517.7,192.3 518.3,192.2 518.9,192.1 519.6,191.9 520.3,191.8 521.0,191.7 521.7,191.6 522.5,191.4 523.3,191.3 524.1,191.2 524.9,191.1 525.8,191.0 526.7,190.9 527.5,190.8 528.4,190.8 529.4,190.7 530.3,190.6 531.2,190.6 532.2,190.5 533.2,190.4 534.2,190.4 535.1,190.4 536.1,190.3 537.2,190.3 538.2,190.3 539.2,190.3 540.2,190.3 541.2,190.3 542.2,190.3 543.2,190.3 544.2,190.3 545.2,190.3 546.3,190.3 547.3,190.4 548.2,190.4 549.2,190.4 550.2,190.5 551.2,190.6 552.1,190.6 553.0,190.7 554.0,190.8 554.9,190.8 555.7,190.9 556.6,191.0 557.5,191.1 558.3,191.2 559.1,191.3 559.9,191.4 560.7,191.6 561.4,191.7 562.1,191.8 562.8,191.9 563.5,192.1 564.1,192.2 564.7,192.3 565.3,192.5 565.9,192.6 566.4,192.8 566.9,192.9 567.4,193.1 567.8,193.3 568.2,193.4 568.5,193.6 568.9,193.7 569.2,193.9 569.4,194.1 569.7,194.2 569.9,194.3 570.1,194.5 570.3,194.6 570.4,194.6 570.5,194.7 570.6,194.8 570.7,194.8 570.7,194.8 570.7,194.8 570.7,194.8 570.7,194.8 570.6,194.8 570.5,194.7 570.4,194.6 570.3,194.5 570.1,194.4 569.9,194.3 569.6,194.2 569.4,194.0 569.1,193.8 568.7,193.7 568.4,193.5 568.0,193.2 567.5,193.0 567.0,192.8 566.5,192.5 566.0,192.2 565.4,191.9 564.8,191.6 564.1,191.3 563.4,191.0 562.6,190.7 561.8,190.4 561.0,190.1 560.1,189.8 559.2,189.4 558.2,189.1 557.2,188.8 556.2,188.5 555.1,188.2 554.0,188.0 552.8,187.7 551.6,187.5 550.4,187.2 549.1,187.1 547.8,186.9 546.5,186.8 545.2,186.6 543.9,186.6 542.5,186.5 541.2,186.5 541.2,186.5 542.3,186.5 543.3,186.5 544.4,186.6 545.4,186.7 546.5,186.7 547.5,186.9 548.5,187.0 549.5,187.1 550.5,187.3 551.4,187.4 552.4,187.6 553.3,187.8 554.1,188.0 555.0,188.2 555.8,188.4 556.6,188.6 557.3,188.9 558.1,189.1 558.8,189.3 559.4,189.5 560.1,189.7 560.7,190.0 561.2,190.2 561.8,190.4 562.3,190.6 562.7,190.8 563.2,190.9 563.6,191.1 564.0,191.3 564.3,191.4 564.6,191.6 564.9,191.7 565.2,191.8 565.4,192.0 565.6,192.1 565.8,192.1 566.0,192.2 566.1,192.3 566.2,192.3 566.3,192.4 566.3,192.4 566.3,192.4 566.3,192.4 566.3,192.4 566.3,192.4 566.2,192.3 566.1,192.3 566.0,192.2 565.8,192.2 565.7,192.1 565.5,192.0 565.3,191.9 565.0,191.8 564.8,191.6 564.5,191.5 564.2,191.4 563.8,191.2 563.5,191.1 563.1,191.0 562.6,190.8 562.2,190.7 561.7,190.6 561.2,190.5 560.7,190.3 560.2,190.2 559.6,190.1 559.0,190.0 558.4,189.9 557.8,189.8 557.1,189.7 556.4,189.6 555.8,189.5 555.1,189.4 554.3,189.3 553.6,189.3 552.8,189.2 552.1,189.1 551.3,189.1 550.5,189.0 549.7,188.9 548.9,188.9 548.0,188.9 547.2,188.8 546.3,188.8 545.5,188.8 544.6,188.7 543.8,188.7 542.9,188.7 542.1,188.7 541.2,188.7 540.3,188.7 539.5,188.7 538.6,188.7 537.8,188.7 536.9,188.8 536.1,188.8 535.2,188.8 534.4,188.9 533.5,188.9 532.7,188.9 531.9,189.0 531.1,189.1 530.3,189.1 529.6,189.2 528.8,189.3 528.1,189.3 527.3,189.4 526.6,189.5 526.0,189.6 525.3,189.7 524.6,189.8 524.0,189.9 523.4,190.0 522.8,190.1 522.2,190.2 521.7,190.3 521.2,190.5 520.7,190.6 520.2,190.7 519.8,190.8 519.3,191.0 518.9,191.1 518.6,191.2 518.2,191.4 517.9,191.5 517.6,191.6 517.4,191.8 517.1,191.9 516.9,192.0 516.7,192.1 516.6,192.2 516.4,192.2 516.3,192.3 516.2,192.3 516.1,192.4 516.1,192.4 516.1,192.4 516.1,192.4 516.1,192.4 516.1,192.4 516.2,192.3 516.3,192.3 516.4,192.2 516.6,192.1 516.8,192.1 517.0,192.0 517.2,191.8 517.5,191.7 517.8,191.6 518.1,191.4 518.4,191.3 518.8,191.1 519.2,190.9 519.7,190.8 520.1,190.6 520.6,190.4 521.2,190.2 521.7,190.0 522.3,189.7 523.0,189.5 523.6,189.3 524.3,189.1 525.1,188.9 525.8,188.6 526.6,188.4 527.4,188.2 528.3,188.0 529.1,187.8 530.0,187.6 531.0,187.4 531.9,187.3 532.9,187.1 533.9,187.0 534.9,186.9 535.9,186.7 537.0,186.7 538.0,186.6 539.1,186.5 540.1,186.5 541.2,186.5" fill="#bdbdbd" stroke="#888" stroke-width="0.7"/>
<polygon points="541.2,299.5 540.3,299.5 539.4,299.5 538.5,299.4 537.6,299.4 536.7,299.3 535.9,299.2 535.0,299.2 534.1,299.1 533.3,298.9 532.5,298.8 531.6,298.7 530.8,298.5 530.0,298.4 529.3,298.2 528.5,298.1 527.8,297.9 527.1,297.7 526.4,297.5 525.7,297.3 525.0,297.1 524.4,296.9 523.8,296.7 523.2,296.6 522.6,296.4 522.1,296.2 521.6,296.0 521.1,295.8 520.6,295.6 520.1,295.4 519.7,295.3 519.3,295.1 518.9,294.9 518.6,294.8 518.2,294.6 517.9,294.5 517.6,294.3 517.4,294.2 517.2,294.1 517.0,293.9 516.8,293.8 516.7,293.6 516.6,293.5 516.5,293.3 516.4,293.2 516.4,293.0 516.4,292.9 516.5,292.7 516.6,292.6 516.7,292.4 516.8,292.3 517.0,292.1 517.2,292.0 517.4,291.8 517.6,291.7 517.9,291.5 518.2,291.4 518.6,291.3 518.9,291.1 519.3,291.0 519.8,290.9 520.2,290.7 520.7,290.6 521.2,290.5 521.7,290.4 522.2,290.2 522.8,290.1 523.4,290.0 524.0,289.9 524.6,289.8 525.3,289.7 526.0,289.6 526.6,289.5 527.3,289.4 528.1,289.4 528.8,289.3 529.6,289.2 530.3,289.1 531.1,289.1 531.9,289.0 532.7,289.0 533.5,288.9 534.4,288.9 535.2,288.8 536.1,288.8 536.9,288.8 537.8,288.8 538.6,288.7 539.5,288.7 540.3,288.7 541.2,288.7 542.1,288.7 542.9,288.7 543.8,288.7 544.6,288.8 545.5,288.8 546.3,288.8 547.2,288.8 548.0,288.9 548.9,288.9 549.7,289.0 550.5,289.0 551.3,289.1 552.1,289.1 552.8,289.2 553.6,289.3 554.3,289.4 555.1,289.4 555.8,289.5 556.4,289.6 557.1,289.7 557.8,289.8 558.4,289.9 559.0,290.0 559.6,290.1 560.2,290.2 560.7,290.4 561.2,290.5 561.7,290.6 562.2,290.7 562.6,290.9 563.1,291.0 563.5,291.1 563.8,291.3 564.2,291.4 564.5,291.5 564.8,291.7 565.0,291.8 565.2,292.0 565.4,292.1 565.6,292.3 565.7,292.4 565.8,292.6 565.9,292.7 566.0,292.9 566.0,293.0 566.0,293.2 565.9,293.3 565.8,293.5 565.7,293.6 565.6,293.8 565.4,293.9 565.2,294.1 565.0,294.2 564.8,294.3 564.5,294.5 564.2,294.6 563.8,294.8 563.5,294.9 563.1,295.1 562.7,295.3 562.3,295.4 561.8,295.6 561.3,295.8 560.8,296.0 560.3,296.2 559.8,296.4 559.2,296.6 558.6,296.7 558.0,296.9 557.4,297.1 556.7,297.3 556.0,297.5 555.3,297.7 554.6,297.9 553.9,298.1 553.1,298.2 552.4,298.4 551.6,298.5 550.8,298.7 549.9,298.8 549.1,298.9 548.3,299.1 547.4,299.2 546.5,299.2 545.7,299.3 544.8,299.4 543.9,299.4 543.0,299.5 542.1,299.5 541.2,299.5 541.2,299.5 542.3,299.5 543.4,299.5 544.5,299.4 545.5,299.3 546.6,299.2 547.7,299.1 548.7,299.0 549.7,298.9 550.7,298.7 551.7,298.5 552.7,298.3 553.7,298.1 554.6,297.9 555.5,297.7 556.4,297.4 557.3,297.2 558.1,296.9 558.9,296.6 559.7,296.4 560.5,296.1 561.2,295.8 561.9,295.6 562.6,295.3 563.2,295.0 563.9,294.8 564.4,294.5 565.0,294.2 565.5,294.0 566.1,293.7 566.5,293.5 567.0,293.3 567.4,293.0 567.8,292.8 568.2,292.6 568.6,292.4 568.9,292.3 569.2,292.1 569.4,291.9 569.7,291.7 569.9,291.6 570.0,291.4 570.1,291.2 570.2,291.0 570.3,290.9 570.3,290.7 570.3,290.5 570.2,290.3 570.1,290.2 570.0,290.0 569.9,289.8 569.7,289.6 569.4,289.5 569.2,289.3 568.9,289.1 568.5,289.0 568.2,288.8 567.8,288.6 567.4,288.5 566.9,288.3 566.4,288.2 565.9,288.0 565.3,287.9 564.7,287.7 564.1,287.6 563.5,287.4 562.8,287.3 562.1,287.2 561.4,287.1 560.7,286.9 559.9,286.8 559.1,286.7 558.3,286.6 557.5,286.5 556.6,286.4 555.7,286.3 554.9,286.2 554.0,286.2 553.0,286.1 552.1,286.0 551.2,285.9 550.2,285.9 549.2,285.8 548.2,285.8 547.3,285.8 546.3,285.7 545.2,285.7 544.2,285.7 543.2,285.7 542.2,285.6 541.2,285.6 540.2,285.6 539.2,285.7 538.2,285.7 537.2,285.7 536.1,285.7 535.1,285.8 534.2,285.8 533.2,285.8 532.2,285.9 531.2,285.9 530.3,286.0 529.4,286.1 528.4,286.2 527.5,286.2 526.7,286.3 525.8,286.4 524.9,286.5 524.1,286.6 523.3,286.7 522.5,286.8 521.7,286.9 521.0,287.1 520.3,287.2 519.6,287.3 518.9,287.4 518.3,287.6 517.7,287.7 517.1,287.9 516.5,288.0 516.0,288.2 515.5,288.3 515.0,288.5 514.6,288.6 514.2,288.8 513.9,289.0 513.5,289.1 513.2,289.3 513.0,289.5 512.7,289.6 512.5,289.8 512.4,290.0 512.3,290.2 512.2,290.3 512.1,290.5 512.1,290.7 512.1,290.9 512.2,291.0 512.3,291.2 512.4,291.4 512.5,291.6 512.7,291.7 513.0,291.9 513.2,292.1 513.5,292.3 513.8,292.4 514.2,292.6 514.6,292.8 515.0,293.0 515.4,293.3 515.9,293.5 516.3,293.7 516.9,294.0 517.4,294.2 518.0,294.5 518.5,294.8 519.2,295.0 519.8,295.3 520.5,295.6 521.2,295.8 521.9,296.1 522.7,296.4 523.5,296.6 524.3,296.9 525.1,297.2 526.0,297.4 526.9,297.7 527.8,297.9 528.7,298.1 529.7,298.3 530.7,298.5 531.7,298.7 532.7,298.9 533.7,299.0 534.7,299.1 535.8,299.2 536.9,299.3 537.9,299.4 539.0,299.5 540.1,299.5 541.2,299.5" fill="#bdbdbd" stroke="#888" stroke-width="0.7"/>
<polyline points="541.0,299.5 540.9,299.5 540.7,299.5 540.5,299.5 540.3,299.5 540.2,299.5 540.0,299.5 539.8,299.5 539.7,299.5 539.5,299.5 539.3,299.5 539.2,299.5 539.0,299.5 538.8,299.4 538.7,299.4 538.5,299.4 538.3,299.4 538.2,299.4 538.0,299.4 537.8,299.4 537.7,299.4 537.5,299.4 537.4,299.4 537.2,299.4 537.1,299.3 536.9,299.3 536.7,299.3 536.6,299.3 536.4,299.3 536.3,299.3 536.1,299.3 536.0,299.2 535.9,299.2 535.7,299.2 535.6,299.2 535.4,299.2 535.3,299.2 535.2,299.1 535.0,299.1 534.9,299.1 534.8,299.1 534.6,299.1 534.5,299.0 534.4,299.0 534.3,299.0 534.1,299.0 534.0,299.0 533.9,298.9 533.8,298.9 533.7,298.9 533.6,298.9 533.5,298.8 533.4,298.8 533.3,298.8 533.2,298.8 533.1,298.7 533.0,298.7 532.9,298.7 532.8,298.7 532.7,298.6 532.6,298.6 532.5,298.6 532.5,298.6 532.4,298.5 532.3,298.5 532.2,298.5 532.2,298.5 532.1,298.4 532.0,298.4 532.0,298.4 531.9,298.4 531.9,298.3 531.8,298.3 531.8,298.3 531.7,298.2 531.7,298.2 531.6,298.2 531.6,298.2 531.6,298.1 531.5,298.1 531.5,298.1 531.5,298.0 531.5,298.0 531.4,298.0 531.4,297.9 531.4,297.9 531.4,297.9 531.4,297.9 531.4,297.8 531.4,297.8 531.4,297.8 531.4,297.7 531.4,297.7 531.4,297.7 531.4,297.6 531.4,297.6 531.5,297.6 531.5,297.6 531.5,297.5 531.5,297.5 531.6,297.5 531.6,297.4 531.6,297.4 531.7,297.4 531.7,297.4 531.8,297.3 531.8,297.3 531.9,297.3 531.9,297.2 532.0,297.2 532.0,297.2 532.1,297.2 532.2,297.1 532.2,297.1 532.3,297.1 532.4,297.0 532.5,297.0 532.5,297.0 532.6,297.0 532.7,296.9 532.8,296.9 532.9,296.9 533.0,296.9 533.1,296.8 533.2,296.8 533.3,296.8 533.4,296.8 533.5,296.7 533.6,296.7 533.7,296.7 533.8,296.7 533.9,296.7 534.0,296.6 534.1,296.6 534.3,296.6 534.4,296.6 534.5,296.6 534.6,296.5 534.8,296.5 534.9,296.5 535.0,296.5 535.2,296.5 535.3,296.4 535.4,296.4 535.6,296.4 535.7,296.4 535.9,296.4 536.0,296.4 536.1,296.3 536.3,296.3 536.4,296.3 536.6,296.3 536.7,296.3 536.9,296.3 537.1,296.3 537.2,296.2 537.4,296.2 537.5,296.2 537.7,296.2 537.8,296.2 538.0,296.2 538.2,296.2 538.3,296.2 538.5,296.2 538.7,296.2 538.8,296.1 539.0,296.1 539.2,296.1 539.3,296.1 539.5,296.1 539.7,296.1 539.8,296.1 540.0,296.1 540.2,296.1 540.3,296.1 540.5,296.1 540.7,296.1 540.9,296.1 541.0,296.1 541.2,296.1 541.4,296.1 541.5,296.1 541.7,296.1 541.9,296.1 542.1,296.1 542.2,296.1 542.4,296.1 542.6,296.1 542.7,296.1 542.9,296.1 543.1,296.1 543.2,296.1 543.4,296.1 543.6,296.1 543.7,296.2 543.9,296.2 544.1,296.2 544.2,296.2 544.4,296.2 544.6,296.2 544.7,296.2 544.9,296.2 545.0,296.2 545.2,296.2 545.3,296.3 545.5,296.3 545.7,296.3 545.8,296.3 546.0,296.3 546.1,296.3 546.3,296.3 546.4,296.4 546.5,296.4 546.7,296.4 546.8,296.4 547.0,296.4 547.1,296.4 547.2,296.5 547.4,296.5 547.5,296.5 547.6,296.5 547.8,296.5 547.9,296.6 548.0,296.6 548.1,296.6 548.3,296.6 548.4,296.6 548.5,296.7 548.6,296.7 548.7,296.7 548.8,296.7 548.9,296.7 549.0,296.8 549.1,296.8 549.2,296.8 549.3,296.8 549.4,296.9 549.5,296.9 549.6,296.9 549.7,296.9 549.8,297.0 549.9,297.0 549.9,297.0 550.0,297.0 550.1,297.1 550.2,297.1 550.2,297.1 550.3,297.2 550.4,297.2 550.4,297.2 550.5,297.2 550.5,297.3 550.6,297.3 550.6,297.3 550.7,297.4 550.7,297.4 550.8,297.4 550.8,297.4 550.8,297.5 550.9,297.5 550.9,297.5 550.9,297.6 550.9,297.6 551.0,297.6 551.0,297.6 551.0,297.7 551.0,297.7 551.0,297.7 551.0,297.8 551.0,297.8 551.0,297.8 551.0,297.9 551.0,297.9 551.0,297.9 551.0,297.9 551.0,298.0 550.9,298.0 550.9,298.0 550.9,298.1 550.9,298.1 550.8,298.1 550.8,298.2 550.8,298.2 550.7,298.2 550.7,298.2 550.6,298.3 550.6,298.3 550.5,298.3 550.5,298.4 550.4,298.4 550.4,298.4 550.3,298.4 550.2,298.5 550.2,298.5 550.1,298.5 550.0,298.5 549.9,298.6 549.9,298.6 549.8,298.6 549.7,298.6 549.6,298.7 549.5,298.7 549.4,298.7 549.3,298.7 549.2,298.8 549.1,298.8 549.0,298.8 548.9,298.8 548.8,298.9 548.7,298.9 548.6,298.9 548.5,298.9 548.4,299.0 548.3,299.0 548.1,299.0 548.0,299.0 547.9,299.0 547.8,299.1 547.6,299.1 547.5,299.1 547.4,299.1 547.2,299.1 547.1,299.2 547.0,299.2 546.8,299.2 546.7,299.2 546.5,299.2 546.4,299.2 546.3,299.3 546.1,299.3 546.0,299.3 545.8,299.3 545.7,299.3 545.5,299.3 545.3,299.3 545.2,299.4 545.0,299.4 544.9,299.4 544.7,299.4 544.6,299.4 544.4,299.4 544.2,299.4 544.1,299.4 543.9,299.4 543.7,299.4 543.6,299.4 543.4,299.5 543.2,299.5 543.1,299.5 542.9,299.5 542.7,299.5 542.6,299.5 542.4,299.5 542.2,299.5 542.1,299.5 541.9,299.5 541.7,299.5 541.5,299.5 541.4,299.5" fill="none" stroke="#707070" stroke-width="0.8"/>
<circle cx="541.20" cy="243.00" r="56.50" fill="none" stroke="#4a4a4a" stroke-width="1.1"/>
<line x1="539.70" y1="185.92" x2="539.70" y2="300.08" stroke="#444" stroke-width="1"/>
<line x1="542.80" y1="185.92" x2="542.80" y2="300.08" stroke="#444" stroke-width="1"/>
<text x="557.60" y="189.20" font-size="6.2" font-weight="bold" text-anchor="middle" fill="#2a2a2a" textLength="7.7" lengthAdjust="spacingAndGlyphs">70</text>
<text x="570.40" y="198.60" font-size="6.2" font-weight="bold" text-anchor="middle" fill="#2a2a2a" textLength="7.7" lengthAdjust="spacingAndGlyphs">50</text>
<text x="579.40" y="212.80" font-size="6.2" font-weight="bold" text-anchor="middle" fill="#2a2a2a" textLength="7.7" lengthAdjust="spacingAndGlyphs">30</text>
<text x="584.00" y="230.60" font-size="6.2" font-weight="bold" text-anchor="middle" fill="#2a2a2a" textLength="7.7" lengthAdjust="spacingAndGlyphs">10</text>
<text x="584.40" y="239.70" font-size="6.2" font-weight="bold" text-anchor="middle" fill="#2a2a2a" textLength="4.3" lengthAdjust="spacingAndGlyphs">0</text>
<text x="584.00" y="249.50" font-size="6.2" font-weight="bold" text-anchor="middle" fill="#2a2a2a" textLength="12.8" lengthAdjust="spacingAndGlyphs">−10</text>
<text x="580.60" y="269.00" font-size="6.2" font-weight="bold" text-anchor="middle" fill="#2a2a2a" textLength="12.8" lengthAdjust="spacingAndGlyphs">−30</text>
<text x="569.40" y="284.90" font-size="6.2" font-weight="bold" text-anchor="middle" fill="#2a2a2a" textLength="12.8" lengthAdjust="spacingAndGlyphs">−50</text>
<text x="556.00" y="294.50" font-size="6.2" font-weight="bold" text-anchor="middle" fill="#2a2a2a" textLength="12.8" lengthAdjust="spacingAndGlyphs">−70</text>
<text x="542.80" y="300.30" font-size="6.2" font-weight="bold" text-anchor="middle" fill="#2a2a2a" textLength="12.8" lengthAdjust="spacingAndGlyphs">−90</text>
<rect x="483.60" y="350.20" width="115.30" height="115.30" fill="none" stroke="#6e6e6e" stroke-width="1.1"/>
<polyline points="532.7,463.7 532.9,463.7 533.1,463.7 533.3,463.7 533.5,463.8 533.7,463.8 533.9,463.8 534.1,463.8 534.4,463.8 534.6,463.9 534.9,463.9 535.2,463.9 535.4,463.9 535.7,463.9 536.0,464.0 536.3,464.0 536.6,464.0 536.9,464.0 537.2,464.0 537.5,464.0 537.8,464.0 538.2,464.0 538.5,464.1 538.8,464.1 539.2,464.1 539.5,464.1 539.8,464.1 540.2,464.1 540.5,464.1 540.9,464.1 541.2,464.1 541.5,464.1 541.9,464.1 542.2,464.1 542.6,464.1 542.9,464.1 543.2,464.1 543.6,464.1 543.9,464.1 544.2,464.0 544.6,464.0 544.9,464.0 545.2,464.0 545.5,464.0 545.8,464.0 546.1,464.0 546.4,464.0 546.7,463.9 547.0,463.9 547.2,463.9 547.5,463.9 547.8,463.9 548.0,463.8 548.3,463.8 548.5,463.8 548.7,463.8 548.9,463.8 549.1,463.7 549.3,463.7 549.5,463.7 549.7,463.7" fill="none" stroke="#a8a8a8" stroke-width="0.9" stroke-dasharray="1.3 4.4"/>
<polyline points="522.4,461.1 522.6,461.2 522.8,461.2 523.0,461.3 523.3,461.3 523.5,461.4 523.8,461.4 524.1,461.5 524.5,461.5 524.8,461.6 525.2,461.6 525.6,461.7 526.0,461.7 526.4,461.8 526.8,461.8 527.3,461.9 527.8,461.9 528.3,461.9 528.8,462.0 529.3,462.0 529.8,462.1 530.4,462.1 531.0,462.1 531.5,462.1 532.1,462.2 532.7,462.2 533.3,462.2 534.0,462.3 534.6,462.3 535.2,462.3 535.9,462.3 536.5,462.3 537.2,462.3 537.8,462.3 538.5,462.4 539.2,462.4 539.9,462.4 540.5,462.4 541.2,462.4 541.9,462.4 542.5,462.4 543.2,462.4 543.9,462.4 544.6,462.3 545.2,462.3 545.9,462.3 546.5,462.3 547.2,462.3 547.8,462.3 548.4,462.3 549.1,462.2 549.7,462.2 550.3,462.2 550.9,462.1 551.4,462.1 552.0,462.1 552.6,462.1 553.1,462.0 553.6,462.0 554.1,461.9 554.6,461.9 555.1,461.9 555.6,461.8 556.0,461.8 556.4,461.7 556.8,461.7 557.2,461.6 557.6,461.6 557.9,461.5 558.3,461.5 558.6,461.4 558.9,461.4 559.1,461.3 559.4,461.3 559.6,461.2 559.8,461.2 560.0,461.1" fill="none" stroke="#a8a8a8" stroke-width="0.9" stroke-dasharray="1.3 4.4"/>
<polyline points="513.4,457.0 513.6,457.1 513.8,457.1 514.0,457.2 514.3,457.3 514.7,457.4 515.0,457.5 515.4,457.5 515.8,457.6 516.3,457.7 516.7,457.8 517.2,457.8 517.8,457.9 518.3,458.0 518.9,458.1 519.6,458.1 520.2,458.2 520.9,458.3 521.6,458.3 522.3,458.4 523.0,458.4 523.8,458.5 524.6,458.5 525.4,458.6 526.2,458.6 527.1,458.7 527.9,458.7 528.8,458.8 529.7,458.8 530.6,458.8 531.5,458.9 532.5,458.9 533.4,458.9 534.4,458.9 535.3,459.0 536.3,459.0 537.3,459.0 538.2,459.0 539.2,459.0 540.2,459.0 541.2,459.0 542.2,459.0 543.2,459.0 544.2,459.0 545.1,459.0 546.1,459.0 547.1,459.0 548.0,458.9 549.0,458.9 549.9,458.9 550.9,458.9 551.8,458.8 552.7,458.8 553.6,458.8 554.5,458.7 555.3,458.7 556.2,458.6 557.0,458.6 557.8,458.5 558.6,458.5 559.4,458.4 560.1,458.4 560.8,458.3 561.5,458.3 562.2,458.2 562.8,458.1 563.5,458.1 564.1,458.0 564.6,457.9 565.2,457.8 565.7,457.8 566.1,457.7 566.6,457.6 567.0,457.5 567.4,457.5 567.7,457.4 568.1,457.3 568.4,457.2 568.6,457.1 568.8,457.1 569.0,457.0" fill="none" stroke="#a8a8a8" stroke-width="0.9" stroke-dasharray="1.3 4.4"/>
<polyline points="505.1,451.2 505.2,451.4 505.4,451.5 505.7,451.6 506.0,451.7 506.3,451.8 506.7,451.9 507.1,452.0 507.5,452.1 508.0,452.2 508.6,452.3 509.1,452.4 509.7,452.5 510.4,452.6 511.1,452.7 511.8,452.8 512.6,452.9 513.4,453.0 514.2,453.0 515.1,453.1 516.0,453.2 516.9,453.3 517.9,453.3 518.8,453.4 519.9,453.5 520.9,453.5 522.0,453.6 523.0,453.7 524.1,453.7 525.3,453.8 526.4,453.8 527.6,453.9 528.8,453.9 530.0,453.9 531.2,454.0 532.4,454.0 533.6,454.0 534.9,454.0 536.1,454.1 537.4,454.1 538.7,454.1 539.9,454.1 541.2,454.1 542.5,454.1 543.7,454.1 545.0,454.1 546.3,454.1 547.5,454.0 548.8,454.0 550.0,454.0 551.2,454.0 552.4,453.9 553.6,453.9 554.8,453.9 556.0,453.8 557.1,453.8 558.3,453.7 559.4,453.7 560.4,453.6 561.5,453.5 562.5,453.5 563.6,453.4 564.5,453.3 565.5,453.3 566.4,453.2 567.3,453.1 568.2,453.0 569.0,453.0 569.8,452.9 570.6,452.8 571.3,452.7 572.0,452.6 572.7,452.5 573.3,452.4 573.8,452.3 574.4,452.2 574.9,452.1 575.3,452.0 575.7,451.9 576.1,451.8 576.4,451.7 576.7,451.6 577.0,451.5 577.2,451.4 577.3,451.2" fill="none" stroke="#a8a8a8" stroke-width="0.9" stroke-dasharray="1.3 4.4"/>
<polyline points="498.2,444.4 498.3,444.5 498.6,444.6 498.9,444.8 499.2,444.9 499.6,445.0 500.0,445.1 500.5,445.3 501.1,445.4 501.7,445.5 502.3,445.6 503.0,445.8 503.7,445.9 504.5,446.0 505.3,446.1 506.2,446.2 507.1,446.3 508.0,446.4 509.0,446.5 510.1,446.6 511.1,446.7 512.2,446.8 513.4,446.9 514.6,447.0 515.8,447.0 517.0,447.1 518.3,447.2 519.6,447.2 520.9,447.3 522.2,447.4 523.6,447.4 525.0,447.5 526.4,447.5 527.8,447.6 529.3,447.6 530.7,447.6 532.2,447.7 533.7,447.7 535.2,447.7 536.7,447.7 538.2,447.7 539.7,447.7 541.2,447.8 542.7,447.7 544.2,447.7 545.7,447.7 547.2,447.7 548.7,447.7 550.2,447.7 551.7,447.6 553.1,447.6 554.6,447.6 556.0,447.5 557.4,447.5 558.8,447.4 560.2,447.4 561.5,447.3 562.8,447.2 564.1,447.2 565.4,447.1 566.6,447.0 567.8,447.0 569.0,446.9 570.2,446.8 571.3,446.7 572.3,446.6 573.4,446.5 574.4,446.4 575.3,446.3 576.2,446.2 577.1,446.1 577.9,446.0 578.7,445.9 579.4,445.8 580.1,445.6 580.7,445.5 581.3,445.4 581.9,445.3 582.4,445.1 582.8,445.0 583.2,444.9 583.5,444.8 583.8,444.6 584.1,444.5 584.2,444.4" fill="none" stroke="#a8a8a8" stroke-width="0.9" stroke-dasharray="1.3 4.4"/>
<polyline points="492.4,436.2 492.5,436.4 492.7,436.5 493.0,436.7 493.3,436.8 493.7,437.0 494.2,437.1 494.7,437.3 495.2,437.4 495.8,437.5 496.5,437.7 497.2,437.8 498.0,437.9 498.8,438.1 499.7,438.2 500.6,438.3 501.6,438.4 502.6,438.6 503.7,438.7 504.8,438.8 506.0,438.9 507.2,439.0 508.5,439.1 509.7,439.2 511.1,439.3 512.4,439.4 513.8,439.5 515.3,439.6 516.7,439.6 518.2,439.7 519.8,439.8 521.3,439.8 522.9,439.9 524.5,439.9 526.1,440.0 527.7,440.0 529.4,440.1 531.0,440.1 532.7,440.1 534.4,440.2 536.1,440.2 537.8,440.2 539.5,440.2 541.2,440.2 542.9,440.2 544.6,440.2 546.3,440.2 548.0,440.2 549.7,440.1 551.4,440.1 553.0,440.1 554.7,440.0 556.3,440.0 557.9,439.9 559.5,439.9 561.1,439.8 562.6,439.8 564.2,439.7 565.7,439.6 567.1,439.6 568.6,439.5 570.0,439.4 571.3,439.3 572.7,439.2 573.9,439.1 575.2,439.0 576.4,438.9 577.6,438.8 578.7,438.7 579.8,438.6 580.8,438.4 581.8,438.3 582.7,438.2 583.6,438.1 584.4,437.9 585.2,437.8 585.9,437.7 586.6,437.5 587.2,437.4 587.7,437.3 588.2,437.1 588.7,437.0 589.1,436.8 589.4,436.7 589.7,436.5 589.9,436.4 590.0,436.2" fill="none" stroke="#a8a8a8" stroke-width="0.9" stroke-dasharray="1.3 4.4"/>
<polyline points="488.1,427.2 488.2,427.4 488.4,427.5 488.6,427.7 488.9,427.9 489.3,428.0 489.7,428.2 490.2,428.3 490.7,428.5 491.3,428.6 492.0,428.8 492.7,428.9 493.5,429.1 494.3,429.2 495.2,429.4 496.2,429.5 497.2,429.6 498.2,429.8 499.4,429.9 500.5,430.0 501.7,430.1 503.0,430.3 504.3,430.4 505.7,430.5 507.1,430.6 508.5,430.7 510.0,430.8 511.5,430.9 513.1,431.0 514.7,431.1 516.3,431.1 517.9,431.2 519.6,431.3 521.3,431.3 523.0,431.4 524.8,431.5 526.6,431.5 528.4,431.5 530.2,431.6 532.0,431.6 533.8,431.6 535.7,431.7 537.5,431.7 539.3,431.7 541.2,431.7 543.1,431.7 544.9,431.7 546.7,431.7 548.6,431.6 550.4,431.6 552.2,431.6 554.0,431.5 555.8,431.5 557.6,431.5 559.4,431.4 561.1,431.3 562.8,431.3 564.5,431.2 566.1,431.1 567.7,431.1 569.3,431.0 570.9,430.9 572.4,430.8 573.9,430.7 575.3,430.6 576.7,430.5 578.1,430.4 579.4,430.3 580.7,430.1 581.9,430.0 583.0,429.9 584.2,429.8 585.2,429.6 586.2,429.5 587.2,429.4 588.1,429.2 588.9,429.1 589.7,428.9 590.4,428.8 591.1,428.6 591.7,428.5 592.2,428.3 592.7,428.2 593.1,428.0 593.5,427.9 593.8,427.7 594.0,427.5 594.2,427.4 594.3,427.2" fill="none" stroke="#a8a8a8" stroke-width="0.9" stroke-dasharray="1.3 4.4"/>
<polyline points="485.6,417.7 485.7,417.9 485.9,418.1 486.1,418.2 486.4,418.4 486.8,418.6 487.2,418.7 487.7,418.9 488.3,419.1 488.9,419.2 489.6,419.4 490.4,419.5 491.2,419.7 492.1,419.9 493.0,420.0 494.0,420.1 495.1,420.3 496.2,420.4 497.4,420.6 498.6,420.7 499.9,420.8 501.2,420.9 502.5,421.1 504.0,421.2 505.4,421.3 506.9,421.4 508.5,421.5 510.1,421.6 511.7,421.7 513.4,421.8 515.1,421.9 516.8,421.9 518.6,422.0 520.4,422.1 522.2,422.1 524.0,422.2 525.9,422.2 527.7,422.3 529.6,422.3 531.5,422.3 533.5,422.4 535.4,422.4 537.3,422.4 539.3,422.4 541.2,422.4 543.1,422.4 545.1,422.4 547.0,422.4 548.9,422.4 550.9,422.3 552.8,422.3 554.7,422.3 556.5,422.2 558.4,422.2 560.2,422.1 562.0,422.1 563.8,422.0 565.6,421.9 567.3,421.9 569.0,421.8 570.7,421.7 572.3,421.6 573.9,421.5 575.5,421.4 577.0,421.3 578.4,421.2 579.9,421.1 581.2,420.9 582.5,420.8 583.8,420.7 585.0,420.6 586.2,420.4 587.3,420.3 588.4,420.1 589.4,420.0 590.3,419.9 591.2,419.7 592.0,419.5 592.8,419.4 593.5,419.2 594.1,419.1 594.7,418.9 595.2,418.7 595.6,418.6 596.0,418.4 596.3,418.2 596.5,418.1 596.7,417.9 596.8,417.7" fill="none" stroke="#a8a8a8" stroke-width="0.9" stroke-dasharray="1.3 4.4"/>
<polyline points="484.7,407.8 484.7,408.0 484.8,408.1 485.0,408.3 485.2,408.5 485.6,408.7 485.9,408.8 486.4,409.0 486.9,409.2 487.5,409.3 488.1,409.5 488.8,409.6 489.6,409.8 490.4,410.0 491.3,410.1 492.3,410.3 493.3,410.4 494.4,410.6 495.5,410.7 496.7,410.8 497.9,411.0 499.2,411.1 500.6,411.2 502.0,411.3 503.4,411.5 504.9,411.6 506.4,411.7 508.0,411.8 509.6,411.9 511.3,412.0 513.0,412.1 514.7,412.1 516.4,412.2 518.2,412.3 520.0,412.4 521.9,412.4 523.7,412.5 525.6,412.5 527.5,412.6 529.5,412.6 531.4,412.6 533.3,412.7 535.3,412.7 537.3,412.7 539.2,412.7 541.2,412.7 543.2,412.7 545.1,412.7 547.1,412.7 549.1,412.7 551.0,412.6 552.9,412.6 554.9,412.6 556.8,412.5 558.7,412.5 560.5,412.4 562.4,412.4 564.2,412.3 566.0,412.2 567.7,412.1 569.5,412.1 571.1,412.0 572.8,411.9 574.4,411.8 576.0,411.7 577.5,411.6 579.0,411.5 580.4,411.3 581.8,411.2 583.2,411.1 584.5,411.0 585.7,410.8 586.9,410.7 588.0,410.6 589.1,410.4 590.1,410.3 591.1,410.1 592.0,410.0 592.8,409.8 593.6,409.6 594.3,409.5 594.9,409.3 595.5,409.2 596.0,409.0 596.5,408.8 596.8,408.7 597.2,408.5 597.4,408.3 597.6,408.1 597.7,408.0 597.7,407.8" fill="none" stroke="#a8a8a8" stroke-width="0.9" stroke-dasharray="1.3 4.4"/>
<polyline points="485.6,398.0 485.6,398.2 485.7,398.4 485.9,398.5 486.1,398.7 486.4,398.9 486.8,399.0 487.2,399.2 487.7,399.4 488.3,399.5 488.9,399.7 489.6,399.8 490.4,400.0 491.2,400.2 492.1,400.3 493.0,400.5 494.0,400.6 495.1,400.7 496.2,400.9 497.4,401.0 498.6,401.1 499.9,401.3 501.2,401.4 502.5,401.5 504.0,401.6 505.4,401.7 506.9,401.8 508.5,401.9 510.1,402.0 511.7,402.1 513.4,402.2 515.1,402.3 516.8,402.4 518.6,402.5 520.4,402.5 522.2,402.6 524.0,402.6 525.9,402.7 527.7,402.7 529.6,402.8 531.5,402.8 533.5,402.8 535.4,402.8 537.3,402.9 539.3,402.9 541.2,402.9 543.1,402.9 545.1,402.9 547.0,402.8 548.9,402.8 550.9,402.8 552.8,402.8 554.7,402.7 556.5,402.7 558.4,402.6 560.2,402.6 562.0,402.5 563.8,402.5 565.6,402.4 567.3,402.3 569.0,402.2 570.7,402.1 572.3,402.0 573.9,401.9 575.5,401.8 577.0,401.7 578.4,401.6 579.9,401.5 581.2,401.4 582.5,401.3 583.8,401.1 585.0,401.0 586.2,400.9 587.3,400.7 588.4,400.6 589.4,400.5 590.3,400.3 591.2,400.2 592.0,400.0 592.8,399.8 593.5,399.7 594.1,399.5 594.7,399.4 595.2,399.2 595.6,399.0 596.0,398.9 596.3,398.7 596.5,398.5 596.7,398.4 596.8,398.2 596.8,398.0" fill="none" stroke="#a8a8a8" stroke-width="0.9" stroke-dasharray="1.3 4.4"/>
<polyline points="488.1,388.5 488.1,388.7 488.2,388.9 488.4,389.0 488.6,389.2 488.9,389.4 489.3,389.5 489.7,389.7 490.2,389.8 490.7,390.0 491.3,390.1 492.0,390.3 492.7,390.4 493.5,390.6 494.3,390.7 495.2,390.9 496.2,391.0 497.2,391.1 498.2,391.3 499.4,391.4 500.5,391.5 501.7,391.6 503.0,391.8 504.3,391.9 505.7,392.0 507.1,392.1 508.5,392.2 510.0,392.3 511.5,392.4 513.1,392.5 514.7,392.6 516.3,392.6 517.9,392.7 519.6,392.8 521.3,392.8 523.0,392.9 524.8,393.0 526.6,393.0 528.4,393.0 530.2,393.1 532.0,393.1 533.8,393.1 535.7,393.2 537.5,393.2 539.3,393.2 541.2,393.2 543.1,393.2 544.9,393.2 546.7,393.2 548.6,393.1 550.4,393.1 552.2,393.1 554.0,393.0 555.8,393.0 557.6,393.0 559.4,392.9 561.1,392.8 562.8,392.8 564.5,392.7 566.1,392.6 567.7,392.6 569.3,392.5 570.9,392.4 572.4,392.3 573.9,392.2 575.3,392.1 576.7,392.0 578.1,391.9 579.4,391.8 580.7,391.6 581.9,391.5 583.0,391.4 584.2,391.3 585.2,391.1 586.2,391.0 587.2,390.9 588.1,390.7 588.9,390.6 589.7,390.4 590.4,390.3 591.1,390.1 591.7,390.0 592.2,389.8 592.7,389.7 593.1,389.5 593.5,389.4 593.8,389.2 594.0,389.0 594.2,388.9 594.3,388.7 594.3,388.5" fill="none" stroke="#a8a8a8" stroke-width="0.9" stroke-dasharray="1.3 4.4"/>
<polyline points="492.3,379.5 492.3,379.7 492.3,379.8 492.4,380.0 492.5,380.1 492.7,380.3 493.0,380.4 493.3,380.5 493.7,380.7 494.2,380.8 494.7,381.0 495.2,381.1 495.8,381.3 496.5,381.4 497.2,381.5 498.0,381.7 498.8,381.8 499.7,381.9 500.6,382.0 501.6,382.2 502.6,382.3 503.7,382.4 504.8,382.5 506.0,382.6 507.2,382.7 508.5,382.8 509.7,382.9 511.1,383.0 512.4,383.1 513.8,383.2 515.3,383.3 516.7,383.4 518.2,383.4 519.8,383.5 521.3,383.6 522.9,383.6 524.5,383.7 526.1,383.7 527.7,383.8 529.4,383.8 531.0,383.8 532.7,383.9 534.4,383.9 536.1,383.9 537.8,383.9 539.5,383.9 541.2,383.9 542.9,383.9 544.6,383.9 546.3,383.9 548.0,383.9 549.7,383.9 551.4,383.8 553.0,383.8 554.7,383.8 556.3,383.7 557.9,383.7 559.5,383.6 561.1,383.6 562.6,383.5 564.2,383.4 565.7,383.4 567.1,383.3 568.6,383.2 570.0,383.1 571.3,383.0 572.7,382.9 573.9,382.8 575.2,382.7 576.4,382.6 577.6,382.5 578.7,382.4 579.8,382.3 580.8,382.2 581.8,382.0 582.7,381.9 583.6,381.8 584.4,381.7 585.2,381.5 585.9,381.4 586.6,381.3 587.2,381.1 587.7,381.0 588.2,380.8 588.7,380.7 589.1,380.5 589.4,380.4 589.7,380.3 589.9,380.1 590.0,380.0 590.1,379.8 590.1,379.7 590.1,379.5" fill="none" stroke="#a8a8a8" stroke-width="0.9" stroke-dasharray="1.3 4.4"/>
<polyline points="498.0,371.4 497.9,371.5 497.9,371.6 497.9,371.8 498.0,371.9 498.2,372.0 498.3,372.1 498.6,372.3 498.9,372.4 499.2,372.5 499.6,372.7 500.0,372.8 500.5,372.9 501.1,373.0 501.7,373.2 502.3,373.3 503.0,373.4 503.7,373.5 504.5,373.6 505.3,373.7 506.2,373.8 507.1,373.9 508.0,374.0 509.0,374.1 510.1,374.2 511.1,374.3 512.2,374.4 513.4,374.5 514.6,374.6 515.8,374.7 517.0,374.7 518.3,374.8 519.6,374.9 520.9,375.0 522.2,375.0 523.6,375.1 525.0,375.1 526.4,375.2 527.8,375.2 529.3,375.2 530.7,375.3 532.2,375.3 533.7,375.3 535.2,375.4 536.7,375.4 538.2,375.4 539.7,375.4 541.2,375.4 542.7,375.4 544.2,375.4 545.7,375.4 547.2,375.4 548.7,375.3 550.2,375.3 551.7,375.3 553.1,375.2 554.6,375.2 556.0,375.2 557.4,375.1 558.8,375.1 560.2,375.0 561.5,375.0 562.8,374.9 564.1,374.8 565.4,374.7 566.6,374.7 567.8,374.6 569.0,374.5 570.2,374.4 571.3,374.3 572.3,374.2 573.4,374.1 574.4,374.0 575.3,373.9 576.2,373.8 577.1,373.7 577.9,373.6 578.7,373.5 579.4,373.4 580.1,373.3 580.7,373.2 581.3,373.0 581.9,372.9 582.4,372.8 582.8,372.7 583.2,372.5 583.5,372.4 583.8,372.3 584.1,372.1 584.2,372.0 584.4,371.9 584.5,371.8 584.5,371.6 584.5,371.5 584.4,371.4" fill="none" stroke="#a8a8a8" stroke-width="0.9" stroke-dasharray="1.3 4.4"/>
<polyline points="505.0,364.5 504.9,364.6 504.9,364.7 504.9,364.8 505.0,364.9 505.1,365.0 505.2,365.1 505.4,365.2 505.7,365.3 506.0,365.4 506.3,365.6 506.7,365.7 507.1,365.8 507.5,365.9 508.0,366.0 508.6,366.1 509.1,366.2 509.7,366.3 510.4,366.4 511.1,366.5 511.8,366.5 512.6,366.6 513.4,366.7 514.2,366.8 515.1,366.9 516.0,367.0 516.9,367.0 517.9,367.1 518.8,367.2 519.9,367.2 520.9,367.3 522.0,367.4 523.0,367.4 524.1,367.5 525.3,367.5 526.4,367.6 527.6,367.6 528.8,367.7 530.0,367.7 531.2,367.7 532.4,367.8 533.6,367.8 534.9,367.8 536.1,367.8 537.4,367.8 538.7,367.8 539.9,367.8 541.2,367.8 542.5,367.8 543.7,367.8 545.0,367.8 546.3,367.8 547.5,367.8 548.8,367.8 550.0,367.8 551.2,367.7 552.4,367.7 553.6,367.7 554.8,367.6 556.0,367.6 557.1,367.5 558.3,367.5 559.4,367.4 560.4,367.4 561.5,367.3 562.5,367.2 563.6,367.2 564.5,367.1 565.5,367.0 566.4,367.0 567.3,366.9 568.2,366.8 569.0,366.7 569.8,366.6 570.6,366.5 571.3,366.5 572.0,366.4 572.7,366.3 573.3,366.2 573.8,366.1 574.4,366.0 574.9,365.9 575.3,365.8 575.7,365.7 576.1,365.6 576.4,365.4 576.7,365.3 577.0,365.2 577.2,365.1 577.3,365.0 577.4,364.9 577.5,364.8 577.5,364.7 577.5,364.6 577.4,364.5" fill="none" stroke="#a8a8a8" stroke-width="0.9" stroke-dasharray="1.3 4.4"/>
<polyline points="513.2,358.7 513.1,358.8 513.0,358.9 513.0,359.0 513.0,359.1 513.0,359.1 513.0,359.2 513.1,359.3 513.2,359.4 513.4,359.5 513.6,359.6 513.8,359.7 514.0,359.7 514.3,359.8 514.7,359.9 515.0,360.0 515.4,360.1 515.8,360.1 516.3,360.2 516.7,360.3 517.2,360.4 517.8,360.4 518.3,360.5 518.9,360.6 519.6,360.6 520.2,360.7 520.9,360.8 521.6,360.8 522.3,360.9 523.0,360.9 523.8,361.0 524.6,361.0 525.4,361.1 526.2,361.1 527.1,361.2 527.9,361.2 528.8,361.3 529.7,361.3 530.6,361.3 531.5,361.4 532.5,361.4 533.4,361.4 534.4,361.4 535.3,361.5 536.3,361.5 537.3,361.5 538.2,361.5 539.2,361.5 540.2,361.5 541.2,361.5 542.2,361.5 543.2,361.5 544.2,361.5 545.1,361.5 546.1,361.5 547.1,361.5 548.0,361.4 549.0,361.4 549.9,361.4 550.9,361.4 551.8,361.3 552.7,361.3 553.6,361.3 554.5,361.2 555.3,361.2 556.2,361.1 557.0,361.1 557.8,361.0 558.6,361.0 559.4,360.9 560.1,360.9 560.8,360.8 561.5,360.8 562.2,360.7 562.8,360.6 563.5,360.6 564.1,360.5 564.6,360.4 565.2,360.4 565.7,360.3 566.1,360.2 566.6,360.1 567.0,360.1 567.4,360.0 567.7,359.9 568.1,359.8 568.4,359.7 568.6,359.7 568.8,359.6 569.0,359.5 569.2,359.4 569.3,359.3 569.4,359.2 569.4,359.1 569.5,359.1 569.4,359.0 569.4,358.9 569.3,358.8 569.2,358.7" fill="none" stroke="#a8a8a8" stroke-width="0.9" stroke-dasharray="1.3 4.4"/>
<polyline points="522.3,354.6 522.2,354.6 522.1,354.7 522.0,354.7 521.9,354.8 521.9,354.9 521.9,354.9 521.9,355.0 521.9,355.0 522.0,355.1 522.1,355.1 522.2,355.2 522.3,355.3 522.4,355.3 522.6,355.4 522.8,355.4 523.0,355.5 523.3,355.5 523.5,355.6 523.8,355.6 524.1,355.7 524.5,355.8 524.8,355.8 525.2,355.9 525.6,355.9 526.0,355.9 526.4,356.0 526.8,356.0 527.3,356.1 527.8,356.1 528.3,356.2 528.8,356.2 529.3,356.2 529.8,356.3 530.4,356.3 531.0,356.3 531.5,356.4 532.1,356.4 532.7,356.4 533.3,356.4 534.0,356.5 534.6,356.5 535.2,356.5 535.9,356.5 536.5,356.5 537.2,356.6 537.8,356.6 538.5,356.6 539.2,356.6 539.9,356.6 540.5,356.6 541.2,356.6 541.9,356.6 542.5,356.6 543.2,356.6 543.9,356.6 544.6,356.6 545.2,356.6 545.9,356.5 546.5,356.5 547.2,356.5 547.8,356.5 548.4,356.5 549.1,356.4 549.7,356.4 550.3,356.4 550.9,356.4 551.4,356.3 552.0,356.3 552.6,356.3 553.1,356.2 553.6,356.2 554.1,356.2 554.6,356.1 555.1,356.1 555.6,356.0 556.0,356.0 556.4,355.9 556.8,355.9 557.2,355.9 557.6,355.8 557.9,355.8 558.3,355.7 558.6,355.6 558.9,355.6 559.1,355.5 559.4,355.5 559.6,355.4 559.8,355.4 560.0,355.3 560.1,355.3 560.2,355.2 560.3,355.1 560.4,355.1 560.5,355.0 560.5,355.0 560.5,354.9 560.5,354.9 560.5,354.8 560.4,354.7 560.3,354.7 560.2,354.6 560.1,354.6" fill="none" stroke="#a8a8a8" stroke-width="0.9" stroke-dasharray="1.3 4.4"/>
<polyline points="532.5,352.0 532.4,352.0 532.2,352.0 532.1,352.0 532.0,352.1 531.9,352.1 531.8,352.1 531.7,352.2 531.6,352.2 531.5,352.2 531.5,352.3 531.4,352.3 531.4,352.3 531.4,352.3 531.4,352.4 531.4,352.4 531.4,352.4 531.4,352.5 531.5,352.5 531.5,352.5 531.6,352.5 531.7,352.6 531.8,352.6 531.9,352.6 532.0,352.7 532.1,352.7 532.2,352.7 532.4,352.7 532.5,352.8 532.7,352.8 532.9,352.8 533.1,352.8 533.3,352.9 533.5,352.9 533.7,352.9 533.9,352.9 534.1,353.0 534.4,353.0 534.6,353.0 534.9,353.0 535.2,353.0 535.4,353.1 535.7,353.1 536.0,353.1 536.3,353.1 536.6,353.1 536.9,353.1 537.2,353.2 537.5,353.2 537.8,353.2 538.2,353.2 538.5,353.2 538.8,353.2 539.2,353.2 539.5,353.2 539.8,353.2 540.2,353.2 540.5,353.2 540.9,353.2 541.2,353.2 541.5,353.2 541.9,353.2 542.2,353.2 542.6,353.2 542.9,353.2 543.2,353.2 543.6,353.2 543.9,353.2 544.2,353.2 544.6,353.2 544.9,353.2 545.2,353.2 545.5,353.1 545.8,353.1 546.1,353.1 546.4,353.1 546.7,353.1 547.0,353.1 547.2,353.0 547.5,353.0 547.8,353.0 548.0,353.0 548.3,353.0 548.5,352.9 548.7,352.9 548.9,352.9 549.1,352.9 549.3,352.8 549.5,352.8 549.7,352.8 549.9,352.8 550.0,352.7 550.2,352.7 550.3,352.7 550.4,352.7 550.5,352.6 550.6,352.6 550.7,352.6 550.8,352.5 550.9,352.5 550.9,352.5 551.0,352.5 551.0,352.4 551.0,352.4 551.0,352.4 551.0,352.3 551.0,352.3 551.0,352.3 550.9,352.3 550.9,352.2 550.8,352.2 550.7,352.2 550.6,352.1 550.5,352.1 550.4,352.1 550.3,352.0 550.2,352.0 550.0,352.0 549.9,352.0" fill="none" stroke="#a8a8a8" stroke-width="0.9" stroke-dasharray="1.3 4.4"/>
<polyline points="541.2,351.3 541.2,351.4 541.2,351.5" fill="none" stroke="#b0b0b0" stroke-width="0.9" stroke-dasharray="1.3 4.4"/>
<polyline points="539.2,351.4 540.2,351.4 541.2,351.5" fill="none" stroke="#b0b0b0" stroke-width="0.9" stroke-dasharray="1.3 4.4"/>
<polyline points="534.4,351.7 536.1,351.6 537.8,351.5 539.5,351.5 541.2,351.5" fill="none" stroke="#b0b0b0" stroke-width="0.9" stroke-dasharray="1.3 4.4"/>
<polyline points="484.7,407.8 484.7,405.8 484.8,403.9 485.0,401.9 485.2,400.0 485.6,398.0 485.9,396.1 486.4,394.2 486.9,392.3 487.5,390.4 488.1,388.5 488.8,386.7 489.6,384.9 490.4,383.1 491.3,381.4 492.3,379.7 493.3,378.0 494.4,376.3 495.5,374.7 496.7,373.1 497.9,371.6 499.2,370.1 500.6,368.7 502.0,367.3 503.4,366.0 504.9,364.7 506.4,363.4 508.0,362.3 509.6,361.1 511.3,360.1 513.0,359.1 514.7,358.1 516.4,357.2 518.2,356.4 520.0,355.6 521.9,354.9 523.7,354.3 525.6,353.7 527.5,353.2 529.5,352.7 531.4,352.4 533.3,352.1 535.3,351.8 537.3,351.7 539.2,351.5 541.2,351.5" fill="none" stroke="#b0b0b0" stroke-width="0.9" stroke-dasharray="1.3 4.4"/>
<polyline points="532.7,463.7 531.0,463.4 529.4,463.0 527.7,462.6 526.1,462.1 524.5,461.5 522.9,460.9 521.3,460.2 519.8,459.5 518.2,458.7 516.7,457.8 515.3,456.8 513.8,455.8 512.4,454.8 511.1,453.7 509.7,452.5 508.5,451.3 507.2,450.0 506.0,448.7 504.8,447.3 503.7,445.9 502.6,444.4 501.6,442.9 500.6,441.3 499.7,439.7 498.8,438.1 498.0,436.4 497.2,434.7 496.5,432.9 495.8,431.2 495.2,429.4 494.7,427.5 494.2,425.7 493.7,423.8 493.3,421.9 493.0,420.0 492.7,418.1 492.5,416.1 492.4,414.2 492.3,412.2 492.3,410.3 492.3,408.3 492.4,406.3 492.5,404.4 492.7,402.4 493.0,400.5 493.3,398.5 493.7,396.6 494.2,394.7 494.7,392.7 495.2,390.9 495.8,389.0 496.5,387.2 497.2,385.3 498.0,383.5 498.8,381.8 499.7,380.1 500.6,378.4 501.6,376.7 502.6,375.1 503.7,373.5 504.8,372.0 506.0,370.5 507.2,369.0 508.5,367.6 509.7,366.3 511.1,365.0 512.4,363.7 513.8,362.5 515.3,361.4 516.7,360.3 518.2,359.3 519.8,358.3 521.3,357.4 522.9,356.5 524.5,355.8 526.1,355.0 527.7,354.4 529.4,353.8 531.0,353.3 532.7,352.8 534.4,352.4 536.1,352.1 537.8,351.8 539.5,351.6 541.2,351.5" fill="none" stroke="#b0b0b0" stroke-width="0.9" stroke-dasharray="1.3 4.4"/>
<polyline points="538.2,464.2 537.3,464.1 536.3,464.0 535.3,463.7 534.4,463.4 533.4,463.1 532.5,462.6 531.5,462.1 530.6,461.6 529.7,461.0 528.8,460.3 527.9,459.5 527.1,458.7 526.2,457.8 525.4,456.8 524.6,455.8 523.8,454.8 523.0,453.7 522.3,452.5 521.6,451.3 520.9,450.0 520.2,448.6 519.6,447.2 518.9,445.8 518.3,444.3 517.8,442.8 517.2,441.2 516.7,439.6 516.3,438.0 515.8,436.3 515.4,434.6 515.0,432.8 514.7,431.1 514.3,429.2 514.0,427.4 513.8,425.6 513.6,423.7 513.4,421.8 513.2,419.9 513.1,417.9 513.0,416.0 513.0,414.0 513.0,412.1 513.0,410.1 513.0,408.1 513.1,406.2 513.2,404.2 513.4,402.2 513.6,400.3 513.8,398.3 514.0,396.4 514.3,394.5 514.7,392.6 515.0,390.7 515.4,388.8 515.8,387.0 516.3,385.1 516.7,383.4 517.2,381.6 517.8,379.9 518.3,378.2 518.9,376.5 519.6,374.9 520.2,373.3 520.9,371.8 521.6,370.3 522.3,368.8 523.0,367.4 523.8,366.1 524.6,364.8 525.4,363.5 526.2,362.3 527.1,361.2 527.9,360.1 528.8,359.1 529.7,358.1 530.6,357.2 531.5,356.4 532.5,355.6 533.4,354.9 534.4,354.2 535.3,353.6 536.3,353.1 537.3,352.7 538.2,352.3 539.2,351.9 540.2,351.7 541.2,351.5" fill="none" stroke="#b0b0b0" stroke-width="0.9" stroke-dasharray="1.3 4.4"/>
<polyline points="541.2,464.3 541.2,464.2 541.2,464.1 541.2,463.9 541.2,463.6 541.2,463.3 541.2,462.9 541.2,462.4 541.2,461.8 541.2,461.2 541.2,460.5 541.2,459.8 541.2,459.0 541.2,458.1 541.2,457.2 541.2,456.2 541.2,455.2 541.2,454.1 541.2,452.9 541.2,451.7 541.2,450.4 541.2,449.1 541.2,447.8 541.2,446.3 541.2,444.9 541.2,443.4 541.2,441.8 541.2,440.2 541.2,438.6 541.2,436.9 541.2,435.2 541.2,433.5 541.2,431.7 541.2,429.9 541.2,428.0 541.2,426.2 541.2,424.3 541.2,422.4 541.2,420.5 541.2,418.6 541.2,416.6 541.2,414.7 541.2,412.7 541.2,410.8 541.2,408.8 541.2,406.8 541.2,404.8 541.2,402.9 541.2,400.9 541.2,399.0 541.2,397.0 541.2,395.1 541.2,393.2 541.2,391.3 541.2,389.4 541.2,387.6 541.2,385.7 541.2,383.9 541.2,382.1 541.2,380.4 541.2,378.7 541.2,377.0 541.2,375.4 541.2,373.8 541.2,372.2 541.2,370.7 541.2,369.3 541.2,367.8 541.2,366.5 541.2,365.2 541.2,363.9 541.2,362.7 541.2,361.5 541.2,360.4 541.2,359.4 541.2,358.4 541.2,357.5 541.2,356.6 541.2,355.8 541.2,355.1 541.2,354.4 541.2,353.8 541.2,353.2 541.2,352.7 541.2,352.3 541.2,352.0 541.2,351.7 541.2,351.5" fill="none" stroke="#b0b0b0" stroke-width="0.9" stroke-dasharray="1.3 4.4"/>
<polyline points="544.2,464.2 545.1,464.1 546.1,464.0 547.1,463.7 548.0,463.4 549.0,463.1 549.9,462.6 550.9,462.1 551.8,461.6 552.7,461.0 553.6,460.3 554.5,459.5 555.3,458.7 556.2,457.8 557.0,456.8 557.8,455.8 558.6,454.8 559.4,453.7 560.1,452.5 560.8,451.3 561.5,450.0 562.2,448.6 562.8,447.2 563.5,445.8 564.1,444.3 564.6,442.8 565.2,441.2 565.7,439.6 566.1,438.0 566.6,436.3 567.0,434.6 567.4,432.8 567.7,431.1 568.1,429.2 568.4,427.4 568.6,425.6 568.8,423.7 569.0,421.8 569.2,419.9 569.3,417.9 569.4,416.0 569.4,414.0 569.5,412.1 569.4,410.1 569.4,408.1 569.3,406.2 569.2,404.2 569.0,402.2 568.8,400.3 568.6,398.3 568.4,396.4 568.1,394.5 567.7,392.6 567.4,390.7 567.0,388.8 566.6,387.0 566.1,385.1 565.7,383.4 565.2,381.6 564.6,379.9 564.1,378.2 563.5,376.5 562.8,374.9 562.2,373.3 561.5,371.8 560.8,370.3 560.1,368.8 559.4,367.4 558.6,366.1 557.8,364.8 557.0,363.5 556.2,362.3 555.3,361.2 554.5,360.1 553.6,359.1 552.7,358.1 551.8,357.2 550.9,356.4 549.9,355.6 549.0,354.9 548.0,354.2 547.1,353.6 546.1,353.1 545.1,352.7 544.2,352.3 543.2,351.9 542.2,351.7 541.2,351.5" fill="none" stroke="#b0b0b0" stroke-width="0.9" stroke-dasharray="1.3 4.4"/>
<polyline points="549.7,463.7 551.4,463.4 553.0,463.0 554.7,462.6 556.3,462.1 557.9,461.5 559.5,460.9 561.1,460.2 562.6,459.5 564.2,458.7 565.7,457.8 567.1,456.8 568.6,455.8 570.0,454.8 571.3,453.7 572.7,452.5 573.9,451.3 575.2,450.0 576.4,448.7 577.6,447.3 578.7,445.9 579.8,444.4 580.8,442.9 581.8,441.3 582.7,439.7 583.6,438.1 584.4,436.4 585.2,434.7 585.9,432.9 586.6,431.2 587.2,429.4 587.7,427.5 588.2,425.7 588.7,423.8 589.1,421.9 589.4,420.0 589.7,418.1 589.9,416.1 590.0,414.2 590.1,412.2 590.1,410.3 590.1,408.3 590.0,406.3 589.9,404.4 589.7,402.4 589.4,400.5 589.1,398.5 588.7,396.6 588.2,394.7 587.7,392.7 587.2,390.9 586.6,389.0 585.9,387.2 585.2,385.3 584.4,383.5 583.6,381.8 582.7,380.1 581.8,378.4 580.8,376.7 579.8,375.1 578.7,373.5 577.6,372.0 576.4,370.5 575.2,369.0 573.9,367.6 572.7,366.3 571.3,365.0 570.0,363.7 568.6,362.5 567.1,361.4 565.7,360.3 564.2,359.3 562.6,358.3 561.1,357.4 559.5,356.5 557.9,355.8 556.3,355.0 554.7,354.4 553.0,353.8 551.4,353.3 549.7,352.8 548.0,352.4 546.3,352.1 544.6,351.8 542.9,351.6 541.2,351.5" fill="none" stroke="#b0b0b0" stroke-width="0.9" stroke-dasharray="1.3 4.4"/>
<polyline points="597.7,407.8 597.7,405.8 597.6,403.9 597.4,401.9 597.2,400.0 596.8,398.0 596.5,396.1 596.0,394.2 595.5,392.3 594.9,390.4 594.3,388.5 593.6,386.7 592.8,384.9 592.0,383.1 591.1,381.4 590.1,379.7 589.1,378.0 588.0,376.3 586.9,374.7 585.7,373.1 584.5,371.6 583.2,370.1 581.8,368.7 580.4,367.3 579.0,366.0 577.5,364.7 576.0,363.4 574.4,362.3 572.8,361.1 571.1,360.1 569.5,359.1 567.7,358.1 566.0,357.2 564.2,356.4 562.4,355.6 560.5,354.9 558.7,354.3 556.8,353.7 554.9,353.2 552.9,352.7 551.0,352.4 549.1,352.1 547.1,351.8 545.1,351.7 543.2,351.5 541.2,351.5" fill="none" stroke="#b0b0b0" stroke-width="0.9" stroke-dasharray="1.3 4.4"/>
<polyline points="548.0,351.7 546.3,351.6 544.6,351.5 542.9,351.5 541.2,351.5" fill="none" stroke="#b0b0b0" stroke-width="0.9" stroke-dasharray="1.3 4.4"/>
<polyline points="543.2,351.4 542.2,351.4 541.2,351.5" fill="none" stroke="#b0b0b0" stroke-width="0.9" stroke-dasharray="1.3 4.4"/>
<polyline points="487.0,414.6 497.0,414.5 511.4,414.5 527.1,414.4 541.0,414.3 553.3,414.3 565.4,414.3 575.7,414.3 583.0,414.3" fill="none" stroke="#8f8f8f" stroke-width="1.1" stroke-dasharray="8.5 6.5"/>
<polyline points="488.0,419.3 497.8,419.2 511.9,419.1 527.4,419.0 541.0,419.0 553.1,419.0 564.8,419.1 574.9,419.2 582.0,419.3" fill="none" stroke="#8f8f8f" stroke-width="1.1" stroke-dasharray="8.5 6.5"/>
<polygon points="541.2,351.3 540.1,351.3 538.9,351.3 537.8,351.4 536.7,351.5 535.6,351.6 534.5,351.7 533.4,351.8 532.4,352.0 531.3,352.2 530.3,352.4 529.3,352.6 528.3,352.8 527.4,353.0 526.4,353.3 525.5,353.5 524.7,353.8 523.8,354.0 523.0,354.3 522.2,354.6 521.5,354.9 520.7,355.1 520.0,355.4 519.4,355.7 518.7,356.0 518.1,356.2 517.6,356.5 517.0,356.7 516.5,357.0 516.0,357.2 515.6,357.4 515.1,357.7 514.7,357.9 514.4,358.1 514.0,358.3 513.7,358.4 513.4,358.6 513.2,358.7 512.9,358.9 512.7,359.0 512.5,359.1 512.4,359.2 512.3,359.3 512.2,359.4 512.1,359.5 512.1,359.6 512.1,359.6 512.2,359.7 512.3,359.8 512.4,359.9 512.5,360.0 512.7,360.1 513.0,360.2 513.2,360.3 513.5,360.3 513.9,360.4 514.2,360.5 514.6,360.6 515.0,360.7 515.5,360.7 516.0,360.8 516.5,360.9 517.1,361.0 517.7,361.0 518.3,361.1 518.9,361.2 519.6,361.3 520.3,361.3 521.0,361.4 521.7,361.4 522.5,361.5 523.3,361.6 524.1,361.6 524.9,361.7 525.8,361.7 526.7,361.8 527.5,361.8 528.4,361.8 529.4,361.9 530.3,361.9 531.2,361.9 532.2,362.0 533.2,362.0 534.2,362.0 535.1,362.0 536.1,362.1 537.2,362.1 538.2,362.1 539.2,362.1 540.2,362.1 541.2,362.1 542.2,362.1 543.2,362.1 544.2,362.1 545.2,362.1 546.3,362.1 547.3,362.0 548.2,362.0 549.2,362.0 550.2,362.0 551.2,361.9 552.1,361.9 553.0,361.9 554.0,361.8 554.9,361.8 555.7,361.8 556.6,361.7 557.5,361.7 558.3,361.6 559.1,361.6 559.9,361.5 560.7,361.4 561.4,361.4 562.1,361.3 562.8,361.3 563.5,361.2 564.1,361.1 564.7,361.0 565.3,361.0 565.9,360.9 566.4,360.8 566.9,360.7 567.4,360.7 567.8,360.6 568.2,360.5 568.5,360.4 568.9,360.3 569.2,360.3 569.4,360.2 569.7,360.1 569.9,360.0 570.0,359.9 570.1,359.8 570.2,359.7 570.3,359.6 570.3,359.6 570.3,359.5 570.2,359.4 570.1,359.3 570.0,359.2 569.9,359.1 569.7,359.0 569.5,358.9 569.2,358.7 569.0,358.6 568.7,358.4 568.4,358.3 568.0,358.1 567.7,357.9 567.3,357.7 566.8,357.4 566.4,357.2 565.9,357.0 565.4,356.7 564.8,356.5 564.3,356.2 563.7,356.0 563.0,355.7 562.4,355.4 561.7,355.1 560.9,354.9 560.2,354.6 559.4,354.3 558.6,354.0 557.7,353.8 556.9,353.5 556.0,353.3 555.0,353.0 554.1,352.8 553.1,352.6 552.1,352.4 551.1,352.2 550.0,352.0 549.0,351.8 547.9,351.7 546.8,351.6 545.7,351.5 544.6,351.4 543.5,351.3 542.3,351.3 541.2,351.3 541.2,351.3 542.1,351.3 543.0,351.3 544.0,351.4 544.9,351.4 545.8,351.5 546.7,351.6 547.6,351.7 548.5,351.8 549.3,351.9 550.2,352.0 551.0,352.2 551.8,352.3 552.6,352.5 553.4,352.6 554.2,352.8 554.9,353.0 555.6,353.2 556.3,353.4 557.0,353.6 557.7,353.8 558.3,353.9 558.9,354.1 559.5,354.3 560.0,354.5 560.6,354.7 561.1,354.9 561.6,355.1 562.0,355.3 562.5,355.5 562.9,355.6 563.2,355.8 563.6,355.9 563.9,356.1 564.2,356.2 564.5,356.3 564.8,356.5 565.0,356.6 565.2,356.7 565.4,356.8 565.6,356.8 565.7,356.9 565.8,357.0 565.9,357.1 566.0,357.1 566.0,357.2 566.0,357.3 565.9,357.4 565.8,357.4 565.7,357.5 565.6,357.6 565.4,357.7 565.2,357.7 565.0,357.8 564.8,357.9 564.5,357.9 564.2,358.0 563.8,358.1 563.5,358.2 563.1,358.2 562.6,358.3 562.2,358.4 561.7,358.4 561.2,358.5 560.7,358.5 560.2,358.6 559.6,358.7 559.0,358.7 558.4,358.8 557.8,358.8 557.1,358.9 556.4,358.9 555.8,359.0 555.1,359.0 554.3,359.0 553.6,359.1 552.8,359.1 552.1,359.2 551.3,359.2 550.5,359.2 549.7,359.2 548.9,359.3 548.0,359.3 547.2,359.3 546.3,359.3 545.5,359.3 544.6,359.3 543.8,359.4 542.9,359.4 542.1,359.4 541.2,359.4 540.3,359.4 539.5,359.4 538.6,359.4 537.8,359.3 536.9,359.3 536.1,359.3 535.2,359.3 534.4,359.3 533.5,359.3 532.7,359.2 531.9,359.2 531.1,359.2 530.3,359.2 529.6,359.1 528.8,359.1 528.1,359.0 527.3,359.0 526.6,359.0 526.0,358.9 525.3,358.9 524.6,358.8 524.0,358.8 523.4,358.7 522.8,358.7 522.2,358.6 521.7,358.5 521.2,358.5 520.7,358.4 520.2,358.4 519.8,358.3 519.3,358.2 518.9,358.2 518.6,358.1 518.2,358.0 517.9,357.9 517.6,357.9 517.4,357.8 517.2,357.7 517.0,357.7 516.8,357.6 516.7,357.5 516.6,357.4 516.5,357.4 516.4,357.3 516.4,357.2 516.4,357.1 516.5,357.1 516.6,357.0 516.7,356.9 516.8,356.8 517.0,356.8 517.2,356.7 517.4,356.6 517.6,356.5 517.9,356.3 518.2,356.2 518.5,356.1 518.8,355.9 519.2,355.8 519.5,355.6 519.9,355.5 520.4,355.3 520.8,355.1 521.3,354.9 521.8,354.7 522.4,354.5 522.9,354.3 523.5,354.1 524.1,353.9 524.7,353.8 525.4,353.6 526.1,353.4 526.8,353.2 527.5,353.0 528.2,352.8 529.0,352.6 529.8,352.5 530.6,352.3 531.4,352.2 532.2,352.0 533.1,351.9 533.9,351.8 534.8,351.7 535.7,351.6 536.6,351.5 537.5,351.4 538.4,351.4 539.4,351.3 540.3,351.3 541.2,351.3" fill="#bdbdbd" stroke="#888" stroke-width="0.7"/>
<polygon points="541.2,464.3 540.2,464.3 539.2,464.3 538.2,464.2 537.2,464.2 536.2,464.1 535.2,464.0 534.3,463.9 533.3,463.7 532.4,463.6 531.5,463.5 530.6,463.3 529.7,463.1 528.9,462.9 528.1,462.8 527.3,462.6 526.5,462.4 525.8,462.2 525.1,461.9 524.4,461.7 523.7,461.5 523.1,461.3 522.5,461.1 521.9,460.9 521.4,460.7 520.9,460.5 520.4,460.3 519.9,460.1 519.5,460.0 519.1,459.8 518.7,459.6 518.4,459.5 518.1,459.4 517.8,459.2 517.5,459.1 517.3,459.0 517.1,458.9 516.9,458.8 516.8,458.7 516.6,458.7 516.5,458.6 516.4,458.6 516.4,458.6 516.3,458.5 516.3,458.5 516.4,458.5 516.4,458.6 516.5,458.6 516.6,458.6 516.7,458.7 516.8,458.8 517.0,458.8 517.2,458.9 517.4,459.0 517.6,459.1 517.9,459.1 518.2,459.2 518.6,459.3 518.9,459.3 519.3,459.4 519.8,459.5 520.2,459.5 520.7,459.6 521.2,459.7 521.7,459.7 522.2,459.8 522.8,459.8 523.4,459.9 524.0,459.9 524.6,460.0 525.3,460.0 526.0,460.1 526.6,460.1 527.3,460.2 528.1,460.2 528.8,460.3 529.6,460.3 530.3,460.3 531.1,460.4 531.9,460.4 532.7,460.4 533.5,460.4 534.4,460.5 535.2,460.5 536.1,460.5 536.9,460.5 537.8,460.5 538.6,460.5 539.5,460.5 540.3,460.5 541.2,460.5 542.1,460.5 542.9,460.5 543.8,460.5 544.6,460.5 545.5,460.5 546.3,460.5 547.2,460.5 548.0,460.5 548.9,460.4 549.7,460.4 550.5,460.4 551.3,460.4 552.1,460.3 552.8,460.3 553.6,460.3 554.3,460.2 555.1,460.2 555.8,460.1 556.4,460.1 557.1,460.0 557.8,460.0 558.4,459.9 559.0,459.9 559.6,459.8 560.2,459.8 560.7,459.7 561.2,459.7 561.7,459.6 562.2,459.5 562.6,459.5 563.1,459.4 563.5,459.3 563.8,459.3 564.2,459.2 564.5,459.1 564.8,459.1 565.0,459.0 565.2,458.9 565.4,458.8 565.6,458.8 565.7,458.7 565.8,458.6 565.9,458.6 566.0,458.6 566.0,458.5 566.1,458.5 566.1,458.5 566.0,458.6 566.0,458.6 565.9,458.6 565.8,458.7 565.6,458.7 565.5,458.8 565.3,458.9 565.1,459.0 564.9,459.1 564.6,459.2 564.3,459.4 564.0,459.5 563.7,459.6 563.3,459.8 562.9,460.0 562.5,460.1 562.0,460.3 561.5,460.5 561.0,460.7 560.5,460.9 559.9,461.1 559.3,461.3 558.7,461.5 558.0,461.7 557.3,461.9 556.6,462.2 555.9,462.4 555.1,462.6 554.3,462.8 553.5,462.9 552.7,463.1 551.8,463.3 550.9,463.5 550.0,463.6 549.1,463.7 548.1,463.9 547.2,464.0 546.2,464.1 545.2,464.2 544.2,464.2 543.2,464.3 542.2,464.3 541.2,464.3 541.2,464.3 542.5,464.3 543.7,464.2 545.0,464.2 546.2,464.1 547.4,464.0 548.6,463.8 549.8,463.6 550.9,463.5 552.1,463.2 553.2,463.0 554.3,462.8 555.3,462.5 556.3,462.2 557.3,462.0 558.2,461.7 559.1,461.4 560.0,461.1 560.8,460.8 561.6,460.5 562.4,460.2 563.1,459.9 563.8,459.6 564.4,459.3 565.0,459.0 565.6,458.8 566.1,458.5 566.6,458.3 567.1,458.0 567.5,457.8 567.9,457.6 568.3,457.4 568.6,457.2 568.9,457.0 569.2,456.9 569.4,456.7 569.7,456.6 569.8,456.5 570.0,456.4 570.1,456.3 570.2,456.3 570.3,456.2 570.4,456.2 570.4,456.2 570.4,456.2 570.4,456.2 570.3,456.2 570.3,456.3 570.1,456.3 570.0,456.4 569.9,456.5 569.7,456.6 569.4,456.7 569.2,456.7 568.9,456.8 568.5,456.9 568.2,457.0 567.8,457.1 567.4,457.2 566.9,457.2 566.4,457.3 565.9,457.4 565.3,457.5 564.7,457.5 564.1,457.6 563.5,457.7 562.8,457.7 562.1,457.8 561.4,457.9 560.7,457.9 559.9,458.0 559.1,458.0 558.3,458.1 557.5,458.1 556.6,458.2 555.7,458.2 554.9,458.3 554.0,458.3 553.0,458.4 552.1,458.4 551.2,458.4 550.2,458.5 549.2,458.5 548.2,458.5 547.3,458.5 546.3,458.5 545.2,458.6 544.2,458.6 543.2,458.6 542.2,458.6 541.2,458.6 540.2,458.6 539.2,458.6 538.2,458.6 537.2,458.6 536.1,458.5 535.1,458.5 534.2,458.5 533.2,458.5 532.2,458.5 531.2,458.4 530.3,458.4 529.4,458.4 528.4,458.3 527.5,458.3 526.7,458.2 525.8,458.2 524.9,458.1 524.1,458.1 523.3,458.0 522.5,458.0 521.7,457.9 521.0,457.9 520.3,457.8 519.6,457.7 518.9,457.7 518.3,457.6 517.7,457.5 517.1,457.5 516.5,457.4 516.0,457.3 515.5,457.2 515.0,457.2 514.6,457.1 514.2,457.0 513.9,456.9 513.5,456.8 513.2,456.7 513.0,456.7 512.7,456.6 512.5,456.5 512.4,456.4 512.3,456.3 512.1,456.3 512.1,456.2 512.0,456.2 512.0,456.2 512.0,456.2 512.0,456.2 512.1,456.2 512.2,456.3 512.3,456.3 512.4,456.4 512.6,456.5 512.7,456.6 513.0,456.7 513.2,456.9 513.5,457.0 513.8,457.2 514.1,457.4 514.5,457.6 514.9,457.8 515.3,458.0 515.8,458.3 516.3,458.5 516.8,458.8 517.4,459.0 518.0,459.3 518.6,459.6 519.3,459.9 520.0,460.2 520.8,460.5 521.6,460.8 522.4,461.1 523.3,461.4 524.2,461.7 525.1,462.0 526.1,462.2 527.1,462.5 528.1,462.8 529.2,463.0 530.3,463.2 531.5,463.5 532.6,463.6 533.8,463.8 535.0,464.0 536.2,464.1 537.4,464.2 538.7,464.2 539.9,464.3 541.2,464.3" fill="#bdbdbd" stroke="#888" stroke-width="0.7"/>
<polyline points="532.6,352.0 532.5,352.0 532.5,352.0 532.4,352.0 532.3,352.0 532.2,352.0 532.2,352.0 532.1,352.0 532.0,352.1 532.0,352.1 531.9,352.1 531.9,352.1 531.8,352.1 531.8,352.1 531.7,352.1 531.7,352.2 531.6,352.2 531.6,352.2 531.6,352.2 531.5,352.2 531.5,352.2 531.5,352.3 531.5,352.3 531.4,352.3 531.4,352.3 531.4,352.3 531.4,352.3 531.4,352.3 531.4,352.4 531.4,352.4 531.4,352.4 531.4,352.4 531.4,352.4 531.4,352.4 531.4,352.4 531.4,352.5 531.5,352.5 531.5,352.5 531.5,352.5 531.5,352.5 531.6,352.5 531.6,352.5 531.6,352.6 531.7,352.6 531.7,352.6 531.8,352.6 531.8,352.6 531.9,352.6 531.9,352.6 532.0,352.7 532.0,352.7 532.1,352.7 532.2,352.7 532.2,352.7 532.3,352.7 532.4,352.7 532.5,352.8 532.5,352.8 532.6,352.8 532.7,352.8 532.8,352.8 532.9,352.8 533.0,352.8 533.1,352.8 533.2,352.9 533.3,352.9 533.4,352.9 533.5,352.9 533.6,352.9 533.7,352.9 533.8,352.9 533.9,352.9 534.0,353.0 534.1,353.0 534.3,353.0 534.4,353.0 534.5,353.0 534.6,353.0 534.8,353.0 534.9,353.0 535.0,353.0 535.2,353.0 535.3,353.1 535.4,353.1 535.6,353.1 535.7,353.1 535.9,353.1 536.0,353.1 536.1,353.1 536.3,353.1 536.4,353.1 536.6,353.1 536.7,353.1 536.9,353.1 537.1,353.1 537.2,353.2 537.4,353.2 537.5,353.2 537.7,353.2 537.8,353.2 538.0,353.2 538.2,353.2 538.3,353.2 538.5,353.2 538.7,353.2 538.8,353.2 539.0,353.2 539.2,353.2 539.3,353.2 539.5,353.2 539.7,353.2 539.8,353.2 540.0,353.2 540.2,353.2 540.3,353.2 540.5,353.2 540.7,353.2 540.9,353.2 541.0,353.2 541.2,353.2 541.4,353.2 541.5,353.2 541.7,353.2 541.9,353.2 542.1,353.2 542.2,353.2 542.4,353.2 542.6,353.2 542.7,353.2 542.9,353.2 543.1,353.2 543.2,353.2 543.4,353.2 543.6,353.2 543.7,353.2 543.9,353.2 544.1,353.2 544.2,353.2 544.4,353.2 544.6,353.2 544.7,353.2 544.9,353.2 545.0,353.2 545.2,353.2 545.3,353.1 545.5,353.1 545.7,353.1 545.8,353.1 546.0,353.1 546.1,353.1 546.3,353.1 546.4,353.1 546.5,353.1 546.7,353.1 546.8,353.1 547.0,353.1 547.1,353.1 547.2,353.0 547.4,353.0 547.5,353.0 547.6,353.0 547.8,353.0 547.9,353.0 548.0,353.0 548.1,353.0 548.3,353.0 548.4,353.0 548.5,352.9 548.6,352.9 548.7,352.9 548.8,352.9 548.9,352.9 549.0,352.9 549.1,352.9 549.2,352.9 549.3,352.8 549.4,352.8 549.5,352.8 549.6,352.8 549.7,352.8 549.8,352.8 549.9,352.8 549.9,352.8 550.0,352.7 550.1,352.7 550.2,352.7 550.2,352.7 550.3,352.7 550.4,352.7 550.4,352.7 550.5,352.6 550.5,352.6 550.6,352.6 550.6,352.6 550.7,352.6 550.7,352.6 550.8,352.6 550.8,352.5 550.8,352.5 550.9,352.5 550.9,352.5 550.9,352.5 550.9,352.5 551.0,352.5 551.0,352.4 551.0,352.4 551.0,352.4 551.0,352.4 551.0,352.4 551.0,352.4 551.0,352.4 551.0,352.3 551.0,352.3 551.0,352.3 551.0,352.3 551.0,352.3 550.9,352.3 550.9,352.3 550.9,352.2 550.9,352.2 550.8,352.2 550.8,352.2 550.8,352.2 550.7,352.2 550.7,352.1 550.6,352.1 550.6,352.1 550.5,352.1 550.5,352.1 550.4,352.1 550.4,352.1 550.3,352.0 550.2,352.0 550.2,352.0 550.1,352.0 550.0,352.0 549.9,352.0 549.9,352.0 549.8,352.0" fill="none" stroke="#707070" stroke-width="0.8"/>
<circle cx="541.20" cy="407.80" r="56.50" fill="none" stroke="#4a4a4a" stroke-width="1.1"/>
<line x1="534.90" y1="351.05" x2="534.90" y2="464.55" stroke="#444" stroke-width="1"/>
<line x1="547.60" y1="351.06" x2="547.60" y2="464.54" stroke="#444" stroke-width="1"/>
<text x="542.80" y="351.50" font-size="6.2" font-weight="bold" text-anchor="middle" fill="#2a2a2a" textLength="7.7" lengthAdjust="spacingAndGlyphs">90</text>
<text x="559.60" y="356.00" font-size="6.2" font-weight="bold" text-anchor="middle" fill="#2a2a2a" textLength="7.7" lengthAdjust="spacingAndGlyphs">70</text>
<text x="574.00" y="368.00" font-size="6.2" font-weight="bold" text-anchor="middle" fill="#2a2a2a" textLength="7.7" lengthAdjust="spacingAndGlyphs">50</text>
<text x="584.00" y="383.40" font-size="6.2" font-weight="bold" text-anchor="middle" fill="#2a2a2a" textLength="7.7" lengthAdjust="spacingAndGlyphs">30</text>
<text x="590.00" y="402.00" font-size="6.2" font-weight="bold" text-anchor="middle" fill="#2a2a2a" textLength="7.7" lengthAdjust="spacingAndGlyphs">10</text>
<text x="590.00" y="412.70" font-size="6.2" font-weight="bold" text-anchor="middle" fill="#2a2a2a" textLength="4.3" lengthAdjust="spacingAndGlyphs">0</text>
<text x="590.00" y="421.50" font-size="6.2" font-weight="bold" text-anchor="middle" fill="#2a2a2a" textLength="12.8" lengthAdjust="spacingAndGlyphs">−10</text>
<text x="584.00" y="440.10" font-size="6.2" font-weight="bold" text-anchor="middle" fill="#2a2a2a" textLength="12.8" lengthAdjust="spacingAndGlyphs">−30</text>
<text x="572.60" y="453.80" font-size="6.2" font-weight="bold" text-anchor="middle" fill="#2a2a2a" textLength="12.8" lengthAdjust="spacingAndGlyphs">−50</text>
<text x="558.00" y="462.80" font-size="6.2" font-weight="bold" text-anchor="middle" fill="#2a2a2a" textLength="12.8" lengthAdjust="spacingAndGlyphs">−70</text>
<text x="0" y="0" font-size="9.2" text-anchor="middle" fill="#2a2a2a" transform="translate(8.6,242.0) rotate(-90)">Normɑlised intensity</text>
</svg>
</body></html>
